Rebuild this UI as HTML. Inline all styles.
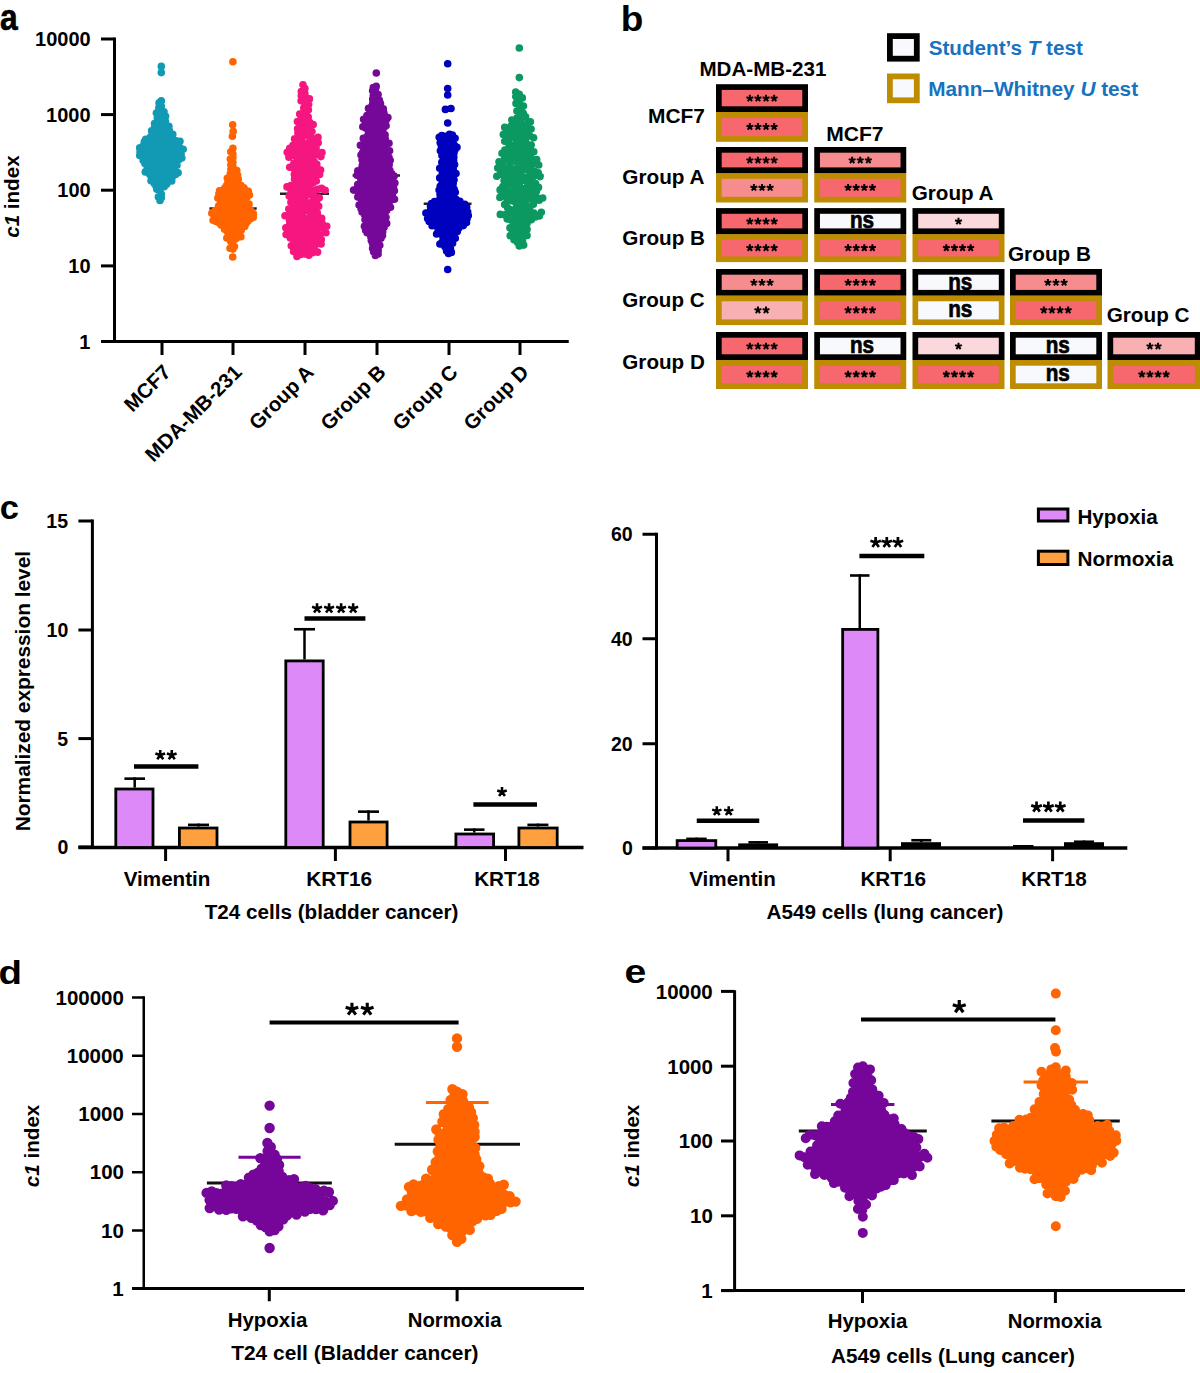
<!DOCTYPE html>
<html><head><meta charset="utf-8"><style>
html,body{margin:0;padding:0;background:#fff;width:1200px;height:1373px;overflow:hidden}
svg{display:block}
</style></head><body>
<svg width="1200" height="1373" viewBox="0 0 1200 1373">
<rect width="1200" height="1373" fill="#fff"/>
<line x1="114.50" y1="37.50" x2="114.50" y2="341.50" stroke="#000" stroke-width="3" stroke-linecap="butt"/>
<line x1="101.00" y1="39.00" x2="114.50" y2="39.00" stroke="#000" stroke-width="3" stroke-linecap="butt"/>
<line x1="101.00" y1="114.60" x2="114.50" y2="114.60" stroke="#000" stroke-width="3" stroke-linecap="butt"/>
<line x1="101.00" y1="190.20" x2="114.50" y2="190.20" stroke="#000" stroke-width="3" stroke-linecap="butt"/>
<line x1="101.00" y1="265.90" x2="114.50" y2="265.90" stroke="#000" stroke-width="3" stroke-linecap="butt"/>
<line x1="101.00" y1="341.50" x2="114.50" y2="341.50" stroke="#000" stroke-width="3" stroke-linecap="butt"/>
<line x1="101.00" y1="341.50" x2="568.75" y2="341.50" stroke="#000" stroke-width="3" stroke-linecap="butt"/>
<line x1="162.00" y1="341.50" x2="162.00" y2="355.00" stroke="#000" stroke-width="3" stroke-linecap="butt"/>
<line x1="233.00" y1="341.50" x2="233.00" y2="355.00" stroke="#000" stroke-width="3" stroke-linecap="butt"/>
<line x1="305.00" y1="341.50" x2="305.00" y2="355.00" stroke="#000" stroke-width="3" stroke-linecap="butt"/>
<line x1="377.00" y1="341.50" x2="377.00" y2="355.00" stroke="#000" stroke-width="3" stroke-linecap="butt"/>
<line x1="449.00" y1="341.50" x2="449.00" y2="355.00" stroke="#000" stroke-width="3" stroke-linecap="butt"/>
<line x1="520.00" y1="341.50" x2="520.00" y2="355.00" stroke="#000" stroke-width="3" stroke-linecap="butt"/>
<line x1="209.40" y1="208.40" x2="256.70" y2="208.40" stroke="#222" stroke-width="2.5" stroke-linecap="butt"/>
<line x1="280.00" y1="193.80" x2="329.00" y2="193.80" stroke="#222" stroke-width="2.5" stroke-linecap="butt"/>
<line x1="352.60" y1="175.40" x2="400.00" y2="175.40" stroke="#222" stroke-width="2.5" stroke-linecap="butt"/>
<line x1="423.70" y1="203.80" x2="471.50" y2="203.80" stroke="#222" stroke-width="2.5" stroke-linecap="butt"/>
<line x1="495.60" y1="175.40" x2="543.50" y2="175.40" stroke="#222" stroke-width="2.5" stroke-linecap="butt"/>
<path d="M157.5,147.2a3.8,3.8 0 1,0 7.6,0a3.8,3.8 0 1,0 -7.6,0M157.5,163.8a3.8,3.8 0 1,0 7.6,0a3.8,3.8 0 1,0 -7.6,0M157.5,168.9a3.8,3.8 0 1,0 7.6,0a3.8,3.8 0 1,0 -7.6,0M157.5,143.9a3.8,3.8 0 1,0 7.6,0a3.8,3.8 0 1,0 -7.6,0M157.5,177.2a3.8,3.8 0 1,0 7.6,0a3.8,3.8 0 1,0 -7.6,0M157.5,187.5a3.8,3.8 0 1,0 7.6,0a3.8,3.8 0 1,0 -7.6,0M157.5,157.5a3.8,3.8 0 1,0 7.6,0a3.8,3.8 0 1,0 -7.6,0M156.6,141.0a3.8,3.8 0 1,0 7.6,0a3.8,3.8 0 1,0 -7.6,0M157.5,119.9a3.8,3.8 0 1,0 7.6,0a3.8,3.8 0 1,0 -7.6,0M157.5,183.0a3.8,3.8 0 1,0 7.6,0a3.8,3.8 0 1,0 -7.6,0M157.5,129.3a3.8,3.8 0 1,0 7.6,0a3.8,3.8 0 1,0 -7.6,0M157.5,135.9a3.8,3.8 0 1,0 7.6,0a3.8,3.8 0 1,0 -7.6,0M154.6,120.8a3.8,3.8 0 1,0 7.6,0a3.8,3.8 0 1,0 -7.6,0M156.1,160.1a3.8,3.8 0 1,0 7.6,0a3.8,3.8 0 1,0 -7.6,0M154.6,176.1a3.8,3.8 0 1,0 7.6,0a3.8,3.8 0 1,0 -7.6,0M155.9,149.8a3.8,3.8 0 1,0 7.6,0a3.8,3.8 0 1,0 -7.6,0M159.5,149.5a3.8,3.8 0 1,0 7.6,0a3.8,3.8 0 1,0 -7.6,0M160.4,176.3a3.8,3.8 0 1,0 7.6,0a3.8,3.8 0 1,0 -7.6,0M154.6,128.2a3.8,3.8 0 1,0 7.6,0a3.8,3.8 0 1,0 -7.6,0M157.5,153.7a3.8,3.8 0 1,0 7.6,0a3.8,3.8 0 1,0 -7.6,0M154.8,156.0a3.8,3.8 0 1,0 7.6,0a3.8,3.8 0 1,0 -7.6,0M152.5,178.3a3.8,3.8 0 1,0 7.6,0a3.8,3.8 0 1,0 -7.6,0M157.5,172.5a3.8,3.8 0 1,0 7.6,0a3.8,3.8 0 1,0 -7.6,0M160.5,154.4a3.8,3.8 0 1,0 7.6,0a3.8,3.8 0 1,0 -7.6,0M152.9,150.4a3.8,3.8 0 1,0 7.6,0a3.8,3.8 0 1,0 -7.6,0M155.5,166.7a3.8,3.8 0 1,0 7.6,0a3.8,3.8 0 1,0 -7.6,0M154.6,144.8a3.8,3.8 0 1,0 7.6,0a3.8,3.8 0 1,0 -7.6,0M152.6,154.0a3.8,3.8 0 1,0 7.6,0a3.8,3.8 0 1,0 -7.6,0M157.5,116.6a3.8,3.8 0 1,0 7.6,0a3.8,3.8 0 1,0 -7.6,0M160.5,144.1a3.8,3.8 0 1,0 7.6,0a3.8,3.8 0 1,0 -7.6,0M159.0,160.8a3.8,3.8 0 1,0 7.6,0a3.8,3.8 0 1,0 -7.6,0M162.2,152.0a3.8,3.8 0 1,0 7.6,0a3.8,3.8 0 1,0 -7.6,0M157.5,110.3a3.8,3.8 0 1,0 7.6,0a3.8,3.8 0 1,0 -7.6,0M154.6,170.0a3.8,3.8 0 1,0 7.6,0a3.8,3.8 0 1,0 -7.6,0M162.3,148.5a3.8,3.8 0 1,0 7.6,0a3.8,3.8 0 1,0 -7.6,0M151.7,145.7a3.8,3.8 0 1,0 7.6,0a3.8,3.8 0 1,0 -7.6,0M149.9,151.0a3.8,3.8 0 1,0 7.6,0a3.8,3.8 0 1,0 -7.6,0M165.3,151.7a3.8,3.8 0 1,0 7.6,0a3.8,3.8 0 1,0 -7.6,0M160.5,129.9a3.8,3.8 0 1,0 7.6,0a3.8,3.8 0 1,0 -7.6,0M153.3,161.4a3.8,3.8 0 1,0 7.6,0a3.8,3.8 0 1,0 -7.6,0M163.5,154.8a3.8,3.8 0 1,0 7.6,0a3.8,3.8 0 1,0 -7.6,0M159.9,167.1a3.8,3.8 0 1,0 7.6,0a3.8,3.8 0 1,0 -7.6,0M147.4,152.6a3.8,3.8 0 1,0 7.6,0a3.8,3.8 0 1,0 -7.6,0M157.5,194.0a3.8,3.8 0 1,0 7.6,0a3.8,3.8 0 1,0 -7.6,0M161.9,161.7a3.8,3.8 0 1,0 7.6,0a3.8,3.8 0 1,0 -7.6,0M151.8,164.0a3.8,3.8 0 1,0 7.6,0a3.8,3.8 0 1,0 -7.6,0M165.2,147.6a3.8,3.8 0 1,0 7.6,0a3.8,3.8 0 1,0 -7.6,0M163.5,143.6a3.8,3.8 0 1,0 7.6,0a3.8,3.8 0 1,0 -7.6,0M159.5,140.0a3.8,3.8 0 1,0 7.6,0a3.8,3.8 0 1,0 -7.6,0M154.9,137.5a3.8,3.8 0 1,0 7.6,0a3.8,3.8 0 1,0 -7.6,0M163.4,175.6a3.8,3.8 0 1,0 7.6,0a3.8,3.8 0 1,0 -7.6,0M153.0,142.2a3.8,3.8 0 1,0 7.6,0a3.8,3.8 0 1,0 -7.6,0M155.2,114.6a3.8,3.8 0 1,0 7.6,0a3.8,3.8 0 1,0 -7.6,0M160.4,118.9a3.8,3.8 0 1,0 7.6,0a3.8,3.8 0 1,0 -7.6,0M151.2,156.7a3.8,3.8 0 1,0 7.6,0a3.8,3.8 0 1,0 -7.6,0M160.5,158.2a3.8,3.8 0 1,0 7.6,0a3.8,3.8 0 1,0 -7.6,0M161.9,169.4a3.8,3.8 0 1,0 7.6,0a3.8,3.8 0 1,0 -7.6,0M148.8,145.0a3.8,3.8 0 1,0 7.6,0a3.8,3.8 0 1,0 -7.6,0M158.8,122.6a3.8,3.8 0 1,0 7.6,0a3.8,3.8 0 1,0 -7.6,0M156.2,124.2a3.8,3.8 0 1,0 7.6,0a3.8,3.8 0 1,0 -7.6,0M166.0,156.5a3.8,3.8 0 1,0 7.6,0a3.8,3.8 0 1,0 -7.6,0M164.9,162.3a3.8,3.8 0 1,0 7.6,0a3.8,3.8 0 1,0 -7.6,0M151.6,169.6a3.8,3.8 0 1,0 7.6,0a3.8,3.8 0 1,0 -7.6,0M163.5,158.4a3.8,3.8 0 1,0 7.6,0a3.8,3.8 0 1,0 -7.6,0M164.0,171.5a3.8,3.8 0 1,0 7.6,0a3.8,3.8 0 1,0 -7.6,0M153.5,118.0a3.8,3.8 0 1,0 7.6,0a3.8,3.8 0 1,0 -7.6,0M163.2,128.6a3.8,3.8 0 1,0 7.6,0a3.8,3.8 0 1,0 -7.6,0M151.8,175.2a3.8,3.8 0 1,0 7.6,0a3.8,3.8 0 1,0 -7.6,0M150.2,161.2a3.8,3.8 0 1,0 7.6,0a3.8,3.8 0 1,0 -7.6,0M167.9,153.2a3.8,3.8 0 1,0 7.6,0a3.8,3.8 0 1,0 -7.6,0M155.1,184.9a3.8,3.8 0 1,0 7.6,0a3.8,3.8 0 1,0 -7.6,0M144.8,154.1a3.8,3.8 0 1,0 7.6,0a3.8,3.8 0 1,0 -7.6,0M147.6,149.0a3.8,3.8 0 1,0 7.6,0a3.8,3.8 0 1,0 -7.6,0M167.8,146.0a3.8,3.8 0 1,0 7.6,0a3.8,3.8 0 1,0 -7.6,0M156.2,132.0a3.8,3.8 0 1,0 7.6,0a3.8,3.8 0 1,0 -7.6,0M169.6,150.7a3.8,3.8 0 1,0 7.6,0a3.8,3.8 0 1,0 -7.6,0M159.2,132.7a3.8,3.8 0 1,0 7.6,0a3.8,3.8 0 1,0 -7.6,0M159.4,126.9a3.8,3.8 0 1,0 7.6,0a3.8,3.8 0 1,0 -7.6,0M157.5,100.9a3.8,3.8 0 1,0 7.6,0a3.8,3.8 0 1,0 -7.6,0M146.2,143.3a3.8,3.8 0 1,0 7.6,0a3.8,3.8 0 1,0 -7.6,0M160.4,182.3a3.8,3.8 0 1,0 7.6,0a3.8,3.8 0 1,0 -7.6,0M166.5,143.0a3.8,3.8 0 1,0 7.6,0a3.8,3.8 0 1,0 -7.6,0M148.2,157.3a3.8,3.8 0 1,0 7.6,0a3.8,3.8 0 1,0 -7.6,0M147.3,162.1a3.8,3.8 0 1,0 7.6,0a3.8,3.8 0 1,0 -7.6,0M144.8,150.0a3.8,3.8 0 1,0 7.6,0a3.8,3.8 0 1,0 -7.6,0M171.6,153.0a3.8,3.8 0 1,0 7.6,0a3.8,3.8 0 1,0 -7.6,0M149.0,173.8a3.8,3.8 0 1,0 7.6,0a3.8,3.8 0 1,0 -7.6,0M164.7,168.2a3.8,3.8 0 1,0 7.6,0a3.8,3.8 0 1,0 -7.6,0M167.0,171.0a3.8,3.8 0 1,0 7.6,0a3.8,3.8 0 1,0 -7.6,0M162.5,178.5a3.8,3.8 0 1,0 7.6,0a3.8,3.8 0 1,0 -7.6,0M155.9,190.1a3.8,3.8 0 1,0 7.6,0a3.8,3.8 0 1,0 -7.6,0M149.2,167.7a3.8,3.8 0 1,0 7.6,0a3.8,3.8 0 1,0 -7.6,0M162.8,184.2a3.8,3.8 0 1,0 7.6,0a3.8,3.8 0 1,0 -7.6,0M141.8,155.0a3.8,3.8 0 1,0 7.6,0a3.8,3.8 0 1,0 -7.6,0M160.5,173.2a3.8,3.8 0 1,0 7.6,0a3.8,3.8 0 1,0 -7.6,0M148.3,170.9a3.8,3.8 0 1,0 7.6,0a3.8,3.8 0 1,0 -7.6,0M153.3,133.1a3.8,3.8 0 1,0 7.6,0a3.8,3.8 0 1,0 -7.6,0M167.2,164.3a3.8,3.8 0 1,0 7.6,0a3.8,3.8 0 1,0 -7.6,0M145.6,146.8a3.8,3.8 0 1,0 7.6,0a3.8,3.8 0 1,0 -7.6,0M161.9,164.8a3.8,3.8 0 1,0 7.6,0a3.8,3.8 0 1,0 -7.6,0M168.9,173.4a3.8,3.8 0 1,0 7.6,0a3.8,3.8 0 1,0 -7.6,0M161.9,138.1a3.8,3.8 0 1,0 7.6,0a3.8,3.8 0 1,0 -7.6,0M157.5,197.8a3.8,3.8 0 1,0 7.6,0a3.8,3.8 0 1,0 -7.6,0M169.5,142.6a3.8,3.8 0 1,0 7.6,0a3.8,3.8 0 1,0 -7.6,0M152.9,125.7a3.8,3.8 0 1,0 7.6,0a3.8,3.8 0 1,0 -7.6,0M154.6,196.9a3.8,3.8 0 1,0 7.6,0a3.8,3.8 0 1,0 -7.6,0M173.5,155.3a3.8,3.8 0 1,0 7.6,0a3.8,3.8 0 1,0 -7.6,0M167.8,168.0a3.8,3.8 0 1,0 7.6,0a3.8,3.8 0 1,0 -7.6,0M167.6,159.0a3.8,3.8 0 1,0 7.6,0a3.8,3.8 0 1,0 -7.6,0M165.1,126.2a3.8,3.8 0 1,0 7.6,0a3.8,3.8 0 1,0 -7.6,0M146.2,174.8a3.8,3.8 0 1,0 7.6,0a3.8,3.8 0 1,0 -7.6,0M161.5,124.7a3.8,3.8 0 1,0 7.6,0a3.8,3.8 0 1,0 -7.6,0M155.3,102.9a3.8,3.8 0 1,0 7.6,0a3.8,3.8 0 1,0 -7.6,0M152.0,136.5a3.8,3.8 0 1,0 7.6,0a3.8,3.8 0 1,0 -7.6,0M169.9,157.0a3.8,3.8 0 1,0 7.6,0a3.8,3.8 0 1,0 -7.6,0M174.5,152.4a3.8,3.8 0 1,0 7.6,0a3.8,3.8 0 1,0 -7.6,0M171.8,174.4a3.8,3.8 0 1,0 7.6,0a3.8,3.8 0 1,0 -7.6,0M145.4,159.7a3.8,3.8 0 1,0 7.6,0a3.8,3.8 0 1,0 -7.6,0M143.4,144.4a3.8,3.8 0 1,0 7.6,0a3.8,3.8 0 1,0 -7.6,0M144.6,172.2a3.8,3.8 0 1,0 7.6,0a3.8,3.8 0 1,0 -7.6,0M160.2,111.7a3.8,3.8 0 1,0 7.6,0a3.8,3.8 0 1,0 -7.6,0M155.9,179.8a3.8,3.8 0 1,0 7.6,0a3.8,3.8 0 1,0 -7.6,0M172.3,158.9a3.8,3.8 0 1,0 7.6,0a3.8,3.8 0 1,0 -7.6,0M147.0,165.6a3.8,3.8 0 1,0 7.6,0a3.8,3.8 0 1,0 -7.6,0M150.0,141.7a3.8,3.8 0 1,0 7.6,0a3.8,3.8 0 1,0 -7.6,0M163.4,135.5a3.8,3.8 0 1,0 7.6,0a3.8,3.8 0 1,0 -7.6,0M149.3,177.0a3.8,3.8 0 1,0 7.6,0a3.8,3.8 0 1,0 -7.6,0M161.8,116.2a3.8,3.8 0 1,0 7.6,0a3.8,3.8 0 1,0 -7.6,0M144.4,140.8a3.8,3.8 0 1,0 7.6,0a3.8,3.8 0 1,0 -7.6,0M164.4,139.7a3.8,3.8 0 1,0 7.6,0a3.8,3.8 0 1,0 -7.6,0M150.6,127.7a3.8,3.8 0 1,0 7.6,0a3.8,3.8 0 1,0 -7.6,0M165.5,179.2a3.8,3.8 0 1,0 7.6,0a3.8,3.8 0 1,0 -7.6,0M160.4,186.7a3.8,3.8 0 1,0 7.6,0a3.8,3.8 0 1,0 -7.6,0M142.4,159.9a3.8,3.8 0 1,0 7.6,0a3.8,3.8 0 1,0 -7.6,0M170.8,145.3a3.8,3.8 0 1,0 7.6,0a3.8,3.8 0 1,0 -7.6,0M169.8,162.6a3.8,3.8 0 1,0 7.6,0a3.8,3.8 0 1,0 -7.6,0M152.2,185.9a3.8,3.8 0 1,0 7.6,0a3.8,3.8 0 1,0 -7.6,0M171.7,140.5a3.8,3.8 0 1,0 7.6,0a3.8,3.8 0 1,0 -7.6,0M170.3,166.3a3.8,3.8 0 1,0 7.6,0a3.8,3.8 0 1,0 -7.6,0M150.2,180.3a3.8,3.8 0 1,0 7.6,0a3.8,3.8 0 1,0 -7.6,0M165.6,130.5a3.8,3.8 0 1,0 7.6,0a3.8,3.8 0 1,0 -7.6,0M168.2,177.7a3.8,3.8 0 1,0 7.6,0a3.8,3.8 0 1,0 -7.6,0M175.3,159.4a3.8,3.8 0 1,0 7.6,0a3.8,3.8 0 1,0 -7.6,0M150.8,131.5a3.8,3.8 0 1,0 7.6,0a3.8,3.8 0 1,0 -7.6,0M149.0,138.8a3.8,3.8 0 1,0 7.6,0a3.8,3.8 0 1,0 -7.6,0M153.4,181.5a3.8,3.8 0 1,0 7.6,0a3.8,3.8 0 1,0 -7.6,0M147.2,180.7a3.8,3.8 0 1,0 7.6,0a3.8,3.8 0 1,0 -7.6,0M149.6,134.7a3.8,3.8 0 1,0 7.6,0a3.8,3.8 0 1,0 -7.6,0M166.0,133.8a3.8,3.8 0 1,0 7.6,0a3.8,3.8 0 1,0 -7.6,0M167.2,138.3a3.8,3.8 0 1,0 7.6,0a3.8,3.8 0 1,0 -7.6,0M144.5,163.1a3.8,3.8 0 1,0 7.6,0a3.8,3.8 0 1,0 -7.6,0M142.1,151.4a3.8,3.8 0 1,0 7.6,0a3.8,3.8 0 1,0 -7.6,0M173.6,142.8a3.8,3.8 0 1,0 7.6,0a3.8,3.8 0 1,0 -7.6,0M146.0,168.5a3.8,3.8 0 1,0 7.6,0a3.8,3.8 0 1,0 -7.6,0M150.7,123.6a3.8,3.8 0 1,0 7.6,0a3.8,3.8 0 1,0 -7.6,0M146.4,137.2a3.8,3.8 0 1,0 7.6,0a3.8,3.8 0 1,0 -7.6,0M141.6,146.9a3.8,3.8 0 1,0 7.6,0a3.8,3.8 0 1,0 -7.6,0M138.9,155.7a3.8,3.8 0 1,0 7.6,0a3.8,3.8 0 1,0 -7.6,0M170.0,170.3a3.8,3.8 0 1,0 7.6,0a3.8,3.8 0 1,0 -7.6,0M156.2,200.5a3.8,3.8 0 1,0 7.6,0a3.8,3.8 0 1,0 -7.6,0M141.9,139.2a3.8,3.8 0 1,0 7.6,0a3.8,3.8 0 1,0 -7.6,0M147.8,130.9a3.8,3.8 0 1,0 7.6,0a3.8,3.8 0 1,0 -7.6,0M174.8,145.6a3.8,3.8 0 1,0 7.6,0a3.8,3.8 0 1,0 -7.6,0M171.8,148.7a3.8,3.8 0 1,0 7.6,0a3.8,3.8 0 1,0 -7.6,0M177.3,153.5a3.8,3.8 0 1,0 7.6,0a3.8,3.8 0 1,0 -7.6,0M138.6,146.5a3.8,3.8 0 1,0 7.6,0a3.8,3.8 0 1,0 -7.6,0M143.1,165.8a3.8,3.8 0 1,0 7.6,0a3.8,3.8 0 1,0 -7.6,0M176.6,148.1a3.8,3.8 0 1,0 7.6,0a3.8,3.8 0 1,0 -7.6,0M140.5,141.9a3.8,3.8 0 1,0 7.6,0a3.8,3.8 0 1,0 -7.6,0M153.0,189.2a3.8,3.8 0 1,0 7.6,0a3.8,3.8 0 1,0 -7.6,0M139.0,151.0a3.8,3.8 0 1,0 7.6,0a3.8,3.8 0 1,0 -7.6,0M161.7,121.6a3.8,3.8 0 1,0 7.6,0a3.8,3.8 0 1,0 -7.6,0M157.5,106.2a3.8,3.8 0 1,0 7.6,0a3.8,3.8 0 1,0 -7.6,0M135.9,155.6a3.8,3.8 0 1,0 7.6,0a3.8,3.8 0 1,0 -7.6,0M178.0,157.9a3.8,3.8 0 1,0 7.6,0a3.8,3.8 0 1,0 -7.6,0M167.9,181.0a3.8,3.8 0 1,0 7.6,0a3.8,3.8 0 1,0 -7.6,0M152.6,113.1a3.8,3.8 0 1,0 7.6,0a3.8,3.8 0 1,0 -7.6,0M176.2,141.2a3.8,3.8 0 1,0 7.6,0a3.8,3.8 0 1,0 -7.6,0M139.4,160.6a3.8,3.8 0 1,0 7.6,0a3.8,3.8 0 1,0 -7.6,0M155.0,107.9a3.8,3.8 0 1,0 7.6,0a3.8,3.8 0 1,0 -7.6,0M150.5,183.4a3.8,3.8 0 1,0 7.6,0a3.8,3.8 0 1,0 -7.6,0M135.9,147.9a3.8,3.8 0 1,0 7.6,0a3.8,3.8 0 1,0 -7.6,0M141.5,171.9a3.8,3.8 0 1,0 7.6,0a3.8,3.8 0 1,0 -7.6,0M179.4,149.3a3.8,3.8 0 1,0 7.6,0a3.8,3.8 0 1,0 -7.6,0M169.0,134.3a3.8,3.8 0 1,0 7.6,0a3.8,3.8 0 1,0 -7.6,0M173.2,165.3a3.8,3.8 0 1,0 7.6,0a3.8,3.8 0 1,0 -7.6,0M141.1,163.5a3.8,3.8 0 1,0 7.6,0a3.8,3.8 0 1,0 -7.6,0M174.3,172.7a3.8,3.8 0 1,0 7.6,0a3.8,3.8 0 1,0 -7.6,0M136.2,152.1a3.8,3.8 0 1,0 7.6,0a3.8,3.8 0 1,0 -7.6,0M157.5,66.4a3.8,3.8 0 1,0 7.6,0a3.8,3.8 0 1,0 -7.6,0M157.5,72.6a3.8,3.8 0 1,0 7.6,0a3.8,3.8 0 1,0 -7.6,0" fill="#1299b4"/>
<path d="M229.1,217.6a3.8,3.8 0 1,0 7.6,0a3.8,3.8 0 1,0 -7.6,0M229.1,211.0a3.8,3.8 0 1,0 7.6,0a3.8,3.8 0 1,0 -7.6,0M229.1,181.3a3.8,3.8 0 1,0 7.6,0a3.8,3.8 0 1,0 -7.6,0M226.2,211.9a3.8,3.8 0 1,0 7.6,0a3.8,3.8 0 1,0 -7.6,0M229.1,205.3a3.8,3.8 0 1,0 7.6,0a3.8,3.8 0 1,0 -7.6,0M229.1,187.1a3.8,3.8 0 1,0 7.6,0a3.8,3.8 0 1,0 -7.6,0M226.1,205.7a3.8,3.8 0 1,0 7.6,0a3.8,3.8 0 1,0 -7.6,0M229.1,196.4a3.8,3.8 0 1,0 7.6,0a3.8,3.8 0 1,0 -7.6,0M226.7,189.0a3.8,3.8 0 1,0 7.6,0a3.8,3.8 0 1,0 -7.6,0M227.2,215.2a3.8,3.8 0 1,0 7.6,0a3.8,3.8 0 1,0 -7.6,0M227.2,220.0a3.8,3.8 0 1,0 7.6,0a3.8,3.8 0 1,0 -7.6,0M229.1,232.9a3.8,3.8 0 1,0 7.6,0a3.8,3.8 0 1,0 -7.6,0M229.1,228.5a3.8,3.8 0 1,0 7.6,0a3.8,3.8 0 1,0 -7.6,0M226.8,194.5a3.8,3.8 0 1,0 7.6,0a3.8,3.8 0 1,0 -7.6,0M229.1,223.3a3.8,3.8 0 1,0 7.6,0a3.8,3.8 0 1,0 -7.6,0M231.8,216.2a3.8,3.8 0 1,0 7.6,0a3.8,3.8 0 1,0 -7.6,0M224.2,214.6a3.8,3.8 0 1,0 7.6,0a3.8,3.8 0 1,0 -7.6,0M231.8,221.9a3.8,3.8 0 1,0 7.6,0a3.8,3.8 0 1,0 -7.6,0M231.7,194.9a3.8,3.8 0 1,0 7.6,0a3.8,3.8 0 1,0 -7.6,0M229.1,191.9a3.8,3.8 0 1,0 7.6,0a3.8,3.8 0 1,0 -7.6,0M231.5,212.8a3.8,3.8 0 1,0 7.6,0a3.8,3.8 0 1,0 -7.6,0M234.8,216.0a3.8,3.8 0 1,0 7.6,0a3.8,3.8 0 1,0 -7.6,0M224.5,218.6a3.8,3.8 0 1,0 7.6,0a3.8,3.8 0 1,0 -7.6,0M232.1,186.6a3.8,3.8 0 1,0 7.6,0a3.8,3.8 0 1,0 -7.6,0M229.1,199.5a3.8,3.8 0 1,0 7.6,0a3.8,3.8 0 1,0 -7.6,0M226.2,232.0a3.8,3.8 0 1,0 7.6,0a3.8,3.8 0 1,0 -7.6,0M232.1,229.0a3.8,3.8 0 1,0 7.6,0a3.8,3.8 0 1,0 -7.6,0M229.1,171.5a3.8,3.8 0 1,0 7.6,0a3.8,3.8 0 1,0 -7.6,0M234.0,192.9a3.8,3.8 0 1,0 7.6,0a3.8,3.8 0 1,0 -7.6,0M225.6,186.2a3.8,3.8 0 1,0 7.6,0a3.8,3.8 0 1,0 -7.6,0M225.4,222.4a3.8,3.8 0 1,0 7.6,0a3.8,3.8 0 1,0 -7.6,0M233.5,219.4a3.8,3.8 0 1,0 7.6,0a3.8,3.8 0 1,0 -7.6,0M234.5,212.4a3.8,3.8 0 1,0 7.6,0a3.8,3.8 0 1,0 -7.6,0M226.3,197.5a3.8,3.8 0 1,0 7.6,0a3.8,3.8 0 1,0 -7.6,0M222.2,220.6a3.8,3.8 0 1,0 7.6,0a3.8,3.8 0 1,0 -7.6,0M234.5,196.0a3.8,3.8 0 1,0 7.6,0a3.8,3.8 0 1,0 -7.6,0M234.7,188.1a3.8,3.8 0 1,0 7.6,0a3.8,3.8 0 1,0 -7.6,0M233.5,224.4a3.8,3.8 0 1,0 7.6,0a3.8,3.8 0 1,0 -7.6,0M232.1,204.7a3.8,3.8 0 1,0 7.6,0a3.8,3.8 0 1,0 -7.6,0M226.3,227.2a3.8,3.8 0 1,0 7.6,0a3.8,3.8 0 1,0 -7.6,0M221.4,213.4a3.8,3.8 0 1,0 7.6,0a3.8,3.8 0 1,0 -7.6,0M224.7,192.2a3.8,3.8 0 1,0 7.6,0a3.8,3.8 0 1,0 -7.6,0M236.9,218.2a3.8,3.8 0 1,0 7.6,0a3.8,3.8 0 1,0 -7.6,0M222.5,185.9a3.8,3.8 0 1,0 7.6,0a3.8,3.8 0 1,0 -7.6,0M230.8,225.8a3.8,3.8 0 1,0 7.6,0a3.8,3.8 0 1,0 -7.6,0M221.7,191.6a3.8,3.8 0 1,0 7.6,0a3.8,3.8 0 1,0 -7.6,0M231.5,209.1a3.8,3.8 0 1,0 7.6,0a3.8,3.8 0 1,0 -7.6,0M229.1,157.5a3.8,3.8 0 1,0 7.6,0a3.8,3.8 0 1,0 -7.6,0M237.1,193.2a3.8,3.8 0 1,0 7.6,0a3.8,3.8 0 1,0 -7.6,0M234.1,207.0a3.8,3.8 0 1,0 7.6,0a3.8,3.8 0 1,0 -7.6,0M227.7,202.2a3.8,3.8 0 1,0 7.6,0a3.8,3.8 0 1,0 -7.6,0M231.2,189.7a3.8,3.8 0 1,0 7.6,0a3.8,3.8 0 1,0 -7.6,0M229.1,166.9a3.8,3.8 0 1,0 7.6,0a3.8,3.8 0 1,0 -7.6,0M227.1,169.2a3.8,3.8 0 1,0 7.6,0a3.8,3.8 0 1,0 -7.6,0M232.1,199.1a3.8,3.8 0 1,0 7.6,0a3.8,3.8 0 1,0 -7.6,0M223.2,206.8a3.8,3.8 0 1,0 7.6,0a3.8,3.8 0 1,0 -7.6,0M223.6,198.9a3.8,3.8 0 1,0 7.6,0a3.8,3.8 0 1,0 -7.6,0M222.8,224.1a3.8,3.8 0 1,0 7.6,0a3.8,3.8 0 1,0 -7.6,0M230.8,183.8a3.8,3.8 0 1,0 7.6,0a3.8,3.8 0 1,0 -7.6,0M229.1,175.0a3.8,3.8 0 1,0 7.6,0a3.8,3.8 0 1,0 -7.6,0M223.9,195.5a3.8,3.8 0 1,0 7.6,0a3.8,3.8 0 1,0 -7.6,0M226.3,180.0a3.8,3.8 0 1,0 7.6,0a3.8,3.8 0 1,0 -7.6,0M220.2,194.2a3.8,3.8 0 1,0 7.6,0a3.8,3.8 0 1,0 -7.6,0M237.1,207.5a3.8,3.8 0 1,0 7.6,0a3.8,3.8 0 1,0 -7.6,0M237.4,196.9a3.8,3.8 0 1,0 7.6,0a3.8,3.8 0 1,0 -7.6,0M221.7,217.4a3.8,3.8 0 1,0 7.6,0a3.8,3.8 0 1,0 -7.6,0M237.5,211.5a3.8,3.8 0 1,0 7.6,0a3.8,3.8 0 1,0 -7.6,0M238.4,215.6a3.8,3.8 0 1,0 7.6,0a3.8,3.8 0 1,0 -7.6,0M229.1,239.4a3.8,3.8 0 1,0 7.6,0a3.8,3.8 0 1,0 -7.6,0M220.6,198.6a3.8,3.8 0 1,0 7.6,0a3.8,3.8 0 1,0 -7.6,0M235.4,226.7a3.8,3.8 0 1,0 7.6,0a3.8,3.8 0 1,0 -7.6,0M229.1,154.0a3.8,3.8 0 1,0 7.6,0a3.8,3.8 0 1,0 -7.6,0M240.4,197.6a3.8,3.8 0 1,0 7.6,0a3.8,3.8 0 1,0 -7.6,0M226.5,173.5a3.8,3.8 0 1,0 7.6,0a3.8,3.8 0 1,0 -7.6,0M231.6,173.3a3.8,3.8 0 1,0 7.6,0a3.8,3.8 0 1,0 -7.6,0M227.0,164.7a3.8,3.8 0 1,0 7.6,0a3.8,3.8 0 1,0 -7.6,0M219.1,215.4a3.8,3.8 0 1,0 7.6,0a3.8,3.8 0 1,0 -7.6,0M241.2,217.0a3.8,3.8 0 1,0 7.6,0a3.8,3.8 0 1,0 -7.6,0M220.5,208.0a3.8,3.8 0 1,0 7.6,0a3.8,3.8 0 1,0 -7.6,0M234.6,230.8a3.8,3.8 0 1,0 7.6,0a3.8,3.8 0 1,0 -7.6,0M234.1,184.4a3.8,3.8 0 1,0 7.6,0a3.8,3.8 0 1,0 -7.6,0M218.8,212.0a3.8,3.8 0 1,0 7.6,0a3.8,3.8 0 1,0 -7.6,0M233.4,201.8a3.8,3.8 0 1,0 7.6,0a3.8,3.8 0 1,0 -7.6,0M217.5,195.7a3.8,3.8 0 1,0 7.6,0a3.8,3.8 0 1,0 -7.6,0M216.3,216.7a3.8,3.8 0 1,0 7.6,0a3.8,3.8 0 1,0 -7.6,0M222.1,201.6a3.8,3.8 0 1,0 7.6,0a3.8,3.8 0 1,0 -7.6,0M231.8,234.3a3.8,3.8 0 1,0 7.6,0a3.8,3.8 0 1,0 -7.6,0M240.1,193.5a3.8,3.8 0 1,0 7.6,0a3.8,3.8 0 1,0 -7.6,0M242.6,214.3a3.8,3.8 0 1,0 7.6,0a3.8,3.8 0 1,0 -7.6,0M227.0,151.8a3.8,3.8 0 1,0 7.6,0a3.8,3.8 0 1,0 -7.6,0M220.8,204.9a3.8,3.8 0 1,0 7.6,0a3.8,3.8 0 1,0 -7.6,0M219.2,219.8a3.8,3.8 0 1,0 7.6,0a3.8,3.8 0 1,0 -7.6,0M236.3,202.9a3.8,3.8 0 1,0 7.6,0a3.8,3.8 0 1,0 -7.6,0M240.1,208.2a3.8,3.8 0 1,0 7.6,0a3.8,3.8 0 1,0 -7.6,0M244.8,216.4a3.8,3.8 0 1,0 7.6,0a3.8,3.8 0 1,0 -7.6,0M226.5,159.1a3.8,3.8 0 1,0 7.6,0a3.8,3.8 0 1,0 -7.6,0M215.1,193.8a3.8,3.8 0 1,0 7.6,0a3.8,3.8 0 1,0 -7.6,0M226.9,237.3a3.8,3.8 0 1,0 7.6,0a3.8,3.8 0 1,0 -7.6,0M214.4,219.0a3.8,3.8 0 1,0 7.6,0a3.8,3.8 0 1,0 -7.6,0M213.9,215.0a3.8,3.8 0 1,0 7.6,0a3.8,3.8 0 1,0 -7.6,0M237.5,189.3a3.8,3.8 0 1,0 7.6,0a3.8,3.8 0 1,0 -7.6,0M217.8,206.4a3.8,3.8 0 1,0 7.6,0a3.8,3.8 0 1,0 -7.6,0M234.1,236.3a3.8,3.8 0 1,0 7.6,0a3.8,3.8 0 1,0 -7.6,0M230.8,177.5a3.8,3.8 0 1,0 7.6,0a3.8,3.8 0 1,0 -7.6,0M239.2,203.6a3.8,3.8 0 1,0 7.6,0a3.8,3.8 0 1,0 -7.6,0M227.0,183.5a3.8,3.8 0 1,0 7.6,0a3.8,3.8 0 1,0 -7.6,0M246.6,213.9a3.8,3.8 0 1,0 7.6,0a3.8,3.8 0 1,0 -7.6,0M223.3,231.2a3.8,3.8 0 1,0 7.6,0a3.8,3.8 0 1,0 -7.6,0M224.5,235.4a3.8,3.8 0 1,0 7.6,0a3.8,3.8 0 1,0 -7.6,0M236.2,222.8a3.8,3.8 0 1,0 7.6,0a3.8,3.8 0 1,0 -7.6,0M220.7,188.3a3.8,3.8 0 1,0 7.6,0a3.8,3.8 0 1,0 -7.6,0M229.1,249.1a3.8,3.8 0 1,0 7.6,0a3.8,3.8 0 1,0 -7.6,0M220.2,225.6a3.8,3.8 0 1,0 7.6,0a3.8,3.8 0 1,0 -7.6,0M226.8,241.3a3.8,3.8 0 1,0 7.6,0a3.8,3.8 0 1,0 -7.6,0M238.1,225.3a3.8,3.8 0 1,0 7.6,0a3.8,3.8 0 1,0 -7.6,0M218.8,190.9a3.8,3.8 0 1,0 7.6,0a3.8,3.8 0 1,0 -7.6,0M229.1,148.2a3.8,3.8 0 1,0 7.6,0a3.8,3.8 0 1,0 -7.6,0M226.2,248.2a3.8,3.8 0 1,0 7.6,0a3.8,3.8 0 1,0 -7.6,0M216.9,209.6a3.8,3.8 0 1,0 7.6,0a3.8,3.8 0 1,0 -7.6,0M240.1,187.7a3.8,3.8 0 1,0 7.6,0a3.8,3.8 0 1,0 -7.6,0M217.2,224.9a3.8,3.8 0 1,0 7.6,0a3.8,3.8 0 1,0 -7.6,0M232.1,180.9a3.8,3.8 0 1,0 7.6,0a3.8,3.8 0 1,0 -7.6,0M243.0,207.4a3.8,3.8 0 1,0 7.6,0a3.8,3.8 0 1,0 -7.6,0M238.2,200.6a3.8,3.8 0 1,0 7.6,0a3.8,3.8 0 1,0 -7.6,0M238.6,221.0a3.8,3.8 0 1,0 7.6,0a3.8,3.8 0 1,0 -7.6,0M240.9,226.4a3.8,3.8 0 1,0 7.6,0a3.8,3.8 0 1,0 -7.6,0M219.0,201.3a3.8,3.8 0 1,0 7.6,0a3.8,3.8 0 1,0 -7.6,0M223.0,238.0a3.8,3.8 0 1,0 7.6,0a3.8,3.8 0 1,0 -7.6,0M242.2,223.6a3.8,3.8 0 1,0 7.6,0a3.8,3.8 0 1,0 -7.6,0M211.0,214.1a3.8,3.8 0 1,0 7.6,0a3.8,3.8 0 1,0 -7.6,0M214.8,206.1a3.8,3.8 0 1,0 7.6,0a3.8,3.8 0 1,0 -7.6,0M226.0,176.5a3.8,3.8 0 1,0 7.6,0a3.8,3.8 0 1,0 -7.6,0M223.3,227.8a3.8,3.8 0 1,0 7.6,0a3.8,3.8 0 1,0 -7.6,0M230.7,246.5a3.8,3.8 0 1,0 7.6,0a3.8,3.8 0 1,0 -7.6,0M246.8,218.7a3.8,3.8 0 1,0 7.6,0a3.8,3.8 0 1,0 -7.6,0M236.0,233.5a3.8,3.8 0 1,0 7.6,0a3.8,3.8 0 1,0 -7.6,0M242.2,204.3a3.8,3.8 0 1,0 7.6,0a3.8,3.8 0 1,0 -7.6,0M243.4,197.0a3.8,3.8 0 1,0 7.6,0a3.8,3.8 0 1,0 -7.6,0M232.1,238.8a3.8,3.8 0 1,0 7.6,0a3.8,3.8 0 1,0 -7.6,0M233.0,170.6a3.8,3.8 0 1,0 7.6,0a3.8,3.8 0 1,0 -7.6,0M233.8,175.4a3.8,3.8 0 1,0 7.6,0a3.8,3.8 0 1,0 -7.6,0M241.7,190.3a3.8,3.8 0 1,0 7.6,0a3.8,3.8 0 1,0 -7.6,0M227.1,208.7a3.8,3.8 0 1,0 7.6,0a3.8,3.8 0 1,0 -7.6,0M237.1,236.7a3.8,3.8 0 1,0 7.6,0a3.8,3.8 0 1,0 -7.6,0M234.5,179.1a3.8,3.8 0 1,0 7.6,0a3.8,3.8 0 1,0 -7.6,0M249.6,213.7a3.8,3.8 0 1,0 7.6,0a3.8,3.8 0 1,0 -7.6,0M215.1,222.7a3.8,3.8 0 1,0 7.6,0a3.8,3.8 0 1,0 -7.6,0M244.0,221.2a3.8,3.8 0 1,0 7.6,0a3.8,3.8 0 1,0 -7.6,0M223.5,178.2a3.8,3.8 0 1,0 7.6,0a3.8,3.8 0 1,0 -7.6,0M213.9,209.0a3.8,3.8 0 1,0 7.6,0a3.8,3.8 0 1,0 -7.6,0M223.7,210.1a3.8,3.8 0 1,0 7.6,0a3.8,3.8 0 1,0 -7.6,0M212.3,221.5a3.8,3.8 0 1,0 7.6,0a3.8,3.8 0 1,0 -7.6,0M208.0,213.2a3.8,3.8 0 1,0 7.6,0a3.8,3.8 0 1,0 -7.6,0M240.5,211.3a3.8,3.8 0 1,0 7.6,0a3.8,3.8 0 1,0 -7.6,0M216.2,200.1a3.8,3.8 0 1,0 7.6,0a3.8,3.8 0 1,0 -7.6,0M243.7,210.4a3.8,3.8 0 1,0 7.6,0a3.8,3.8 0 1,0 -7.6,0M229.1,162.3a3.8,3.8 0 1,0 7.6,0a3.8,3.8 0 1,0 -7.6,0M245.2,204.0a3.8,3.8 0 1,0 7.6,0a3.8,3.8 0 1,0 -7.6,0M211.5,218.1a3.8,3.8 0 1,0 7.6,0a3.8,3.8 0 1,0 -7.6,0M245.6,195.0a3.8,3.8 0 1,0 7.6,0a3.8,3.8 0 1,0 -7.6,0M215.7,190.7a3.8,3.8 0 1,0 7.6,0a3.8,3.8 0 1,0 -7.6,0M237.5,230.1a3.8,3.8 0 1,0 7.6,0a3.8,3.8 0 1,0 -7.6,0M237.1,185.2a3.8,3.8 0 1,0 7.6,0a3.8,3.8 0 1,0 -7.6,0M244.6,191.4a3.8,3.8 0 1,0 7.6,0a3.8,3.8 0 1,0 -7.6,0M220.7,229.3a3.8,3.8 0 1,0 7.6,0a3.8,3.8 0 1,0 -7.6,0M246.7,209.7a3.8,3.8 0 1,0 7.6,0a3.8,3.8 0 1,0 -7.6,0M214.0,198.0a3.8,3.8 0 1,0 7.6,0a3.8,3.8 0 1,0 -7.6,0M216.6,203.1a3.8,3.8 0 1,0 7.6,0a3.8,3.8 0 1,0 -7.6,0M249.4,217.2a3.8,3.8 0 1,0 7.6,0a3.8,3.8 0 1,0 -7.6,0M242.0,200.2a3.8,3.8 0 1,0 7.6,0a3.8,3.8 0 1,0 -7.6,0M211.3,210.6a3.8,3.8 0 1,0 7.6,0a3.8,3.8 0 1,0 -7.6,0M224.1,182.1a3.8,3.8 0 1,0 7.6,0a3.8,3.8 0 1,0 -7.6,0M209.3,220.2a3.8,3.8 0 1,0 7.6,0a3.8,3.8 0 1,0 -7.6,0M215.8,212.6a3.8,3.8 0 1,0 7.6,0a3.8,3.8 0 1,0 -7.6,0M229.1,243.9a3.8,3.8 0 1,0 7.6,0a3.8,3.8 0 1,0 -7.6,0M229.1,61.7a3.8,3.8 0 1,0 7.6,0a3.8,3.8 0 1,0 -7.6,0M228.9,124.8a3.8,3.8 0 1,0 7.6,0a3.8,3.8 0 1,0 -7.6,0M229.4,131.4a3.8,3.8 0 1,0 7.6,0a3.8,3.8 0 1,0 -7.6,0M228.6,136.3a3.8,3.8 0 1,0 7.6,0a3.8,3.8 0 1,0 -7.6,0M228.9,257.0a3.8,3.8 0 1,0 7.6,0a3.8,3.8 0 1,0 -7.6,0" fill="#ff6400"/>
<path d="M301.1,143.7a3.8,3.8 0 1,0 7.6,0a3.8,3.8 0 1,0 -7.6,0M301.1,198.8a3.8,3.8 0 1,0 7.6,0a3.8,3.8 0 1,0 -7.6,0M301.1,231.2a3.8,3.8 0 1,0 7.6,0a3.8,3.8 0 1,0 -7.6,0M301.1,112.0a3.8,3.8 0 1,0 7.6,0a3.8,3.8 0 1,0 -7.6,0M301.1,135.6a3.8,3.8 0 1,0 7.6,0a3.8,3.8 0 1,0 -7.6,0M301.1,210.4a3.8,3.8 0 1,0 7.6,0a3.8,3.8 0 1,0 -7.6,0M301.1,183.9a3.8,3.8 0 1,0 7.6,0a3.8,3.8 0 1,0 -7.6,0M301.1,173.0a3.8,3.8 0 1,0 7.6,0a3.8,3.8 0 1,0 -7.6,0M301.1,222.6a3.8,3.8 0 1,0 7.6,0a3.8,3.8 0 1,0 -7.6,0M301.1,162.9a3.8,3.8 0 1,0 7.6,0a3.8,3.8 0 1,0 -7.6,0M297.0,211.4a3.8,3.8 0 1,0 7.6,0a3.8,3.8 0 1,0 -7.6,0M297.0,221.6a3.8,3.8 0 1,0 7.6,0a3.8,3.8 0 1,0 -7.6,0M301.1,240.3a3.8,3.8 0 1,0 7.6,0a3.8,3.8 0 1,0 -7.6,0M301.1,93.6a3.8,3.8 0 1,0 7.6,0a3.8,3.8 0 1,0 -7.6,0M301.1,88.5a3.8,3.8 0 1,0 7.6,0a3.8,3.8 0 1,0 -7.6,0M301.1,128.5a3.8,3.8 0 1,0 7.6,0a3.8,3.8 0 1,0 -7.6,0M297.9,160.2a3.8,3.8 0 1,0 7.6,0a3.8,3.8 0 1,0 -7.6,0M304.7,208.3a3.8,3.8 0 1,0 7.6,0a3.8,3.8 0 1,0 -7.6,0M302.5,218.7a3.8,3.8 0 1,0 7.6,0a3.8,3.8 0 1,0 -7.6,0M297.0,172.5a3.8,3.8 0 1,0 7.6,0a3.8,3.8 0 1,0 -7.6,0M297.9,141.1a3.8,3.8 0 1,0 7.6,0a3.8,3.8 0 1,0 -7.6,0M297.0,241.1a3.8,3.8 0 1,0 7.6,0a3.8,3.8 0 1,0 -7.6,0M305.1,241.4a3.8,3.8 0 1,0 7.6,0a3.8,3.8 0 1,0 -7.6,0M299.6,169.1a3.8,3.8 0 1,0 7.6,0a3.8,3.8 0 1,0 -7.6,0M298.9,216.6a3.8,3.8 0 1,0 7.6,0a3.8,3.8 0 1,0 -7.6,0M305.2,172.3a3.8,3.8 0 1,0 7.6,0a3.8,3.8 0 1,0 -7.6,0M304.9,224.4a3.8,3.8 0 1,0 7.6,0a3.8,3.8 0 1,0 -7.6,0M306.0,212.3a3.8,3.8 0 1,0 7.6,0a3.8,3.8 0 1,0 -7.6,0M297.2,145.2a3.8,3.8 0 1,0 7.6,0a3.8,3.8 0 1,0 -7.6,0M293.5,213.6a3.8,3.8 0 1,0 7.6,0a3.8,3.8 0 1,0 -7.6,0M299.7,115.9a3.8,3.8 0 1,0 7.6,0a3.8,3.8 0 1,0 -7.6,0M297.2,200.4a3.8,3.8 0 1,0 7.6,0a3.8,3.8 0 1,0 -7.6,0M297.5,130.7a3.8,3.8 0 1,0 7.6,0a3.8,3.8 0 1,0 -7.6,0M298.2,125.5a3.8,3.8 0 1,0 7.6,0a3.8,3.8 0 1,0 -7.6,0M300.0,107.9a3.8,3.8 0 1,0 7.6,0a3.8,3.8 0 1,0 -7.6,0M302.9,159.1a3.8,3.8 0 1,0 7.6,0a3.8,3.8 0 1,0 -7.6,0M299.4,187.7a3.8,3.8 0 1,0 7.6,0a3.8,3.8 0 1,0 -7.6,0M301.1,149.5a3.8,3.8 0 1,0 7.6,0a3.8,3.8 0 1,0 -7.6,0M301.3,119.7a3.8,3.8 0 1,0 7.6,0a3.8,3.8 0 1,0 -7.6,0M301.1,203.0a3.8,3.8 0 1,0 7.6,0a3.8,3.8 0 1,0 -7.6,0M296.9,184.2a3.8,3.8 0 1,0 7.6,0a3.8,3.8 0 1,0 -7.6,0M301.1,154.9a3.8,3.8 0 1,0 7.6,0a3.8,3.8 0 1,0 -7.6,0M297.9,233.9a3.8,3.8 0 1,0 7.6,0a3.8,3.8 0 1,0 -7.6,0M305.1,185.0a3.8,3.8 0 1,0 7.6,0a3.8,3.8 0 1,0 -7.6,0M301.5,235.8a3.8,3.8 0 1,0 7.6,0a3.8,3.8 0 1,0 -7.6,0M293.3,223.5a3.8,3.8 0 1,0 7.6,0a3.8,3.8 0 1,0 -7.6,0M299.9,179.9a3.8,3.8 0 1,0 7.6,0a3.8,3.8 0 1,0 -7.6,0M308.9,215.3a3.8,3.8 0 1,0 7.6,0a3.8,3.8 0 1,0 -7.6,0M297.5,95.8a3.8,3.8 0 1,0 7.6,0a3.8,3.8 0 1,0 -7.6,0M305.5,237.2a3.8,3.8 0 1,0 7.6,0a3.8,3.8 0 1,0 -7.6,0M297.2,153.3a3.8,3.8 0 1,0 7.6,0a3.8,3.8 0 1,0 -7.6,0M301.1,247.3a3.8,3.8 0 1,0 7.6,0a3.8,3.8 0 1,0 -7.6,0M304.2,165.7a3.8,3.8 0 1,0 7.6,0a3.8,3.8 0 1,0 -7.6,0M296.9,247.6a3.8,3.8 0 1,0 7.6,0a3.8,3.8 0 1,0 -7.6,0M309.3,242.0a3.8,3.8 0 1,0 7.6,0a3.8,3.8 0 1,0 -7.6,0M296.4,166.4a3.8,3.8 0 1,0 7.6,0a3.8,3.8 0 1,0 -7.6,0M293.4,239.1a3.8,3.8 0 1,0 7.6,0a3.8,3.8 0 1,0 -7.6,0M298.7,207.0a3.8,3.8 0 1,0 7.6,0a3.8,3.8 0 1,0 -7.6,0M306.6,219.5a3.8,3.8 0 1,0 7.6,0a3.8,3.8 0 1,0 -7.6,0M307.0,158.6a3.8,3.8 0 1,0 7.6,0a3.8,3.8 0 1,0 -7.6,0M305.1,134.5a3.8,3.8 0 1,0 7.6,0a3.8,3.8 0 1,0 -7.6,0M294.7,157.5a3.8,3.8 0 1,0 7.6,0a3.8,3.8 0 1,0 -7.6,0M301.1,253.9a3.8,3.8 0 1,0 7.6,0a3.8,3.8 0 1,0 -7.6,0M289.3,214.0a3.8,3.8 0 1,0 7.6,0a3.8,3.8 0 1,0 -7.6,0M297.0,254.5a3.8,3.8 0 1,0 7.6,0a3.8,3.8 0 1,0 -7.6,0M309.6,155.2a3.8,3.8 0 1,0 7.6,0a3.8,3.8 0 1,0 -7.6,0M293.8,244.9a3.8,3.8 0 1,0 7.6,0a3.8,3.8 0 1,0 -7.6,0M305.0,255.3a3.8,3.8 0 1,0 7.6,0a3.8,3.8 0 1,0 -7.6,0M290.3,242.6a3.8,3.8 0 1,0 7.6,0a3.8,3.8 0 1,0 -7.6,0M310.7,219.8a3.8,3.8 0 1,0 7.6,0a3.8,3.8 0 1,0 -7.6,0M304.9,151.3a3.8,3.8 0 1,0 7.6,0a3.8,3.8 0 1,0 -7.6,0M294.1,133.1a3.8,3.8 0 1,0 7.6,0a3.8,3.8 0 1,0 -7.6,0M305.2,203.6a3.8,3.8 0 1,0 7.6,0a3.8,3.8 0 1,0 -7.6,0M294.5,150.1a3.8,3.8 0 1,0 7.6,0a3.8,3.8 0 1,0 -7.6,0M308.9,183.1a3.8,3.8 0 1,0 7.6,0a3.8,3.8 0 1,0 -7.6,0M309.9,210.7a3.8,3.8 0 1,0 7.6,0a3.8,3.8 0 1,0 -7.6,0M304.9,249.0a3.8,3.8 0 1,0 7.6,0a3.8,3.8 0 1,0 -7.6,0M293.1,171.0a3.8,3.8 0 1,0 7.6,0a3.8,3.8 0 1,0 -7.6,0M304.7,126.3a3.8,3.8 0 1,0 7.6,0a3.8,3.8 0 1,0 -7.6,0M303.1,177.1a3.8,3.8 0 1,0 7.6,0a3.8,3.8 0 1,0 -7.6,0M304.4,117.0a3.8,3.8 0 1,0 7.6,0a3.8,3.8 0 1,0 -7.6,0M289.9,221.1a3.8,3.8 0 1,0 7.6,0a3.8,3.8 0 1,0 -7.6,0M290.9,155.8a3.8,3.8 0 1,0 7.6,0a3.8,3.8 0 1,0 -7.6,0M309.3,171.3a3.8,3.8 0 1,0 7.6,0a3.8,3.8 0 1,0 -7.6,0M309.0,225.4a3.8,3.8 0 1,0 7.6,0a3.8,3.8 0 1,0 -7.6,0M301.1,191.7a3.8,3.8 0 1,0 7.6,0a3.8,3.8 0 1,0 -7.6,0M294.9,205.3a3.8,3.8 0 1,0 7.6,0a3.8,3.8 0 1,0 -7.6,0M308.8,201.4a3.8,3.8 0 1,0 7.6,0a3.8,3.8 0 1,0 -7.6,0M309.7,236.7a3.8,3.8 0 1,0 7.6,0a3.8,3.8 0 1,0 -7.6,0M313.1,243.7a3.8,3.8 0 1,0 7.6,0a3.8,3.8 0 1,0 -7.6,0M313.6,154.2a3.8,3.8 0 1,0 7.6,0a3.8,3.8 0 1,0 -7.6,0M296.2,178.0a3.8,3.8 0 1,0 7.6,0a3.8,3.8 0 1,0 -7.6,0M290.3,236.2a3.8,3.8 0 1,0 7.6,0a3.8,3.8 0 1,0 -7.6,0M305.5,180.5a3.8,3.8 0 1,0 7.6,0a3.8,3.8 0 1,0 -7.6,0M297.5,91.5a3.8,3.8 0 1,0 7.6,0a3.8,3.8 0 1,0 -7.6,0M307.7,175.7a3.8,3.8 0 1,0 7.6,0a3.8,3.8 0 1,0 -7.6,0M293.9,161.6a3.8,3.8 0 1,0 7.6,0a3.8,3.8 0 1,0 -7.6,0M299.2,84.7a3.8,3.8 0 1,0 7.6,0a3.8,3.8 0 1,0 -7.6,0M308.4,149.1a3.8,3.8 0 1,0 7.6,0a3.8,3.8 0 1,0 -7.6,0M293.4,209.3a3.8,3.8 0 1,0 7.6,0a3.8,3.8 0 1,0 -7.6,0M297.7,228.8a3.8,3.8 0 1,0 7.6,0a3.8,3.8 0 1,0 -7.6,0M293.7,233.4a3.8,3.8 0 1,0 7.6,0a3.8,3.8 0 1,0 -7.6,0M290.9,203.9a3.8,3.8 0 1,0 7.6,0a3.8,3.8 0 1,0 -7.6,0M294.8,217.7a3.8,3.8 0 1,0 7.6,0a3.8,3.8 0 1,0 -7.6,0M301.1,102.5a3.8,3.8 0 1,0 7.6,0a3.8,3.8 0 1,0 -7.6,0M295.9,114.1a3.8,3.8 0 1,0 7.6,0a3.8,3.8 0 1,0 -7.6,0M298.6,195.4a3.8,3.8 0 1,0 7.6,0a3.8,3.8 0 1,0 -7.6,0M313.4,238.5a3.8,3.8 0 1,0 7.6,0a3.8,3.8 0 1,0 -7.6,0M305.1,142.4a3.8,3.8 0 1,0 7.6,0a3.8,3.8 0 1,0 -7.6,0M301.6,227.1a3.8,3.8 0 1,0 7.6,0a3.8,3.8 0 1,0 -7.6,0M308.2,164.8a3.8,3.8 0 1,0 7.6,0a3.8,3.8 0 1,0 -7.6,0M305.2,191.0a3.8,3.8 0 1,0 7.6,0a3.8,3.8 0 1,0 -7.6,0M304.4,146.9a3.8,3.8 0 1,0 7.6,0a3.8,3.8 0 1,0 -7.6,0M308.2,131.6a3.8,3.8 0 1,0 7.6,0a3.8,3.8 0 1,0 -7.6,0M295.4,192.8a3.8,3.8 0 1,0 7.6,0a3.8,3.8 0 1,0 -7.6,0M304.6,109.7a3.8,3.8 0 1,0 7.6,0a3.8,3.8 0 1,0 -7.6,0M287.5,245.7a3.8,3.8 0 1,0 7.6,0a3.8,3.8 0 1,0 -7.6,0M307.8,194.3a3.8,3.8 0 1,0 7.6,0a3.8,3.8 0 1,0 -7.6,0M312.7,169.0a3.8,3.8 0 1,0 7.6,0a3.8,3.8 0 1,0 -7.6,0M291.3,193.5a3.8,3.8 0 1,0 7.6,0a3.8,3.8 0 1,0 -7.6,0M310.9,204.9a3.8,3.8 0 1,0 7.6,0a3.8,3.8 0 1,0 -7.6,0M305.2,230.5a3.8,3.8 0 1,0 7.6,0a3.8,3.8 0 1,0 -7.6,0M290.0,168.2a3.8,3.8 0 1,0 7.6,0a3.8,3.8 0 1,0 -7.6,0M309.2,231.7a3.8,3.8 0 1,0 7.6,0a3.8,3.8 0 1,0 -7.6,0M309.7,190.6a3.8,3.8 0 1,0 7.6,0a3.8,3.8 0 1,0 -7.6,0M297.0,119.1a3.8,3.8 0 1,0 7.6,0a3.8,3.8 0 1,0 -7.6,0M294.8,188.7a3.8,3.8 0 1,0 7.6,0a3.8,3.8 0 1,0 -7.6,0M301.6,97.7a3.8,3.8 0 1,0 7.6,0a3.8,3.8 0 1,0 -7.6,0M293.6,228.2a3.8,3.8 0 1,0 7.6,0a3.8,3.8 0 1,0 -7.6,0M287.3,153.7a3.8,3.8 0 1,0 7.6,0a3.8,3.8 0 1,0 -7.6,0M288.9,207.5a3.8,3.8 0 1,0 7.6,0a3.8,3.8 0 1,0 -7.6,0M315.9,235.1a3.8,3.8 0 1,0 7.6,0a3.8,3.8 0 1,0 -7.6,0M286.5,237.9a3.8,3.8 0 1,0 7.6,0a3.8,3.8 0 1,0 -7.6,0M293.8,250.4a3.8,3.8 0 1,0 7.6,0a3.8,3.8 0 1,0 -7.6,0M314.0,217.1a3.8,3.8 0 1,0 7.6,0a3.8,3.8 0 1,0 -7.6,0M305.8,122.3a3.8,3.8 0 1,0 7.6,0a3.8,3.8 0 1,0 -7.6,0M307.9,246.1a3.8,3.8 0 1,0 7.6,0a3.8,3.8 0 1,0 -7.6,0M285.9,167.2a3.8,3.8 0 1,0 7.6,0a3.8,3.8 0 1,0 -7.6,0M293.6,121.5a3.8,3.8 0 1,0 7.6,0a3.8,3.8 0 1,0 -7.6,0M314.2,222.1a3.8,3.8 0 1,0 7.6,0a3.8,3.8 0 1,0 -7.6,0M285.7,220.6a3.8,3.8 0 1,0 7.6,0a3.8,3.8 0 1,0 -7.6,0M317.9,218.4a3.8,3.8 0 1,0 7.6,0a3.8,3.8 0 1,0 -7.6,0M317.1,156.6a3.8,3.8 0 1,0 7.6,0a3.8,3.8 0 1,0 -7.6,0M293.8,141.9a3.8,3.8 0 1,0 7.6,0a3.8,3.8 0 1,0 -7.6,0M307.6,137.9a3.8,3.8 0 1,0 7.6,0a3.8,3.8 0 1,0 -7.6,0M291.2,186.5a3.8,3.8 0 1,0 7.6,0a3.8,3.8 0 1,0 -7.6,0M311.1,140.2a3.8,3.8 0 1,0 7.6,0a3.8,3.8 0 1,0 -7.6,0M290.1,163.3a3.8,3.8 0 1,0 7.6,0a3.8,3.8 0 1,0 -7.6,0M285.2,214.7a3.8,3.8 0 1,0 7.6,0a3.8,3.8 0 1,0 -7.6,0M289.8,225.8a3.8,3.8 0 1,0 7.6,0a3.8,3.8 0 1,0 -7.6,0M297.0,136.3a3.8,3.8 0 1,0 7.6,0a3.8,3.8 0 1,0 -7.6,0M313.7,189.2a3.8,3.8 0 1,0 7.6,0a3.8,3.8 0 1,0 -7.6,0M312.8,229.6a3.8,3.8 0 1,0 7.6,0a3.8,3.8 0 1,0 -7.6,0M288.5,232.5a3.8,3.8 0 1,0 7.6,0a3.8,3.8 0 1,0 -7.6,0M308.4,252.7a3.8,3.8 0 1,0 7.6,0a3.8,3.8 0 1,0 -7.6,0M316.3,227.3a3.8,3.8 0 1,0 7.6,0a3.8,3.8 0 1,0 -7.6,0M297.3,100.7a3.8,3.8 0 1,0 7.6,0a3.8,3.8 0 1,0 -7.6,0M318.2,152.6a3.8,3.8 0 1,0 7.6,0a3.8,3.8 0 1,0 -7.6,0M284.6,230.9a3.8,3.8 0 1,0 7.6,0a3.8,3.8 0 1,0 -7.6,0M313.5,212.9a3.8,3.8 0 1,0 7.6,0a3.8,3.8 0 1,0 -7.6,0M320.0,229.2a3.8,3.8 0 1,0 7.6,0a3.8,3.8 0 1,0 -7.6,0M287.1,185.5a3.8,3.8 0 1,0 7.6,0a3.8,3.8 0 1,0 -7.6,0M310.7,249.3a3.8,3.8 0 1,0 7.6,0a3.8,3.8 0 1,0 -7.6,0M318.4,223.6a3.8,3.8 0 1,0 7.6,0a3.8,3.8 0 1,0 -7.6,0M285.7,225.0a3.8,3.8 0 1,0 7.6,0a3.8,3.8 0 1,0 -7.6,0M293.1,146.2a3.8,3.8 0 1,0 7.6,0a3.8,3.8 0 1,0 -7.6,0M305.6,98.9a3.8,3.8 0 1,0 7.6,0a3.8,3.8 0 1,0 -7.6,0M281.2,215.8a3.8,3.8 0 1,0 7.6,0a3.8,3.8 0 1,0 -7.6,0M290.5,174.3a3.8,3.8 0 1,0 7.6,0a3.8,3.8 0 1,0 -7.6,0M314.9,206.3a3.8,3.8 0 1,0 7.6,0a3.8,3.8 0 1,0 -7.6,0M287.2,192.4a3.8,3.8 0 1,0 7.6,0a3.8,3.8 0 1,0 -7.6,0M289.8,251.4a3.8,3.8 0 1,0 7.6,0a3.8,3.8 0 1,0 -7.6,0M316.8,170.0a3.8,3.8 0 1,0 7.6,0a3.8,3.8 0 1,0 -7.6,0M293.1,199.6a3.8,3.8 0 1,0 7.6,0a3.8,3.8 0 1,0 -7.6,0M303.6,195.1a3.8,3.8 0 1,0 7.6,0a3.8,3.8 0 1,0 -7.6,0M312.3,147.4a3.8,3.8 0 1,0 7.6,0a3.8,3.8 0 1,0 -7.6,0M283.4,152.2a3.8,3.8 0 1,0 7.6,0a3.8,3.8 0 1,0 -7.6,0M317.7,188.2a3.8,3.8 0 1,0 7.6,0a3.8,3.8 0 1,0 -7.6,0M282.3,234.5a3.8,3.8 0 1,0 7.6,0a3.8,3.8 0 1,0 -7.6,0M287.1,202.2a3.8,3.8 0 1,0 7.6,0a3.8,3.8 0 1,0 -7.6,0M290.8,138.9a3.8,3.8 0 1,0 7.6,0a3.8,3.8 0 1,0 -7.6,0M311.8,175.8a3.8,3.8 0 1,0 7.6,0a3.8,3.8 0 1,0 -7.6,0M285.0,209.0a3.8,3.8 0 1,0 7.6,0a3.8,3.8 0 1,0 -7.6,0M308.8,144.4a3.8,3.8 0 1,0 7.6,0a3.8,3.8 0 1,0 -7.6,0M293.3,182.2a3.8,3.8 0 1,0 7.6,0a3.8,3.8 0 1,0 -7.6,0M304.8,104.4a3.8,3.8 0 1,0 7.6,0a3.8,3.8 0 1,0 -7.6,0M285.1,157.3a3.8,3.8 0 1,0 7.6,0a3.8,3.8 0 1,0 -7.6,0M312.9,201.0a3.8,3.8 0 1,0 7.6,0a3.8,3.8 0 1,0 -7.6,0M310.3,161.2a3.8,3.8 0 1,0 7.6,0a3.8,3.8 0 1,0 -7.6,0M289.2,198.1a3.8,3.8 0 1,0 7.6,0a3.8,3.8 0 1,0 -7.6,0M317.5,239.6a3.8,3.8 0 1,0 7.6,0a3.8,3.8 0 1,0 -7.6,0M313.0,164.4a3.8,3.8 0 1,0 7.6,0a3.8,3.8 0 1,0 -7.6,0M289.0,145.5a3.8,3.8 0 1,0 7.6,0a3.8,3.8 0 1,0 -7.6,0M290.7,178.9a3.8,3.8 0 1,0 7.6,0a3.8,3.8 0 1,0 -7.6,0M315.5,197.7a3.8,3.8 0 1,0 7.6,0a3.8,3.8 0 1,0 -7.6,0M283.2,186.9a3.8,3.8 0 1,0 7.6,0a3.8,3.8 0 1,0 -7.6,0M282.0,227.7a3.8,3.8 0 1,0 7.6,0a3.8,3.8 0 1,0 -7.6,0M311.1,196.8a3.8,3.8 0 1,0 7.6,0a3.8,3.8 0 1,0 -7.6,0M323.0,226.3a3.8,3.8 0 1,0 7.6,0a3.8,3.8 0 1,0 -7.6,0M322.1,232.8a3.8,3.8 0 1,0 7.6,0a3.8,3.8 0 1,0 -7.6,0M312.5,181.0a3.8,3.8 0 1,0 7.6,0a3.8,3.8 0 1,0 -7.6,0M314.2,137.4a3.8,3.8 0 1,0 7.6,0a3.8,3.8 0 1,0 -7.6,0M293.2,256.4a3.8,3.8 0 1,0 7.6,0a3.8,3.8 0 1,0 -7.6,0M290.4,150.7a3.8,3.8 0 1,0 7.6,0a3.8,3.8 0 1,0 -7.6,0M321.4,190.2a3.8,3.8 0 1,0 7.6,0a3.8,3.8 0 1,0 -7.6,0M317.3,244.0a3.8,3.8 0 1,0 7.6,0a3.8,3.8 0 1,0 -7.6,0M314.4,142.7a3.8,3.8 0 1,0 7.6,0a3.8,3.8 0 1,0 -7.6,0M315.8,174.5a3.8,3.8 0 1,0 7.6,0a3.8,3.8 0 1,0 -7.6,0M313.8,252.1a3.8,3.8 0 1,0 7.6,0a3.8,3.8 0 1,0 -7.6,0M285.4,196.1a3.8,3.8 0 1,0 7.6,0a3.8,3.8 0 1,0 -7.6,0M293.8,128.8a3.8,3.8 0 1,0 7.6,0a3.8,3.8 0 1,0 -7.6,0M309.4,124.5a3.8,3.8 0 1,0 7.6,0a3.8,3.8 0 1,0 -7.6,0M285.9,148.3a3.8,3.8 0 1,0 7.6,0a3.8,3.8 0 1,0 -7.6,0" fill="#f5167f"/>
<path d="M371.6,203.1a3.8,3.8 0 1,0 7.6,0a3.8,3.8 0 1,0 -7.6,0M371.6,181.4a3.8,3.8 0 1,0 7.6,0a3.8,3.8 0 1,0 -7.6,0M371.6,158.5a3.8,3.8 0 1,0 7.6,0a3.8,3.8 0 1,0 -7.6,0M371.6,195.7a3.8,3.8 0 1,0 7.6,0a3.8,3.8 0 1,0 -7.6,0M371.6,163.9a3.8,3.8 0 1,0 7.6,0a3.8,3.8 0 1,0 -7.6,0M371.6,152.2a3.8,3.8 0 1,0 7.6,0a3.8,3.8 0 1,0 -7.6,0M371.6,172.8a3.8,3.8 0 1,0 7.6,0a3.8,3.8 0 1,0 -7.6,0M371.6,130.8a3.8,3.8 0 1,0 7.6,0a3.8,3.8 0 1,0 -7.6,0M371.6,222.2a3.8,3.8 0 1,0 7.6,0a3.8,3.8 0 1,0 -7.6,0M368.9,201.6a3.8,3.8 0 1,0 7.6,0a3.8,3.8 0 1,0 -7.6,0M371.6,188.3a3.8,3.8 0 1,0 7.6,0a3.8,3.8 0 1,0 -7.6,0M371.6,218.3a3.8,3.8 0 1,0 7.6,0a3.8,3.8 0 1,0 -7.6,0M368.9,194.3a3.8,3.8 0 1,0 7.6,0a3.8,3.8 0 1,0 -7.6,0M369.0,129.2a3.8,3.8 0 1,0 7.6,0a3.8,3.8 0 1,0 -7.6,0M371.1,178.4a3.8,3.8 0 1,0 7.6,0a3.8,3.8 0 1,0 -7.6,0M369.3,132.7a3.8,3.8 0 1,0 7.6,0a3.8,3.8 0 1,0 -7.6,0M369.1,165.6a3.8,3.8 0 1,0 7.6,0a3.8,3.8 0 1,0 -7.6,0M368.6,158.8a3.8,3.8 0 1,0 7.6,0a3.8,3.8 0 1,0 -7.6,0M374.6,130.4a3.8,3.8 0 1,0 7.6,0a3.8,3.8 0 1,0 -7.6,0M373.1,161.2a3.8,3.8 0 1,0 7.6,0a3.8,3.8 0 1,0 -7.6,0M368.6,187.6a3.8,3.8 0 1,0 7.6,0a3.8,3.8 0 1,0 -7.6,0M371.6,135.7a3.8,3.8 0 1,0 7.6,0a3.8,3.8 0 1,0 -7.6,0M373.8,177.0a3.8,3.8 0 1,0 7.6,0a3.8,3.8 0 1,0 -7.6,0M371.6,140.0a3.8,3.8 0 1,0 7.6,0a3.8,3.8 0 1,0 -7.6,0M375.5,159.3a3.8,3.8 0 1,0 7.6,0a3.8,3.8 0 1,0 -7.6,0M369.6,150.0a3.8,3.8 0 1,0 7.6,0a3.8,3.8 0 1,0 -7.6,0M371.6,126.4a3.8,3.8 0 1,0 7.6,0a3.8,3.8 0 1,0 -7.6,0M371.6,213.9a3.8,3.8 0 1,0 7.6,0a3.8,3.8 0 1,0 -7.6,0M368.6,213.7a3.8,3.8 0 1,0 7.6,0a3.8,3.8 0 1,0 -7.6,0M373.5,193.3a3.8,3.8 0 1,0 7.6,0a3.8,3.8 0 1,0 -7.6,0M371.8,167.1a3.8,3.8 0 1,0 7.6,0a3.8,3.8 0 1,0 -7.6,0M371.1,191.4a3.8,3.8 0 1,0 7.6,0a3.8,3.8 0 1,0 -7.6,0M376.5,193.7a3.8,3.8 0 1,0 7.6,0a3.8,3.8 0 1,0 -7.6,0M368.2,179.3a3.8,3.8 0 1,0 7.6,0a3.8,3.8 0 1,0 -7.6,0M376.8,177.1a3.8,3.8 0 1,0 7.6,0a3.8,3.8 0 1,0 -7.6,0M371.6,198.9a3.8,3.8 0 1,0 7.6,0a3.8,3.8 0 1,0 -7.6,0M366.3,131.9a3.8,3.8 0 1,0 7.6,0a3.8,3.8 0 1,0 -7.6,0M374.6,151.7a3.8,3.8 0 1,0 7.6,0a3.8,3.8 0 1,0 -7.6,0M371.6,93.1a3.8,3.8 0 1,0 7.6,0a3.8,3.8 0 1,0 -7.6,0M369.0,162.3a3.8,3.8 0 1,0 7.6,0a3.8,3.8 0 1,0 -7.6,0M374.4,201.9a3.8,3.8 0 1,0 7.6,0a3.8,3.8 0 1,0 -7.6,0M371.6,110.0a3.8,3.8 0 1,0 7.6,0a3.8,3.8 0 1,0 -7.6,0M371.6,89.7a3.8,3.8 0 1,0 7.6,0a3.8,3.8 0 1,0 -7.6,0M366.1,202.7a3.8,3.8 0 1,0 7.6,0a3.8,3.8 0 1,0 -7.6,0M374.4,189.5a3.8,3.8 0 1,0 7.6,0a3.8,3.8 0 1,0 -7.6,0M375.8,204.6a3.8,3.8 0 1,0 7.6,0a3.8,3.8 0 1,0 -7.6,0M368.8,174.0a3.8,3.8 0 1,0 7.6,0a3.8,3.8 0 1,0 -7.6,0M371.6,117.2a3.8,3.8 0 1,0 7.6,0a3.8,3.8 0 1,0 -7.6,0M371.6,249.3a3.8,3.8 0 1,0 7.6,0a3.8,3.8 0 1,0 -7.6,0M370.1,205.7a3.8,3.8 0 1,0 7.6,0a3.8,3.8 0 1,0 -7.6,0M372.5,149.2a3.8,3.8 0 1,0 7.6,0a3.8,3.8 0 1,0 -7.6,0M370.7,211.0a3.8,3.8 0 1,0 7.6,0a3.8,3.8 0 1,0 -7.6,0M370.5,147.0a3.8,3.8 0 1,0 7.6,0a3.8,3.8 0 1,0 -7.6,0M370.1,184.0a3.8,3.8 0 1,0 7.6,0a3.8,3.8 0 1,0 -7.6,0M371.6,229.5a3.8,3.8 0 1,0 7.6,0a3.8,3.8 0 1,0 -7.6,0M368.6,230.1a3.8,3.8 0 1,0 7.6,0a3.8,3.8 0 1,0 -7.6,0M377.4,201.3a3.8,3.8 0 1,0 7.6,0a3.8,3.8 0 1,0 -7.6,0M371.6,121.7a3.8,3.8 0 1,0 7.6,0a3.8,3.8 0 1,0 -7.6,0M374.4,180.3a3.8,3.8 0 1,0 7.6,0a3.8,3.8 0 1,0 -7.6,0M366.1,161.5a3.8,3.8 0 1,0 7.6,0a3.8,3.8 0 1,0 -7.6,0M374.5,171.8a3.8,3.8 0 1,0 7.6,0a3.8,3.8 0 1,0 -7.6,0M371.6,104.3a3.8,3.8 0 1,0 7.6,0a3.8,3.8 0 1,0 -7.6,0M372.1,208.3a3.8,3.8 0 1,0 7.6,0a3.8,3.8 0 1,0 -7.6,0M375.8,162.7a3.8,3.8 0 1,0 7.6,0a3.8,3.8 0 1,0 -7.6,0M368.6,121.2a3.8,3.8 0 1,0 7.6,0a3.8,3.8 0 1,0 -7.6,0M366.1,157.1a3.8,3.8 0 1,0 7.6,0a3.8,3.8 0 1,0 -7.6,0M374.5,122.4a3.8,3.8 0 1,0 7.6,0a3.8,3.8 0 1,0 -7.6,0M371.6,114.0a3.8,3.8 0 1,0 7.6,0a3.8,3.8 0 1,0 -7.6,0M368.9,197.4a3.8,3.8 0 1,0 7.6,0a3.8,3.8 0 1,0 -7.6,0M377.1,120.8a3.8,3.8 0 1,0 7.6,0a3.8,3.8 0 1,0 -7.6,0M370.6,225.1a3.8,3.8 0 1,0 7.6,0a3.8,3.8 0 1,0 -7.6,0M369.0,102.7a3.8,3.8 0 1,0 7.6,0a3.8,3.8 0 1,0 -7.6,0M369.3,142.0a3.8,3.8 0 1,0 7.6,0a3.8,3.8 0 1,0 -7.6,0M368.6,218.7a3.8,3.8 0 1,0 7.6,0a3.8,3.8 0 1,0 -7.6,0M377.1,128.7a3.8,3.8 0 1,0 7.6,0a3.8,3.8 0 1,0 -7.6,0M365.7,120.4a3.8,3.8 0 1,0 7.6,0a3.8,3.8 0 1,0 -7.6,0M374.8,167.8a3.8,3.8 0 1,0 7.6,0a3.8,3.8 0 1,0 -7.6,0M371.6,236.3a3.8,3.8 0 1,0 7.6,0a3.8,3.8 0 1,0 -7.6,0M374.5,118.2a3.8,3.8 0 1,0 7.6,0a3.8,3.8 0 1,0 -7.6,0M374.3,220.7a3.8,3.8 0 1,0 7.6,0a3.8,3.8 0 1,0 -7.6,0M371.3,239.4a3.8,3.8 0 1,0 7.6,0a3.8,3.8 0 1,0 -7.6,0M368.7,109.2a3.8,3.8 0 1,0 7.6,0a3.8,3.8 0 1,0 -7.6,0M369.4,137.9a3.8,3.8 0 1,0 7.6,0a3.8,3.8 0 1,0 -7.6,0M377.3,188.7a3.8,3.8 0 1,0 7.6,0a3.8,3.8 0 1,0 -7.6,0M374.1,215.5a3.8,3.8 0 1,0 7.6,0a3.8,3.8 0 1,0 -7.6,0M374.4,228.2a3.8,3.8 0 1,0 7.6,0a3.8,3.8 0 1,0 -7.6,0M367.7,225.7a3.8,3.8 0 1,0 7.6,0a3.8,3.8 0 1,0 -7.6,0M376.1,230.7a3.8,3.8 0 1,0 7.6,0a3.8,3.8 0 1,0 -7.6,0M373.8,186.1a3.8,3.8 0 1,0 7.6,0a3.8,3.8 0 1,0 -7.6,0M373.4,133.2a3.8,3.8 0 1,0 7.6,0a3.8,3.8 0 1,0 -7.6,0M376.5,217.5a3.8,3.8 0 1,0 7.6,0a3.8,3.8 0 1,0 -7.6,0M366.2,192.8a3.8,3.8 0 1,0 7.6,0a3.8,3.8 0 1,0 -7.6,0M379.1,191.1a3.8,3.8 0 1,0 7.6,0a3.8,3.8 0 1,0 -7.6,0M363.1,202.2a3.8,3.8 0 1,0 7.6,0a3.8,3.8 0 1,0 -7.6,0M378.7,131.3a3.8,3.8 0 1,0 7.6,0a3.8,3.8 0 1,0 -7.6,0M369.5,169.1a3.8,3.8 0 1,0 7.6,0a3.8,3.8 0 1,0 -7.6,0M369.7,154.6a3.8,3.8 0 1,0 7.6,0a3.8,3.8 0 1,0 -7.6,0M371.6,97.7a3.8,3.8 0 1,0 7.6,0a3.8,3.8 0 1,0 -7.6,0M366.3,166.6a3.8,3.8 0 1,0 7.6,0a3.8,3.8 0 1,0 -7.6,0M373.8,156.4a3.8,3.8 0 1,0 7.6,0a3.8,3.8 0 1,0 -7.6,0M377.2,173.2a3.8,3.8 0 1,0 7.6,0a3.8,3.8 0 1,0 -7.6,0M368.1,208.0a3.8,3.8 0 1,0 7.6,0a3.8,3.8 0 1,0 -7.6,0M373.7,211.4a3.8,3.8 0 1,0 7.6,0a3.8,3.8 0 1,0 -7.6,0M371.6,233.1a3.8,3.8 0 1,0 7.6,0a3.8,3.8 0 1,0 -7.6,0M365.5,177.8a3.8,3.8 0 1,0 7.6,0a3.8,3.8 0 1,0 -7.6,0M364.4,129.6a3.8,3.8 0 1,0 7.6,0a3.8,3.8 0 1,0 -7.6,0M363.2,193.2a3.8,3.8 0 1,0 7.6,0a3.8,3.8 0 1,0 -7.6,0M365.9,215.3a3.8,3.8 0 1,0 7.6,0a3.8,3.8 0 1,0 -7.6,0M378.9,203.9a3.8,3.8 0 1,0 7.6,0a3.8,3.8 0 1,0 -7.6,0M376.5,210.3a3.8,3.8 0 1,0 7.6,0a3.8,3.8 0 1,0 -7.6,0M368.8,248.2a3.8,3.8 0 1,0 7.6,0a3.8,3.8 0 1,0 -7.6,0M379.3,194.8a3.8,3.8 0 1,0 7.6,0a3.8,3.8 0 1,0 -7.6,0M366.7,199.6a3.8,3.8 0 1,0 7.6,0a3.8,3.8 0 1,0 -7.6,0M366.7,221.2a3.8,3.8 0 1,0 7.6,0a3.8,3.8 0 1,0 -7.6,0M371.6,244.1a3.8,3.8 0 1,0 7.6,0a3.8,3.8 0 1,0 -7.6,0M374.6,196.2a3.8,3.8 0 1,0 7.6,0a3.8,3.8 0 1,0 -7.6,0M374.3,146.8a3.8,3.8 0 1,0 7.6,0a3.8,3.8 0 1,0 -7.6,0M366.6,172.0a3.8,3.8 0 1,0 7.6,0a3.8,3.8 0 1,0 -7.6,0M377.4,166.2a3.8,3.8 0 1,0 7.6,0a3.8,3.8 0 1,0 -7.6,0M365.6,188.1a3.8,3.8 0 1,0 7.6,0a3.8,3.8 0 1,0 -7.6,0M374.4,105.5a3.8,3.8 0 1,0 7.6,0a3.8,3.8 0 1,0 -7.6,0M368.9,99.1a3.8,3.8 0 1,0 7.6,0a3.8,3.8 0 1,0 -7.6,0M366.2,232.0a3.8,3.8 0 1,0 7.6,0a3.8,3.8 0 1,0 -7.6,0M368.7,113.2a3.8,3.8 0 1,0 7.6,0a3.8,3.8 0 1,0 -7.6,0M377.3,169.4a3.8,3.8 0 1,0 7.6,0a3.8,3.8 0 1,0 -7.6,0M376.8,156.0a3.8,3.8 0 1,0 7.6,0a3.8,3.8 0 1,0 -7.6,0M368.7,243.2a3.8,3.8 0 1,0 7.6,0a3.8,3.8 0 1,0 -7.6,0M363.6,172.5a3.8,3.8 0 1,0 7.6,0a3.8,3.8 0 1,0 -7.6,0M364.5,219.1a3.8,3.8 0 1,0 7.6,0a3.8,3.8 0 1,0 -7.6,0M379.3,216.3a3.8,3.8 0 1,0 7.6,0a3.8,3.8 0 1,0 -7.6,0M362.7,188.9a3.8,3.8 0 1,0 7.6,0a3.8,3.8 0 1,0 -7.6,0M374.1,238.0a3.8,3.8 0 1,0 7.6,0a3.8,3.8 0 1,0 -7.6,0M374.5,136.5a3.8,3.8 0 1,0 7.6,0a3.8,3.8 0 1,0 -7.6,0M366.8,148.7a3.8,3.8 0 1,0 7.6,0a3.8,3.8 0 1,0 -7.6,0M377.5,180.5a3.8,3.8 0 1,0 7.6,0a3.8,3.8 0 1,0 -7.6,0M368.2,145.0a3.8,3.8 0 1,0 7.6,0a3.8,3.8 0 1,0 -7.6,0M377.8,206.9a3.8,3.8 0 1,0 7.6,0a3.8,3.8 0 1,0 -7.6,0M382.0,190.4a3.8,3.8 0 1,0 7.6,0a3.8,3.8 0 1,0 -7.6,0M374.6,114.7a3.8,3.8 0 1,0 7.6,0a3.8,3.8 0 1,0 -7.6,0M376.4,133.7a3.8,3.8 0 1,0 7.6,0a3.8,3.8 0 1,0 -7.6,0M364.4,164.0a3.8,3.8 0 1,0 7.6,0a3.8,3.8 0 1,0 -7.6,0M378.8,163.2a3.8,3.8 0 1,0 7.6,0a3.8,3.8 0 1,0 -7.6,0M377.6,151.3a3.8,3.8 0 1,0 7.6,0a3.8,3.8 0 1,0 -7.6,0M377.3,227.6a3.8,3.8 0 1,0 7.6,0a3.8,3.8 0 1,0 -7.6,0M379.9,171.0a3.8,3.8 0 1,0 7.6,0a3.8,3.8 0 1,0 -7.6,0M373.9,224.1a3.8,3.8 0 1,0 7.6,0a3.8,3.8 0 1,0 -7.6,0M379.8,176.6a3.8,3.8 0 1,0 7.6,0a3.8,3.8 0 1,0 -7.6,0M361.6,174.7a3.8,3.8 0 1,0 7.6,0a3.8,3.8 0 1,0 -7.6,0M363.2,179.7a3.8,3.8 0 1,0 7.6,0a3.8,3.8 0 1,0 -7.6,0M369.4,124.2a3.8,3.8 0 1,0 7.6,0a3.8,3.8 0 1,0 -7.6,0M382.3,174.8a3.8,3.8 0 1,0 7.6,0a3.8,3.8 0 1,0 -7.6,0M365.2,209.0a3.8,3.8 0 1,0 7.6,0a3.8,3.8 0 1,0 -7.6,0M364.6,205.3a3.8,3.8 0 1,0 7.6,0a3.8,3.8 0 1,0 -7.6,0M374.6,233.8a3.8,3.8 0 1,0 7.6,0a3.8,3.8 0 1,0 -7.6,0M362.6,216.7a3.8,3.8 0 1,0 7.6,0a3.8,3.8 0 1,0 -7.6,0M376.7,185.4a3.8,3.8 0 1,0 7.6,0a3.8,3.8 0 1,0 -7.6,0M380.4,179.8a3.8,3.8 0 1,0 7.6,0a3.8,3.8 0 1,0 -7.6,0M380.3,200.3a3.8,3.8 0 1,0 7.6,0a3.8,3.8 0 1,0 -7.6,0M382.0,203.6a3.8,3.8 0 1,0 7.6,0a3.8,3.8 0 1,0 -7.6,0M363.1,160.7a3.8,3.8 0 1,0 7.6,0a3.8,3.8 0 1,0 -7.6,0M381.8,162.9a3.8,3.8 0 1,0 7.6,0a3.8,3.8 0 1,0 -7.6,0M367.3,182.9a3.8,3.8 0 1,0 7.6,0a3.8,3.8 0 1,0 -7.6,0M371.8,143.8a3.8,3.8 0 1,0 7.6,0a3.8,3.8 0 1,0 -7.6,0M373.4,246.8a3.8,3.8 0 1,0 7.6,0a3.8,3.8 0 1,0 -7.6,0M380.0,127.8a3.8,3.8 0 1,0 7.6,0a3.8,3.8 0 1,0 -7.6,0M382.2,217.2a3.8,3.8 0 1,0 7.6,0a3.8,3.8 0 1,0 -7.6,0M365.9,228.8a3.8,3.8 0 1,0 7.6,0a3.8,3.8 0 1,0 -7.6,0M367.6,135.5a3.8,3.8 0 1,0 7.6,0a3.8,3.8 0 1,0 -7.6,0M360.8,204.2a3.8,3.8 0 1,0 7.6,0a3.8,3.8 0 1,0 -7.6,0M368.8,90.8a3.8,3.8 0 1,0 7.6,0a3.8,3.8 0 1,0 -7.6,0M374.5,140.9a3.8,3.8 0 1,0 7.6,0a3.8,3.8 0 1,0 -7.6,0M369.5,87.5a3.8,3.8 0 1,0 7.6,0a3.8,3.8 0 1,0 -7.6,0M360.3,161.8a3.8,3.8 0 1,0 7.6,0a3.8,3.8 0 1,0 -7.6,0M378.9,183.3a3.8,3.8 0 1,0 7.6,0a3.8,3.8 0 1,0 -7.6,0M360.3,192.5a3.8,3.8 0 1,0 7.6,0a3.8,3.8 0 1,0 -7.6,0M366.5,123.5a3.8,3.8 0 1,0 7.6,0a3.8,3.8 0 1,0 -7.6,0M367.9,106.3a3.8,3.8 0 1,0 7.6,0a3.8,3.8 0 1,0 -7.6,0M378.5,148.4a3.8,3.8 0 1,0 7.6,0a3.8,3.8 0 1,0 -7.6,0M366.9,153.5a3.8,3.8 0 1,0 7.6,0a3.8,3.8 0 1,0 -7.6,0M366.3,142.3a3.8,3.8 0 1,0 7.6,0a3.8,3.8 0 1,0 -7.6,0M382.2,194.0a3.8,3.8 0 1,0 7.6,0a3.8,3.8 0 1,0 -7.6,0M358.7,175.7a3.8,3.8 0 1,0 7.6,0a3.8,3.8 0 1,0 -7.6,0M369.8,251.8a3.8,3.8 0 1,0 7.6,0a3.8,3.8 0 1,0 -7.6,0M361.5,165.0a3.8,3.8 0 1,0 7.6,0a3.8,3.8 0 1,0 -7.6,0M363.8,198.7a3.8,3.8 0 1,0 7.6,0a3.8,3.8 0 1,0 -7.6,0M374.2,111.6a3.8,3.8 0 1,0 7.6,0a3.8,3.8 0 1,0 -7.6,0M378.9,231.8a3.8,3.8 0 1,0 7.6,0a3.8,3.8 0 1,0 -7.6,0M361.0,199.9a3.8,3.8 0 1,0 7.6,0a3.8,3.8 0 1,0 -7.6,0M384.7,192.2a3.8,3.8 0 1,0 7.6,0a3.8,3.8 0 1,0 -7.6,0M376.6,138.7a3.8,3.8 0 1,0 7.6,0a3.8,3.8 0 1,0 -7.6,0M376.7,103.6a3.8,3.8 0 1,0 7.6,0a3.8,3.8 0 1,0 -7.6,0M364.4,150.4a3.8,3.8 0 1,0 7.6,0a3.8,3.8 0 1,0 -7.6,0M368.9,234.5a3.8,3.8 0 1,0 7.6,0a3.8,3.8 0 1,0 -7.6,0M357.9,194.5a3.8,3.8 0 1,0 7.6,0a3.8,3.8 0 1,0 -7.6,0M377.2,112.1a3.8,3.8 0 1,0 7.6,0a3.8,3.8 0 1,0 -7.6,0M360.7,214.4a3.8,3.8 0 1,0 7.6,0a3.8,3.8 0 1,0 -7.6,0M365.8,114.4a3.8,3.8 0 1,0 7.6,0a3.8,3.8 0 1,0 -7.6,0M365.3,145.7a3.8,3.8 0 1,0 7.6,0a3.8,3.8 0 1,0 -7.6,0M380.6,146.3a3.8,3.8 0 1,0 7.6,0a3.8,3.8 0 1,0 -7.6,0M357.6,191.0a3.8,3.8 0 1,0 7.6,0a3.8,3.8 0 1,0 -7.6,0M363.9,155.0a3.8,3.8 0 1,0 7.6,0a3.8,3.8 0 1,0 -7.6,0M379.7,156.8a3.8,3.8 0 1,0 7.6,0a3.8,3.8 0 1,0 -7.6,0M366.2,111.0a3.8,3.8 0 1,0 7.6,0a3.8,3.8 0 1,0 -7.6,0M366.6,127.3a3.8,3.8 0 1,0 7.6,0a3.8,3.8 0 1,0 -7.6,0M363.6,226.7a3.8,3.8 0 1,0 7.6,0a3.8,3.8 0 1,0 -7.6,0M366.0,196.6a3.8,3.8 0 1,0 7.6,0a3.8,3.8 0 1,0 -7.6,0M385.0,195.2a3.8,3.8 0 1,0 7.6,0a3.8,3.8 0 1,0 -7.6,0M385.0,176.2a3.8,3.8 0 1,0 7.6,0a3.8,3.8 0 1,0 -7.6,0M366.0,212.2a3.8,3.8 0 1,0 7.6,0a3.8,3.8 0 1,0 -7.6,0M379.7,160.3a3.8,3.8 0 1,0 7.6,0a3.8,3.8 0 1,0 -7.6,0M363.5,185.9a3.8,3.8 0 1,0 7.6,0a3.8,3.8 0 1,0 -7.6,0M387.7,191.8a3.8,3.8 0 1,0 7.6,0a3.8,3.8 0 1,0 -7.6,0M362.0,182.6a3.8,3.8 0 1,0 7.6,0a3.8,3.8 0 1,0 -7.6,0M361.7,195.8a3.8,3.8 0 1,0 7.6,0a3.8,3.8 0 1,0 -7.6,0M382.5,182.1a3.8,3.8 0 1,0 7.6,0a3.8,3.8 0 1,0 -7.6,0M380.3,227.2a3.8,3.8 0 1,0 7.6,0a3.8,3.8 0 1,0 -7.6,0M377.0,224.3a3.8,3.8 0 1,0 7.6,0a3.8,3.8 0 1,0 -7.6,0M360.6,226.2a3.8,3.8 0 1,0 7.6,0a3.8,3.8 0 1,0 -7.6,0M380.8,206.6a3.8,3.8 0 1,0 7.6,0a3.8,3.8 0 1,0 -7.6,0M376.7,143.0a3.8,3.8 0 1,0 7.6,0a3.8,3.8 0 1,0 -7.6,0M372.8,101.5a3.8,3.8 0 1,0 7.6,0a3.8,3.8 0 1,0 -7.6,0M360.7,171.5a3.8,3.8 0 1,0 7.6,0a3.8,3.8 0 1,0 -7.6,0M385.0,203.4a3.8,3.8 0 1,0 7.6,0a3.8,3.8 0 1,0 -7.6,0M379.4,141.6a3.8,3.8 0 1,0 7.6,0a3.8,3.8 0 1,0 -7.6,0M361.9,158.0a3.8,3.8 0 1,0 7.6,0a3.8,3.8 0 1,0 -7.6,0M377.7,220.3a3.8,3.8 0 1,0 7.6,0a3.8,3.8 0 1,0 -7.6,0M362.6,144.3a3.8,3.8 0 1,0 7.6,0a3.8,3.8 0 1,0 -7.6,0M358.1,201.0a3.8,3.8 0 1,0 7.6,0a3.8,3.8 0 1,0 -7.6,0M381.3,149.6a3.8,3.8 0 1,0 7.6,0a3.8,3.8 0 1,0 -7.6,0M364.4,134.2a3.8,3.8 0 1,0 7.6,0a3.8,3.8 0 1,0 -7.6,0M378.2,123.6a3.8,3.8 0 1,0 7.6,0a3.8,3.8 0 1,0 -7.6,0M363.7,124.8a3.8,3.8 0 1,0 7.6,0a3.8,3.8 0 1,0 -7.6,0M362.6,207.6a3.8,3.8 0 1,0 7.6,0a3.8,3.8 0 1,0 -7.6,0M354.8,192.1a3.8,3.8 0 1,0 7.6,0a3.8,3.8 0 1,0 -7.6,0M382.8,170.1a3.8,3.8 0 1,0 7.6,0a3.8,3.8 0 1,0 -7.6,0M380.4,221.6a3.8,3.8 0 1,0 7.6,0a3.8,3.8 0 1,0 -7.6,0M376.8,107.4a3.8,3.8 0 1,0 7.6,0a3.8,3.8 0 1,0 -7.6,0M383.3,200.0a3.8,3.8 0 1,0 7.6,0a3.8,3.8 0 1,0 -7.6,0M377.2,116.1a3.8,3.8 0 1,0 7.6,0a3.8,3.8 0 1,0 -7.6,0M363.6,168.2a3.8,3.8 0 1,0 7.6,0a3.8,3.8 0 1,0 -7.6,0M363.0,147.7a3.8,3.8 0 1,0 7.6,0a3.8,3.8 0 1,0 -7.6,0M377.6,213.1a3.8,3.8 0 1,0 7.6,0a3.8,3.8 0 1,0 -7.6,0M381.1,154.1a3.8,3.8 0 1,0 7.6,0a3.8,3.8 0 1,0 -7.6,0M382.2,142.8a3.8,3.8 0 1,0 7.6,0a3.8,3.8 0 1,0 -7.6,0M363.1,115.6a3.8,3.8 0 1,0 7.6,0a3.8,3.8 0 1,0 -7.6,0M390.6,190.7a3.8,3.8 0 1,0 7.6,0a3.8,3.8 0 1,0 -7.6,0M379.1,136.9a3.8,3.8 0 1,0 7.6,0a3.8,3.8 0 1,0 -7.6,0M369.5,95.5a3.8,3.8 0 1,0 7.6,0a3.8,3.8 0 1,0 -7.6,0M380.4,165.8a3.8,3.8 0 1,0 7.6,0a3.8,3.8 0 1,0 -7.6,0M359.5,144.6a3.8,3.8 0 1,0 7.6,0a3.8,3.8 0 1,0 -7.6,0M385.2,143.3a3.8,3.8 0 1,0 7.6,0a3.8,3.8 0 1,0 -7.6,0M386.4,200.7a3.8,3.8 0 1,0 7.6,0a3.8,3.8 0 1,0 -7.6,0M375.6,100.4a3.8,3.8 0 1,0 7.6,0a3.8,3.8 0 1,0 -7.6,0M377.2,197.7a3.8,3.8 0 1,0 7.6,0a3.8,3.8 0 1,0 -7.6,0M379.6,186.4a3.8,3.8 0 1,0 7.6,0a3.8,3.8 0 1,0 -7.6,0M359.3,183.9a3.8,3.8 0 1,0 7.6,0a3.8,3.8 0 1,0 -7.6,0M367.5,240.4a3.8,3.8 0 1,0 7.6,0a3.8,3.8 0 1,0 -7.6,0M379.2,118.6a3.8,3.8 0 1,0 7.6,0a3.8,3.8 0 1,0 -7.6,0M385.3,189.2a3.8,3.8 0 1,0 7.6,0a3.8,3.8 0 1,0 -7.6,0M382.3,158.4a3.8,3.8 0 1,0 7.6,0a3.8,3.8 0 1,0 -7.6,0M356.7,198.3a3.8,3.8 0 1,0 7.6,0a3.8,3.8 0 1,0 -7.6,0M360.2,155.4a3.8,3.8 0 1,0 7.6,0a3.8,3.8 0 1,0 -7.6,0M367.1,236.9a3.8,3.8 0 1,0 7.6,0a3.8,3.8 0 1,0 -7.6,0M384.5,184.4a3.8,3.8 0 1,0 7.6,0a3.8,3.8 0 1,0 -7.6,0M372.4,86.4a3.8,3.8 0 1,0 7.6,0a3.8,3.8 0 1,0 -7.6,0M384.0,153.2a3.8,3.8 0 1,0 7.6,0a3.8,3.8 0 1,0 -7.6,0M385.9,181.7a3.8,3.8 0 1,0 7.6,0a3.8,3.8 0 1,0 -7.6,0M385.2,157.4a3.8,3.8 0 1,0 7.6,0a3.8,3.8 0 1,0 -7.6,0M356.8,185.6a3.8,3.8 0 1,0 7.6,0a3.8,3.8 0 1,0 -7.6,0M362.8,119.3a3.8,3.8 0 1,0 7.6,0a3.8,3.8 0 1,0 -7.6,0M371.6,255.4a3.8,3.8 0 1,0 7.6,0a3.8,3.8 0 1,0 -7.6,0M381.1,122.8a3.8,3.8 0 1,0 7.6,0a3.8,3.8 0 1,0 -7.6,0M360.2,179.2a3.8,3.8 0 1,0 7.6,0a3.8,3.8 0 1,0 -7.6,0M374.3,94.5a3.8,3.8 0 1,0 7.6,0a3.8,3.8 0 1,0 -7.6,0M375.6,125.3a3.8,3.8 0 1,0 7.6,0a3.8,3.8 0 1,0 -7.6,0M364.7,108.4a3.8,3.8 0 1,0 7.6,0a3.8,3.8 0 1,0 -7.6,0M381.3,197.1a3.8,3.8 0 1,0 7.6,0a3.8,3.8 0 1,0 -7.6,0M382.3,125.8a3.8,3.8 0 1,0 7.6,0a3.8,3.8 0 1,0 -7.6,0M377.2,238.3a3.8,3.8 0 1,0 7.6,0a3.8,3.8 0 1,0 -7.6,0M368.6,116.6a3.8,3.8 0 1,0 7.6,0a3.8,3.8 0 1,0 -7.6,0M379.5,108.7a3.8,3.8 0 1,0 7.6,0a3.8,3.8 0 1,0 -7.6,0M356.9,181.9a3.8,3.8 0 1,0 7.6,0a3.8,3.8 0 1,0 -7.6,0M387.5,185.0a3.8,3.8 0 1,0 7.6,0a3.8,3.8 0 1,0 -7.6,0M352.8,189.7a3.8,3.8 0 1,0 7.6,0a3.8,3.8 0 1,0 -7.6,0M356.6,145.3a3.8,3.8 0 1,0 7.6,0a3.8,3.8 0 1,0 -7.6,0M363.3,232.8a3.8,3.8 0 1,0 7.6,0a3.8,3.8 0 1,0 -7.6,0M387.9,198.1a3.8,3.8 0 1,0 7.6,0a3.8,3.8 0 1,0 -7.6,0M356.0,174.3a3.8,3.8 0 1,0 7.6,0a3.8,3.8 0 1,0 -7.6,0M383.9,206.3a3.8,3.8 0 1,0 7.6,0a3.8,3.8 0 1,0 -7.6,0M359.8,168.6a3.8,3.8 0 1,0 7.6,0a3.8,3.8 0 1,0 -7.6,0M356.9,178.2a3.8,3.8 0 1,0 7.6,0a3.8,3.8 0 1,0 -7.6,0M378.7,235.6a3.8,3.8 0 1,0 7.6,0a3.8,3.8 0 1,0 -7.6,0M349.8,190.1a3.8,3.8 0 1,0 7.6,0a3.8,3.8 0 1,0 -7.6,0M364.7,139.7a3.8,3.8 0 1,0 7.6,0a3.8,3.8 0 1,0 -7.6,0M353.9,184.6a3.8,3.8 0 1,0 7.6,0a3.8,3.8 0 1,0 -7.6,0M379.5,209.6a3.8,3.8 0 1,0 7.6,0a3.8,3.8 0 1,0 -7.6,0M380.6,212.6a3.8,3.8 0 1,0 7.6,0a3.8,3.8 0 1,0 -7.6,0M382.5,187.3a3.8,3.8 0 1,0 7.6,0a3.8,3.8 0 1,0 -7.6,0M361.8,140.4a3.8,3.8 0 1,0 7.6,0a3.8,3.8 0 1,0 -7.6,0M360.7,210.0a3.8,3.8 0 1,0 7.6,0a3.8,3.8 0 1,0 -7.6,0M360.6,186.7a3.8,3.8 0 1,0 7.6,0a3.8,3.8 0 1,0 -7.6,0M364.1,222.7a3.8,3.8 0 1,0 7.6,0a3.8,3.8 0 1,0 -7.6,0M374.4,250.4a3.8,3.8 0 1,0 7.6,0a3.8,3.8 0 1,0 -7.6,0M359.9,147.6a3.8,3.8 0 1,0 7.6,0a3.8,3.8 0 1,0 -7.6,0M383.3,178.8a3.8,3.8 0 1,0 7.6,0a3.8,3.8 0 1,0 -7.6,0M384.3,167.4a3.8,3.8 0 1,0 7.6,0a3.8,3.8 0 1,0 -7.6,0M361.9,152.7a3.8,3.8 0 1,0 7.6,0a3.8,3.8 0 1,0 -7.6,0M358.2,205.8a3.8,3.8 0 1,0 7.6,0a3.8,3.8 0 1,0 -7.6,0M354.0,196.9a3.8,3.8 0 1,0 7.6,0a3.8,3.8 0 1,0 -7.6,0M388.9,180.9a3.8,3.8 0 1,0 7.6,0a3.8,3.8 0 1,0 -7.6,0M361.2,219.5a3.8,3.8 0 1,0 7.6,0a3.8,3.8 0 1,0 -7.6,0M382.9,210.6a3.8,3.8 0 1,0 7.6,0a3.8,3.8 0 1,0 -7.6,0M358.3,211.9a3.8,3.8 0 1,0 7.6,0a3.8,3.8 0 1,0 -7.6,0M382.4,120.0a3.8,3.8 0 1,0 7.6,0a3.8,3.8 0 1,0 -7.6,0M388.6,195.1a3.8,3.8 0 1,0 7.6,0a3.8,3.8 0 1,0 -7.6,0M359.8,119.2a3.8,3.8 0 1,0 7.6,0a3.8,3.8 0 1,0 -7.6,0M361.5,122.1a3.8,3.8 0 1,0 7.6,0a3.8,3.8 0 1,0 -7.6,0M390.7,199.3a3.8,3.8 0 1,0 7.6,0a3.8,3.8 0 1,0 -7.6,0M381.6,139.4a3.8,3.8 0 1,0 7.6,0a3.8,3.8 0 1,0 -7.6,0M386.7,207.3a3.8,3.8 0 1,0 7.6,0a3.8,3.8 0 1,0 -7.6,0M361.8,230.2a3.8,3.8 0 1,0 7.6,0a3.8,3.8 0 1,0 -7.6,0M384.8,173.1a3.8,3.8 0 1,0 7.6,0a3.8,3.8 0 1,0 -7.6,0M358.8,152.5a3.8,3.8 0 1,0 7.6,0a3.8,3.8 0 1,0 -7.6,0M380.1,112.9a3.8,3.8 0 1,0 7.6,0a3.8,3.8 0 1,0 -7.6,0M358.5,165.3a3.8,3.8 0 1,0 7.6,0a3.8,3.8 0 1,0 -7.6,0M374.3,254.0a3.8,3.8 0 1,0 7.6,0a3.8,3.8 0 1,0 -7.6,0M358.2,159.7a3.8,3.8 0 1,0 7.6,0a3.8,3.8 0 1,0 -7.6,0M359.5,138.4a3.8,3.8 0 1,0 7.6,0a3.8,3.8 0 1,0 -7.6,0M389.7,187.1a3.8,3.8 0 1,0 7.6,0a3.8,3.8 0 1,0 -7.6,0M384.1,117.5a3.8,3.8 0 1,0 7.6,0a3.8,3.8 0 1,0 -7.6,0M381.3,134.9a3.8,3.8 0 1,0 7.6,0a3.8,3.8 0 1,0 -7.6,0M373.8,241.1a3.8,3.8 0 1,0 7.6,0a3.8,3.8 0 1,0 -7.6,0M391.1,183.0a3.8,3.8 0 1,0 7.6,0a3.8,3.8 0 1,0 -7.6,0M355.3,205.0a3.8,3.8 0 1,0 7.6,0a3.8,3.8 0 1,0 -7.6,0M387.8,173.6a3.8,3.8 0 1,0 7.6,0a3.8,3.8 0 1,0 -7.6,0M357.3,208.7a3.8,3.8 0 1,0 7.6,0a3.8,3.8 0 1,0 -7.6,0M356.9,169.6a3.8,3.8 0 1,0 7.6,0a3.8,3.8 0 1,0 -7.6,0M357.2,155.1a3.8,3.8 0 1,0 7.6,0a3.8,3.8 0 1,0 -7.6,0M386.4,160.2a3.8,3.8 0 1,0 7.6,0a3.8,3.8 0 1,0 -7.6,0M362.9,137.2a3.8,3.8 0 1,0 7.6,0a3.8,3.8 0 1,0 -7.6,0M385.4,164.6a3.8,3.8 0 1,0 7.6,0a3.8,3.8 0 1,0 -7.6,0M385.8,150.7a3.8,3.8 0 1,0 7.6,0a3.8,3.8 0 1,0 -7.6,0M376.0,245.3a3.8,3.8 0 1,0 7.6,0a3.8,3.8 0 1,0 -7.6,0M361.7,128.1a3.8,3.8 0 1,0 7.6,0a3.8,3.8 0 1,0 -7.6,0M387.7,177.5a3.8,3.8 0 1,0 7.6,0a3.8,3.8 0 1,0 -7.6,0M386.1,170.4a3.8,3.8 0 1,0 7.6,0a3.8,3.8 0 1,0 -7.6,0M354.0,170.7a3.8,3.8 0 1,0 7.6,0a3.8,3.8 0 1,0 -7.6,0M382.9,223.4a3.8,3.8 0 1,0 7.6,0a3.8,3.8 0 1,0 -7.6,0M353.2,175.3a3.8,3.8 0 1,0 7.6,0a3.8,3.8 0 1,0 -7.6,0M390.4,176.1a3.8,3.8 0 1,0 7.6,0a3.8,3.8 0 1,0 -7.6,0M359.0,126.8a3.8,3.8 0 1,0 7.6,0a3.8,3.8 0 1,0 -7.6,0M372.5,73.0a3.8,3.8 0 1,0 7.6,0a3.8,3.8 0 1,0 -7.6,0" fill="#760899"/>
<path d="M443.9,206.2a3.8,3.8 0 1,0 7.6,0a3.8,3.8 0 1,0 -7.6,0M443.9,155.3a3.8,3.8 0 1,0 7.6,0a3.8,3.8 0 1,0 -7.6,0M443.9,187.3a3.8,3.8 0 1,0 7.6,0a3.8,3.8 0 1,0 -7.6,0M443.9,183.7a3.8,3.8 0 1,0 7.6,0a3.8,3.8 0 1,0 -7.6,0M443.9,165.7a3.8,3.8 0 1,0 7.6,0a3.8,3.8 0 1,0 -7.6,0M443.9,152.0a3.8,3.8 0 1,0 7.6,0a3.8,3.8 0 1,0 -7.6,0M443.9,214.5a3.8,3.8 0 1,0 7.6,0a3.8,3.8 0 1,0 -7.6,0M441.2,185.1a3.8,3.8 0 1,0 7.6,0a3.8,3.8 0 1,0 -7.6,0M443.1,149.1a3.8,3.8 0 1,0 7.6,0a3.8,3.8 0 1,0 -7.6,0M443.9,235.4a3.8,3.8 0 1,0 7.6,0a3.8,3.8 0 1,0 -7.6,0M440.9,214.8a3.8,3.8 0 1,0 7.6,0a3.8,3.8 0 1,0 -7.6,0M443.9,219.3a3.8,3.8 0 1,0 7.6,0a3.8,3.8 0 1,0 -7.6,0M441.0,218.3a3.8,3.8 0 1,0 7.6,0a3.8,3.8 0 1,0 -7.6,0M446.9,219.1a3.8,3.8 0 1,0 7.6,0a3.8,3.8 0 1,0 -7.6,0M440.9,234.9a3.8,3.8 0 1,0 7.6,0a3.8,3.8 0 1,0 -7.6,0M441.0,154.5a3.8,3.8 0 1,0 7.6,0a3.8,3.8 0 1,0 -7.6,0M443.9,225.0a3.8,3.8 0 1,0 7.6,0a3.8,3.8 0 1,0 -7.6,0M446.4,237.1a3.8,3.8 0 1,0 7.6,0a3.8,3.8 0 1,0 -7.6,0M443.9,231.0a3.8,3.8 0 1,0 7.6,0a3.8,3.8 0 1,0 -7.6,0M443.9,209.7a3.8,3.8 0 1,0 7.6,0a3.8,3.8 0 1,0 -7.6,0M443.9,200.2a3.8,3.8 0 1,0 7.6,0a3.8,3.8 0 1,0 -7.6,0M443.9,175.8a3.8,3.8 0 1,0 7.6,0a3.8,3.8 0 1,0 -7.6,0M446.8,184.7a3.8,3.8 0 1,0 7.6,0a3.8,3.8 0 1,0 -7.6,0M443.9,144.5a3.8,3.8 0 1,0 7.6,0a3.8,3.8 0 1,0 -7.6,0M441.3,207.8a3.8,3.8 0 1,0 7.6,0a3.8,3.8 0 1,0 -7.6,0M441.2,177.1a3.8,3.8 0 1,0 7.6,0a3.8,3.8 0 1,0 -7.6,0M443.9,141.3a3.8,3.8 0 1,0 7.6,0a3.8,3.8 0 1,0 -7.6,0M441.4,139.5a3.8,3.8 0 1,0 7.6,0a3.8,3.8 0 1,0 -7.6,0M446.2,212.5a3.8,3.8 0 1,0 7.6,0a3.8,3.8 0 1,0 -7.6,0M446.6,215.8a3.8,3.8 0 1,0 7.6,0a3.8,3.8 0 1,0 -7.6,0M443.9,196.0a3.8,3.8 0 1,0 7.6,0a3.8,3.8 0 1,0 -7.6,0M443.9,158.8a3.8,3.8 0 1,0 7.6,0a3.8,3.8 0 1,0 -7.6,0M446.1,148.6a3.8,3.8 0 1,0 7.6,0a3.8,3.8 0 1,0 -7.6,0M441.1,210.9a3.8,3.8 0 1,0 7.6,0a3.8,3.8 0 1,0 -7.6,0M440.3,147.9a3.8,3.8 0 1,0 7.6,0a3.8,3.8 0 1,0 -7.6,0M443.9,248.1a3.8,3.8 0 1,0 7.6,0a3.8,3.8 0 1,0 -7.6,0M446.5,153.7a3.8,3.8 0 1,0 7.6,0a3.8,3.8 0 1,0 -7.6,0M439.1,220.6a3.8,3.8 0 1,0 7.6,0a3.8,3.8 0 1,0 -7.6,0M445.5,178.3a3.8,3.8 0 1,0 7.6,0a3.8,3.8 0 1,0 -7.6,0M448.4,150.5a3.8,3.8 0 1,0 7.6,0a3.8,3.8 0 1,0 -7.6,0M441.2,246.8a3.8,3.8 0 1,0 7.6,0a3.8,3.8 0 1,0 -7.6,0M446.8,208.8a3.8,3.8 0 1,0 7.6,0a3.8,3.8 0 1,0 -7.6,0M441.1,226.2a3.8,3.8 0 1,0 7.6,0a3.8,3.8 0 1,0 -7.6,0M442.8,251.0a3.8,3.8 0 1,0 7.6,0a3.8,3.8 0 1,0 -7.6,0M443.9,191.3a3.8,3.8 0 1,0 7.6,0a3.8,3.8 0 1,0 -7.6,0M449.2,186.5a3.8,3.8 0 1,0 7.6,0a3.8,3.8 0 1,0 -7.6,0M441.1,198.9a3.8,3.8 0 1,0 7.6,0a3.8,3.8 0 1,0 -7.6,0M441.2,167.1a3.8,3.8 0 1,0 7.6,0a3.8,3.8 0 1,0 -7.6,0M438.3,216.4a3.8,3.8 0 1,0 7.6,0a3.8,3.8 0 1,0 -7.6,0M449.7,220.5a3.8,3.8 0 1,0 7.6,0a3.8,3.8 0 1,0 -7.6,0M448.9,206.7a3.8,3.8 0 1,0 7.6,0a3.8,3.8 0 1,0 -7.6,0M446.9,199.8a3.8,3.8 0 1,0 7.6,0a3.8,3.8 0 1,0 -7.6,0M441.6,223.1a3.8,3.8 0 1,0 7.6,0a3.8,3.8 0 1,0 -7.6,0M445.3,222.3a3.8,3.8 0 1,0 7.6,0a3.8,3.8 0 1,0 -7.6,0M443.9,239.6a3.8,3.8 0 1,0 7.6,0a3.8,3.8 0 1,0 -7.6,0M446.5,232.6a3.8,3.8 0 1,0 7.6,0a3.8,3.8 0 1,0 -7.6,0M447.6,145.9a3.8,3.8 0 1,0 7.6,0a3.8,3.8 0 1,0 -7.6,0M438.4,208.7a3.8,3.8 0 1,0 7.6,0a3.8,3.8 0 1,0 -7.6,0M446.9,166.3a3.8,3.8 0 1,0 7.6,0a3.8,3.8 0 1,0 -7.6,0M443.9,169.1a3.8,3.8 0 1,0 7.6,0a3.8,3.8 0 1,0 -7.6,0M450.5,209.3a3.8,3.8 0 1,0 7.6,0a3.8,3.8 0 1,0 -7.6,0M443.9,136.7a3.8,3.8 0 1,0 7.6,0a3.8,3.8 0 1,0 -7.6,0M441.0,188.3a3.8,3.8 0 1,0 7.6,0a3.8,3.8 0 1,0 -7.6,0M442.0,203.8a3.8,3.8 0 1,0 7.6,0a3.8,3.8 0 1,0 -7.6,0M437.6,146.6a3.8,3.8 0 1,0 7.6,0a3.8,3.8 0 1,0 -7.6,0M443.9,172.3a3.8,3.8 0 1,0 7.6,0a3.8,3.8 0 1,0 -7.6,0M440.9,240.3a3.8,3.8 0 1,0 7.6,0a3.8,3.8 0 1,0 -7.6,0M446.9,191.1a3.8,3.8 0 1,0 7.6,0a3.8,3.8 0 1,0 -7.6,0M449.6,216.1a3.8,3.8 0 1,0 7.6,0a3.8,3.8 0 1,0 -7.6,0M439.1,204.8a3.8,3.8 0 1,0 7.6,0a3.8,3.8 0 1,0 -7.6,0M440.9,136.2a3.8,3.8 0 1,0 7.6,0a3.8,3.8 0 1,0 -7.6,0M435.3,217.2a3.8,3.8 0 1,0 7.6,0a3.8,3.8 0 1,0 -7.6,0M452.6,216.9a3.8,3.8 0 1,0 7.6,0a3.8,3.8 0 1,0 -7.6,0M441.4,182.0a3.8,3.8 0 1,0 7.6,0a3.8,3.8 0 1,0 -7.6,0M449.3,212.3a3.8,3.8 0 1,0 7.6,0a3.8,3.8 0 1,0 -7.6,0M439.5,151.8a3.8,3.8 0 1,0 7.6,0a3.8,3.8 0 1,0 -7.6,0M448.6,239.2a3.8,3.8 0 1,0 7.6,0a3.8,3.8 0 1,0 -7.6,0M435.6,207.5a3.8,3.8 0 1,0 7.6,0a3.8,3.8 0 1,0 -7.6,0M436.7,213.8a3.8,3.8 0 1,0 7.6,0a3.8,3.8 0 1,0 -7.6,0M445.0,203.1a3.8,3.8 0 1,0 7.6,0a3.8,3.8 0 1,0 -7.6,0M446.9,169.7a3.8,3.8 0 1,0 7.6,0a3.8,3.8 0 1,0 -7.6,0M438.3,233.3a3.8,3.8 0 1,0 7.6,0a3.8,3.8 0 1,0 -7.6,0M445.7,134.2a3.8,3.8 0 1,0 7.6,0a3.8,3.8 0 1,0 -7.6,0M453.3,219.9a3.8,3.8 0 1,0 7.6,0a3.8,3.8 0 1,0 -7.6,0M445.4,227.6a3.8,3.8 0 1,0 7.6,0a3.8,3.8 0 1,0 -7.6,0M447.3,180.8a3.8,3.8 0 1,0 7.6,0a3.8,3.8 0 1,0 -7.6,0M441.4,163.9a3.8,3.8 0 1,0 7.6,0a3.8,3.8 0 1,0 -7.6,0M432.4,218.0a3.8,3.8 0 1,0 7.6,0a3.8,3.8 0 1,0 -7.6,0M452.1,213.3a3.8,3.8 0 1,0 7.6,0a3.8,3.8 0 1,0 -7.6,0M446.3,241.4a3.8,3.8 0 1,0 7.6,0a3.8,3.8 0 1,0 -7.6,0M436.4,221.9a3.8,3.8 0 1,0 7.6,0a3.8,3.8 0 1,0 -7.6,0M441.0,194.9a3.8,3.8 0 1,0 7.6,0a3.8,3.8 0 1,0 -7.6,0M451.1,204.5a3.8,3.8 0 1,0 7.6,0a3.8,3.8 0 1,0 -7.6,0M449.2,235.8a3.8,3.8 0 1,0 7.6,0a3.8,3.8 0 1,0 -7.6,0M448.2,223.3a3.8,3.8 0 1,0 7.6,0a3.8,3.8 0 1,0 -7.6,0M448.8,202.2a3.8,3.8 0 1,0 7.6,0a3.8,3.8 0 1,0 -7.6,0M445.9,139.0a3.8,3.8 0 1,0 7.6,0a3.8,3.8 0 1,0 -7.6,0M452.8,207.3a3.8,3.8 0 1,0 7.6,0a3.8,3.8 0 1,0 -7.6,0M455.5,217.7a3.8,3.8 0 1,0 7.6,0a3.8,3.8 0 1,0 -7.6,0M430.9,215.4a3.8,3.8 0 1,0 7.6,0a3.8,3.8 0 1,0 -7.6,0M448.3,228.8a3.8,3.8 0 1,0 7.6,0a3.8,3.8 0 1,0 -7.6,0M448.6,135.0a3.8,3.8 0 1,0 7.6,0a3.8,3.8 0 1,0 -7.6,0M441.1,229.9a3.8,3.8 0 1,0 7.6,0a3.8,3.8 0 1,0 -7.6,0M434.6,210.3a3.8,3.8 0 1,0 7.6,0a3.8,3.8 0 1,0 -7.6,0M445.7,161.2a3.8,3.8 0 1,0 7.6,0a3.8,3.8 0 1,0 -7.6,0M438.0,188.8a3.8,3.8 0 1,0 7.6,0a3.8,3.8 0 1,0 -7.6,0M438.9,192.8a3.8,3.8 0 1,0 7.6,0a3.8,3.8 0 1,0 -7.6,0M448.8,140.0a3.8,3.8 0 1,0 7.6,0a3.8,3.8 0 1,0 -7.6,0M433.0,206.0a3.8,3.8 0 1,0 7.6,0a3.8,3.8 0 1,0 -7.6,0M438.6,200.7a3.8,3.8 0 1,0 7.6,0a3.8,3.8 0 1,0 -7.6,0M436.4,186.2a3.8,3.8 0 1,0 7.6,0a3.8,3.8 0 1,0 -7.6,0M438.3,227.2a3.8,3.8 0 1,0 7.6,0a3.8,3.8 0 1,0 -7.6,0M450.5,230.8a3.8,3.8 0 1,0 7.6,0a3.8,3.8 0 1,0 -7.6,0M450.2,152.9a3.8,3.8 0 1,0 7.6,0a3.8,3.8 0 1,0 -7.6,0M451.2,223.9a3.8,3.8 0 1,0 7.6,0a3.8,3.8 0 1,0 -7.6,0M454.4,209.9a3.8,3.8 0 1,0 7.6,0a3.8,3.8 0 1,0 -7.6,0M431.8,209.1a3.8,3.8 0 1,0 7.6,0a3.8,3.8 0 1,0 -7.6,0M435.3,226.6a3.8,3.8 0 1,0 7.6,0a3.8,3.8 0 1,0 -7.6,0M455.1,205.3a3.8,3.8 0 1,0 7.6,0a3.8,3.8 0 1,0 -7.6,0M447.0,156.7a3.8,3.8 0 1,0 7.6,0a3.8,3.8 0 1,0 -7.6,0M453.8,225.3a3.8,3.8 0 1,0 7.6,0a3.8,3.8 0 1,0 -7.6,0M430.0,205.6a3.8,3.8 0 1,0 7.6,0a3.8,3.8 0 1,0 -7.6,0M433.7,213.6a3.8,3.8 0 1,0 7.6,0a3.8,3.8 0 1,0 -7.6,0M446.9,196.3a3.8,3.8 0 1,0 7.6,0a3.8,3.8 0 1,0 -7.6,0M455.2,212.8a3.8,3.8 0 1,0 7.6,0a3.8,3.8 0 1,0 -7.6,0M449.5,167.9a3.8,3.8 0 1,0 7.6,0a3.8,3.8 0 1,0 -7.6,0M449.6,197.8a3.8,3.8 0 1,0 7.6,0a3.8,3.8 0 1,0 -7.6,0M444.7,253.4a3.8,3.8 0 1,0 7.6,0a3.8,3.8 0 1,0 -7.6,0M443.9,244.6a3.8,3.8 0 1,0 7.6,0a3.8,3.8 0 1,0 -7.6,0M458.1,205.1a3.8,3.8 0 1,0 7.6,0a3.8,3.8 0 1,0 -7.6,0M450.5,145.0a3.8,3.8 0 1,0 7.6,0a3.8,3.8 0 1,0 -7.6,0M451.9,228.1a3.8,3.8 0 1,0 7.6,0a3.8,3.8 0 1,0 -7.6,0M438.7,140.9a3.8,3.8 0 1,0 7.6,0a3.8,3.8 0 1,0 -7.6,0M433.1,224.5a3.8,3.8 0 1,0 7.6,0a3.8,3.8 0 1,0 -7.6,0M438.7,178.9a3.8,3.8 0 1,0 7.6,0a3.8,3.8 0 1,0 -7.6,0M436.2,204.1a3.8,3.8 0 1,0 7.6,0a3.8,3.8 0 1,0 -7.6,0M457.0,208.3a3.8,3.8 0 1,0 7.6,0a3.8,3.8 0 1,0 -7.6,0M448.1,163.1a3.8,3.8 0 1,0 7.6,0a3.8,3.8 0 1,0 -7.6,0M457.9,219.6a3.8,3.8 0 1,0 7.6,0a3.8,3.8 0 1,0 -7.6,0M441.0,171.5a3.8,3.8 0 1,0 7.6,0a3.8,3.8 0 1,0 -7.6,0M457.9,211.3a3.8,3.8 0 1,0 7.6,0a3.8,3.8 0 1,0 -7.6,0M433.4,221.2a3.8,3.8 0 1,0 7.6,0a3.8,3.8 0 1,0 -7.6,0M446.7,245.8a3.8,3.8 0 1,0 7.6,0a3.8,3.8 0 1,0 -7.6,0M437.9,135.6a3.8,3.8 0 1,0 7.6,0a3.8,3.8 0 1,0 -7.6,0M456.7,224.3a3.8,3.8 0 1,0 7.6,0a3.8,3.8 0 1,0 -7.6,0M450.4,189.3a3.8,3.8 0 1,0 7.6,0a3.8,3.8 0 1,0 -7.6,0M429.6,211.1a3.8,3.8 0 1,0 7.6,0a3.8,3.8 0 1,0 -7.6,0M460.9,211.6a3.8,3.8 0 1,0 7.6,0a3.8,3.8 0 1,0 -7.6,0M446.6,174.3a3.8,3.8 0 1,0 7.6,0a3.8,3.8 0 1,0 -7.6,0M438.6,165.2a3.8,3.8 0 1,0 7.6,0a3.8,3.8 0 1,0 -7.6,0M435.3,190.1a3.8,3.8 0 1,0 7.6,0a3.8,3.8 0 1,0 -7.6,0M426.6,210.6a3.8,3.8 0 1,0 7.6,0a3.8,3.8 0 1,0 -7.6,0M430.2,223.5a3.8,3.8 0 1,0 7.6,0a3.8,3.8 0 1,0 -7.6,0M433.4,202.9a3.8,3.8 0 1,0 7.6,0a3.8,3.8 0 1,0 -7.6,0M427.7,203.5a3.8,3.8 0 1,0 7.6,0a3.8,3.8 0 1,0 -7.6,0M459.0,216.7a3.8,3.8 0 1,0 7.6,0a3.8,3.8 0 1,0 -7.6,0M438.5,242.1a3.8,3.8 0 1,0 7.6,0a3.8,3.8 0 1,0 -7.6,0M438.0,230.3a3.8,3.8 0 1,0 7.6,0a3.8,3.8 0 1,0 -7.6,0M428.0,214.7a3.8,3.8 0 1,0 7.6,0a3.8,3.8 0 1,0 -7.6,0M438.1,155.5a3.8,3.8 0 1,0 7.6,0a3.8,3.8 0 1,0 -7.6,0M461.0,204.2a3.8,3.8 0 1,0 7.6,0a3.8,3.8 0 1,0 -7.6,0M428.4,221.1a3.8,3.8 0 1,0 7.6,0a3.8,3.8 0 1,0 -7.6,0M435.4,232.4a3.8,3.8 0 1,0 7.6,0a3.8,3.8 0 1,0 -7.6,0M441.0,143.6a3.8,3.8 0 1,0 7.6,0a3.8,3.8 0 1,0 -7.6,0M459.5,225.6a3.8,3.8 0 1,0 7.6,0a3.8,3.8 0 1,0 -7.6,0M453.4,202.5a3.8,3.8 0 1,0 7.6,0a3.8,3.8 0 1,0 -7.6,0M461.5,215.1a3.8,3.8 0 1,0 7.6,0a3.8,3.8 0 1,0 -7.6,0M438.8,196.9a3.8,3.8 0 1,0 7.6,0a3.8,3.8 0 1,0 -7.6,0M447.6,252.4a3.8,3.8 0 1,0 7.6,0a3.8,3.8 0 1,0 -7.6,0M428.3,225.8a3.8,3.8 0 1,0 7.6,0a3.8,3.8 0 1,0 -7.6,0M439.2,237.5a3.8,3.8 0 1,0 7.6,0a3.8,3.8 0 1,0 -7.6,0M453.5,231.6a3.8,3.8 0 1,0 7.6,0a3.8,3.8 0 1,0 -7.6,0M438.0,162.2a3.8,3.8 0 1,0 7.6,0a3.8,3.8 0 1,0 -7.6,0M425.0,214.1a3.8,3.8 0 1,0 7.6,0a3.8,3.8 0 1,0 -7.6,0M451.3,138.2a3.8,3.8 0 1,0 7.6,0a3.8,3.8 0 1,0 -7.6,0M435.4,137.3a3.8,3.8 0 1,0 7.6,0a3.8,3.8 0 1,0 -7.6,0M448.8,243.2a3.8,3.8 0 1,0 7.6,0a3.8,3.8 0 1,0 -7.6,0M456.1,201.2a3.8,3.8 0 1,0 7.6,0a3.8,3.8 0 1,0 -7.6,0M450.0,157.3a3.8,3.8 0 1,0 7.6,0a3.8,3.8 0 1,0 -7.6,0M438.5,173.3a3.8,3.8 0 1,0 7.6,0a3.8,3.8 0 1,0 -7.6,0M426.6,217.3a3.8,3.8 0 1,0 7.6,0a3.8,3.8 0 1,0 -7.6,0M426.7,206.4a3.8,3.8 0 1,0 7.6,0a3.8,3.8 0 1,0 -7.6,0M436.1,244.0a3.8,3.8 0 1,0 7.6,0a3.8,3.8 0 1,0 -7.6,0M460.9,220.2a3.8,3.8 0 1,0 7.6,0a3.8,3.8 0 1,0 -7.6,0M425.4,221.5a3.8,3.8 0 1,0 7.6,0a3.8,3.8 0 1,0 -7.6,0M436.2,198.5a3.8,3.8 0 1,0 7.6,0a3.8,3.8 0 1,0 -7.6,0M440.9,159.0a3.8,3.8 0 1,0 7.6,0a3.8,3.8 0 1,0 -7.6,0M460.0,208.1a3.8,3.8 0 1,0 7.6,0a3.8,3.8 0 1,0 -7.6,0M449.8,160.6a3.8,3.8 0 1,0 7.6,0a3.8,3.8 0 1,0 -7.6,0M449.5,175.0a3.8,3.8 0 1,0 7.6,0a3.8,3.8 0 1,0 -7.6,0M448.8,193.5a3.8,3.8 0 1,0 7.6,0a3.8,3.8 0 1,0 -7.6,0M434.3,229.5a3.8,3.8 0 1,0 7.6,0a3.8,3.8 0 1,0 -7.6,0M464.5,215.5a3.8,3.8 0 1,0 7.6,0a3.8,3.8 0 1,0 -7.6,0M446.7,142.4a3.8,3.8 0 1,0 7.6,0a3.8,3.8 0 1,0 -7.6,0M451.5,238.2a3.8,3.8 0 1,0 7.6,0a3.8,3.8 0 1,0 -7.6,0M436.6,150.8a3.8,3.8 0 1,0 7.6,0a3.8,3.8 0 1,0 -7.6,0M438.3,170.0a3.8,3.8 0 1,0 7.6,0a3.8,3.8 0 1,0 -7.6,0M452.2,173.6a3.8,3.8 0 1,0 7.6,0a3.8,3.8 0 1,0 -7.6,0M450.8,164.5a3.8,3.8 0 1,0 7.6,0a3.8,3.8 0 1,0 -7.6,0M450.2,179.8a3.8,3.8 0 1,0 7.6,0a3.8,3.8 0 1,0 -7.6,0M451.3,149.6a3.8,3.8 0 1,0 7.6,0a3.8,3.8 0 1,0 -7.6,0M451.5,192.3a3.8,3.8 0 1,0 7.6,0a3.8,3.8 0 1,0 -7.6,0M435.9,168.2a3.8,3.8 0 1,0 7.6,0a3.8,3.8 0 1,0 -7.6,0M452.2,199.3a3.8,3.8 0 1,0 7.6,0a3.8,3.8 0 1,0 -7.6,0M436.2,194.2a3.8,3.8 0 1,0 7.6,0a3.8,3.8 0 1,0 -7.6,0M430.7,201.5a3.8,3.8 0 1,0 7.6,0a3.8,3.8 0 1,0 -7.6,0M432.8,234.0a3.8,3.8 0 1,0 7.6,0a3.8,3.8 0 1,0 -7.6,0M454.9,228.2a3.8,3.8 0 1,0 7.6,0a3.8,3.8 0 1,0 -7.6,0M436.4,142.8a3.8,3.8 0 1,0 7.6,0a3.8,3.8 0 1,0 -7.6,0M463.3,218.4a3.8,3.8 0 1,0 7.6,0a3.8,3.8 0 1,0 -7.6,0M423.8,218.6a3.8,3.8 0 1,0 7.6,0a3.8,3.8 0 1,0 -7.6,0M462.9,207.1a3.8,3.8 0 1,0 7.6,0a3.8,3.8 0 1,0 -7.6,0M422.1,213.1a3.8,3.8 0 1,0 7.6,0a3.8,3.8 0 1,0 -7.6,0M453.2,147.2a3.8,3.8 0 1,0 7.6,0a3.8,3.8 0 1,0 -7.6,0M446.7,249.4a3.8,3.8 0 1,0 7.6,0a3.8,3.8 0 1,0 -7.6,0M438.4,182.3a3.8,3.8 0 1,0 7.6,0a3.8,3.8 0 1,0 -7.6,0M463.9,212.0a3.8,3.8 0 1,0 7.6,0a3.8,3.8 0 1,0 -7.6,0M449.4,183.2a3.8,3.8 0 1,0 7.6,0a3.8,3.8 0 1,0 -7.6,0M435.9,177.9a3.8,3.8 0 1,0 7.6,0a3.8,3.8 0 1,0 -7.6,0M462.7,222.6a3.8,3.8 0 1,0 7.6,0a3.8,3.8 0 1,0 -7.6,0M449.6,171.0a3.8,3.8 0 1,0 7.6,0a3.8,3.8 0 1,0 -7.6,0M443.9,63.8a3.8,3.8 0 1,0 7.6,0a3.8,3.8 0 1,0 -7.6,0M443.9,88.6a3.8,3.8 0 1,0 7.6,0a3.8,3.8 0 1,0 -7.6,0M443.9,95.0a3.8,3.8 0 1,0 7.6,0a3.8,3.8 0 1,0 -7.6,0M441.6,109.4a3.8,3.8 0 1,0 7.6,0a3.8,3.8 0 1,0 -7.6,0M447.2,108.5a3.8,3.8 0 1,0 7.6,0a3.8,3.8 0 1,0 -7.6,0M443.9,123.0a3.8,3.8 0 1,0 7.6,0a3.8,3.8 0 1,0 -7.6,0M443.9,269.5a3.8,3.8 0 1,0 7.6,0a3.8,3.8 0 1,0 -7.6,0" fill="#0000bf"/>
<path d="M515.5,114.5a3.8,3.8 0 1,0 7.6,0a3.8,3.8 0 1,0 -7.6,0M515.5,139.9a3.8,3.8 0 1,0 7.6,0a3.8,3.8 0 1,0 -7.6,0M515.5,147.0a3.8,3.8 0 1,0 7.6,0a3.8,3.8 0 1,0 -7.6,0M515.5,165.6a3.8,3.8 0 1,0 7.6,0a3.8,3.8 0 1,0 -7.6,0M515.5,202.6a3.8,3.8 0 1,0 7.6,0a3.8,3.8 0 1,0 -7.6,0M513.1,162.2a3.8,3.8 0 1,0 7.6,0a3.8,3.8 0 1,0 -7.6,0M515.5,238.4a3.8,3.8 0 1,0 7.6,0a3.8,3.8 0 1,0 -7.6,0M515.5,221.9a3.8,3.8 0 1,0 7.6,0a3.8,3.8 0 1,0 -7.6,0M515.5,193.3a3.8,3.8 0 1,0 7.6,0a3.8,3.8 0 1,0 -7.6,0M515.5,133.2a3.8,3.8 0 1,0 7.6,0a3.8,3.8 0 1,0 -7.6,0M515.5,211.2a3.8,3.8 0 1,0 7.6,0a3.8,3.8 0 1,0 -7.6,0M511.6,191.6a3.8,3.8 0 1,0 7.6,0a3.8,3.8 0 1,0 -7.6,0M511.4,210.3a3.8,3.8 0 1,0 7.6,0a3.8,3.8 0 1,0 -7.6,0M511.9,131.0a3.8,3.8 0 1,0 7.6,0a3.8,3.8 0 1,0 -7.6,0M511.3,202.1a3.8,3.8 0 1,0 7.6,0a3.8,3.8 0 1,0 -7.6,0M511.3,221.4a3.8,3.8 0 1,0 7.6,0a3.8,3.8 0 1,0 -7.6,0M515.5,230.4a3.8,3.8 0 1,0 7.6,0a3.8,3.8 0 1,0 -7.6,0M518.9,195.7a3.8,3.8 0 1,0 7.6,0a3.8,3.8 0 1,0 -7.6,0M515.5,173.7a3.8,3.8 0 1,0 7.6,0a3.8,3.8 0 1,0 -7.6,0M513.0,206.0a3.8,3.8 0 1,0 7.6,0a3.8,3.8 0 1,0 -7.6,0M515.5,158.6a3.8,3.8 0 1,0 7.6,0a3.8,3.8 0 1,0 -7.6,0M511.8,148.9a3.8,3.8 0 1,0 7.6,0a3.8,3.8 0 1,0 -7.6,0M515.5,123.6a3.8,3.8 0 1,0 7.6,0a3.8,3.8 0 1,0 -7.6,0M515.5,184.1a3.8,3.8 0 1,0 7.6,0a3.8,3.8 0 1,0 -7.6,0M512.2,142.5a3.8,3.8 0 1,0 7.6,0a3.8,3.8 0 1,0 -7.6,0M512.6,233.5a3.8,3.8 0 1,0 7.6,0a3.8,3.8 0 1,0 -7.6,0M515.5,94.3a3.8,3.8 0 1,0 7.6,0a3.8,3.8 0 1,0 -7.6,0M519.3,160.3a3.8,3.8 0 1,0 7.6,0a3.8,3.8 0 1,0 -7.6,0M520.2,199.7a3.8,3.8 0 1,0 7.6,0a3.8,3.8 0 1,0 -7.6,0M519.4,131.7a3.8,3.8 0 1,0 7.6,0a3.8,3.8 0 1,0 -7.6,0M515.5,154.4a3.8,3.8 0 1,0 7.6,0a3.8,3.8 0 1,0 -7.6,0M521.6,192.5a3.8,3.8 0 1,0 7.6,0a3.8,3.8 0 1,0 -7.6,0M512.0,96.6a3.8,3.8 0 1,0 7.6,0a3.8,3.8 0 1,0 -7.6,0M514.0,218.0a3.8,3.8 0 1,0 7.6,0a3.8,3.8 0 1,0 -7.6,0M511.7,156.2a3.8,3.8 0 1,0 7.6,0a3.8,3.8 0 1,0 -7.6,0M511.5,122.2a3.8,3.8 0 1,0 7.6,0a3.8,3.8 0 1,0 -7.6,0M512.8,170.4a3.8,3.8 0 1,0 7.6,0a3.8,3.8 0 1,0 -7.6,0M512.1,181.6a3.8,3.8 0 1,0 7.6,0a3.8,3.8 0 1,0 -7.6,0M515.5,178.2a3.8,3.8 0 1,0 7.6,0a3.8,3.8 0 1,0 -7.6,0M519.5,166.6a3.8,3.8 0 1,0 7.6,0a3.8,3.8 0 1,0 -7.6,0M507.4,200.6a3.8,3.8 0 1,0 7.6,0a3.8,3.8 0 1,0 -7.6,0M519.3,236.9a3.8,3.8 0 1,0 7.6,0a3.8,3.8 0 1,0 -7.6,0M508.9,168.9a3.8,3.8 0 1,0 7.6,0a3.8,3.8 0 1,0 -7.6,0M519.5,138.8a3.8,3.8 0 1,0 7.6,0a3.8,3.8 0 1,0 -7.6,0M524.3,198.8a3.8,3.8 0 1,0 7.6,0a3.8,3.8 0 1,0 -7.6,0M517.6,189.7a3.8,3.8 0 1,0 7.6,0a3.8,3.8 0 1,0 -7.6,0M511.6,185.8a3.8,3.8 0 1,0 7.6,0a3.8,3.8 0 1,0 -7.6,0M519.2,125.5a3.8,3.8 0 1,0 7.6,0a3.8,3.8 0 1,0 -7.6,0M518.7,213.8a3.8,3.8 0 1,0 7.6,0a3.8,3.8 0 1,0 -7.6,0M522.0,142.1a3.8,3.8 0 1,0 7.6,0a3.8,3.8 0 1,0 -7.6,0M519.6,177.7a3.8,3.8 0 1,0 7.6,0a3.8,3.8 0 1,0 -7.6,0M508.5,179.4a3.8,3.8 0 1,0 7.6,0a3.8,3.8 0 1,0 -7.6,0M509.6,195.3a3.8,3.8 0 1,0 7.6,0a3.8,3.8 0 1,0 -7.6,0M519.6,155.2a3.8,3.8 0 1,0 7.6,0a3.8,3.8 0 1,0 -7.6,0M503.3,201.3a3.8,3.8 0 1,0 7.6,0a3.8,3.8 0 1,0 -7.6,0M513.1,111.0a3.8,3.8 0 1,0 7.6,0a3.8,3.8 0 1,0 -7.6,0M521.5,188.3a3.8,3.8 0 1,0 7.6,0a3.8,3.8 0 1,0 -7.6,0M509.0,161.0a3.8,3.8 0 1,0 7.6,0a3.8,3.8 0 1,0 -7.6,0M511.4,174.8a3.8,3.8 0 1,0 7.6,0a3.8,3.8 0 1,0 -7.6,0M512.0,137.5a3.8,3.8 0 1,0 7.6,0a3.8,3.8 0 1,0 -7.6,0M519.6,231.1a3.8,3.8 0 1,0 7.6,0a3.8,3.8 0 1,0 -7.6,0M520.6,217.5a3.8,3.8 0 1,0 7.6,0a3.8,3.8 0 1,0 -7.6,0M507.8,132.0a3.8,3.8 0 1,0 7.6,0a3.8,3.8 0 1,0 -7.6,0M519.5,113.4a3.8,3.8 0 1,0 7.6,0a3.8,3.8 0 1,0 -7.6,0M519.5,147.9a3.8,3.8 0 1,0 7.6,0a3.8,3.8 0 1,0 -7.6,0M509.0,145.8a3.8,3.8 0 1,0 7.6,0a3.8,3.8 0 1,0 -7.6,0M523.2,164.6a3.8,3.8 0 1,0 7.6,0a3.8,3.8 0 1,0 -7.6,0M518.3,170.6a3.8,3.8 0 1,0 7.6,0a3.8,3.8 0 1,0 -7.6,0M523.2,130.0a3.8,3.8 0 1,0 7.6,0a3.8,3.8 0 1,0 -7.6,0M523.8,177.2a3.8,3.8 0 1,0 7.6,0a3.8,3.8 0 1,0 -7.6,0M504.5,129.4a3.8,3.8 0 1,0 7.6,0a3.8,3.8 0 1,0 -7.6,0M513.6,242.2a3.8,3.8 0 1,0 7.6,0a3.8,3.8 0 1,0 -7.6,0M504.4,179.6a3.8,3.8 0 1,0 7.6,0a3.8,3.8 0 1,0 -7.6,0M505.6,196.3a3.8,3.8 0 1,0 7.6,0a3.8,3.8 0 1,0 -7.6,0M508.3,153.7a3.8,3.8 0 1,0 7.6,0a3.8,3.8 0 1,0 -7.6,0M515.5,100.8a3.8,3.8 0 1,0 7.6,0a3.8,3.8 0 1,0 -7.6,0M507.9,136.9a3.8,3.8 0 1,0 7.6,0a3.8,3.8 0 1,0 -7.6,0M513.1,118.0a3.8,3.8 0 1,0 7.6,0a3.8,3.8 0 1,0 -7.6,0M519.1,224.0a3.8,3.8 0 1,0 7.6,0a3.8,3.8 0 1,0 -7.6,0M525.7,194.9a3.8,3.8 0 1,0 7.6,0a3.8,3.8 0 1,0 -7.6,0M510.8,215.4a3.8,3.8 0 1,0 7.6,0a3.8,3.8 0 1,0 -7.6,0M523.2,223.4a3.8,3.8 0 1,0 7.6,0a3.8,3.8 0 1,0 -7.6,0M501.4,196.3a3.8,3.8 0 1,0 7.6,0a3.8,3.8 0 1,0 -7.6,0M515.5,128.1a3.8,3.8 0 1,0 7.6,0a3.8,3.8 0 1,0 -7.6,0M523.5,146.5a3.8,3.8 0 1,0 7.6,0a3.8,3.8 0 1,0 -7.6,0M522.0,181.1a3.8,3.8 0 1,0 7.6,0a3.8,3.8 0 1,0 -7.6,0M518.7,208.6a3.8,3.8 0 1,0 7.6,0a3.8,3.8 0 1,0 -7.6,0M526.1,182.1a3.8,3.8 0 1,0 7.6,0a3.8,3.8 0 1,0 -7.6,0M522.9,158.2a3.8,3.8 0 1,0 7.6,0a3.8,3.8 0 1,0 -7.6,0M522.8,209.1a3.8,3.8 0 1,0 7.6,0a3.8,3.8 0 1,0 -7.6,0M521.9,135.0a3.8,3.8 0 1,0 7.6,0a3.8,3.8 0 1,0 -7.6,0M528.5,199.1a3.8,3.8 0 1,0 7.6,0a3.8,3.8 0 1,0 -7.6,0M518.7,241.1a3.8,3.8 0 1,0 7.6,0a3.8,3.8 0 1,0 -7.6,0M522.4,169.8a3.8,3.8 0 1,0 7.6,0a3.8,3.8 0 1,0 -7.6,0M505.0,159.9a3.8,3.8 0 1,0 7.6,0a3.8,3.8 0 1,0 -7.6,0M529.7,194.0a3.8,3.8 0 1,0 7.6,0a3.8,3.8 0 1,0 -7.6,0M522.8,152.6a3.8,3.8 0 1,0 7.6,0a3.8,3.8 0 1,0 -7.6,0M498.1,193.7a3.8,3.8 0 1,0 7.6,0a3.8,3.8 0 1,0 -7.6,0M507.6,173.3a3.8,3.8 0 1,0 7.6,0a3.8,3.8 0 1,0 -7.6,0M515.5,198.4a3.8,3.8 0 1,0 7.6,0a3.8,3.8 0 1,0 -7.6,0M510.2,239.8a3.8,3.8 0 1,0 7.6,0a3.8,3.8 0 1,0 -7.6,0M505.1,151.0a3.8,3.8 0 1,0 7.6,0a3.8,3.8 0 1,0 -7.6,0M528.3,178.6a3.8,3.8 0 1,0 7.6,0a3.8,3.8 0 1,0 -7.6,0M515.5,246.0a3.8,3.8 0 1,0 7.6,0a3.8,3.8 0 1,0 -7.6,0M509.3,225.1a3.8,3.8 0 1,0 7.6,0a3.8,3.8 0 1,0 -7.6,0M526.8,156.8a3.8,3.8 0 1,0 7.6,0a3.8,3.8 0 1,0 -7.6,0M526.1,171.7a3.8,3.8 0 1,0 7.6,0a3.8,3.8 0 1,0 -7.6,0M506.7,183.2a3.8,3.8 0 1,0 7.6,0a3.8,3.8 0 1,0 -7.6,0M507.2,209.9a3.8,3.8 0 1,0 7.6,0a3.8,3.8 0 1,0 -7.6,0M526.0,136.0a3.8,3.8 0 1,0 7.6,0a3.8,3.8 0 1,0 -7.6,0M508.6,232.2a3.8,3.8 0 1,0 7.6,0a3.8,3.8 0 1,0 -7.6,0M504.6,155.7a3.8,3.8 0 1,0 7.6,0a3.8,3.8 0 1,0 -7.6,0M504.7,139.5a3.8,3.8 0 1,0 7.6,0a3.8,3.8 0 1,0 -7.6,0M521.8,116.9a3.8,3.8 0 1,0 7.6,0a3.8,3.8 0 1,0 -7.6,0M525.9,211.9a3.8,3.8 0 1,0 7.6,0a3.8,3.8 0 1,0 -7.6,0M503.6,172.0a3.8,3.8 0 1,0 7.6,0a3.8,3.8 0 1,0 -7.6,0M507.5,190.7a3.8,3.8 0 1,0 7.6,0a3.8,3.8 0 1,0 -7.6,0M507.4,220.0a3.8,3.8 0 1,0 7.6,0a3.8,3.8 0 1,0 -7.6,0M526.5,149.5a3.8,3.8 0 1,0 7.6,0a3.8,3.8 0 1,0 -7.6,0M517.1,119.3a3.8,3.8 0 1,0 7.6,0a3.8,3.8 0 1,0 -7.6,0M532.6,197.0a3.8,3.8 0 1,0 7.6,0a3.8,3.8 0 1,0 -7.6,0M524.7,216.6a3.8,3.8 0 1,0 7.6,0a3.8,3.8 0 1,0 -7.6,0M505.7,166.2a3.8,3.8 0 1,0 7.6,0a3.8,3.8 0 1,0 -7.6,0M496.1,197.4a3.8,3.8 0 1,0 7.6,0a3.8,3.8 0 1,0 -7.6,0M503.4,218.9a3.8,3.8 0 1,0 7.6,0a3.8,3.8 0 1,0 -7.6,0M527.3,129.1a3.8,3.8 0 1,0 7.6,0a3.8,3.8 0 1,0 -7.6,0M504.5,213.2a3.8,3.8 0 1,0 7.6,0a3.8,3.8 0 1,0 -7.6,0M535.4,200.2a3.8,3.8 0 1,0 7.6,0a3.8,3.8 0 1,0 -7.6,0M502.9,184.8a3.8,3.8 0 1,0 7.6,0a3.8,3.8 0 1,0 -7.6,0M526.2,206.7a3.8,3.8 0 1,0 7.6,0a3.8,3.8 0 1,0 -7.6,0M530.0,213.0a3.8,3.8 0 1,0 7.6,0a3.8,3.8 0 1,0 -7.6,0M516.2,108.3a3.8,3.8 0 1,0 7.6,0a3.8,3.8 0 1,0 -7.6,0M517.9,143.6a3.8,3.8 0 1,0 7.6,0a3.8,3.8 0 1,0 -7.6,0M503.5,133.5a3.8,3.8 0 1,0 7.6,0a3.8,3.8 0 1,0 -7.6,0M511.5,126.8a3.8,3.8 0 1,0 7.6,0a3.8,3.8 0 1,0 -7.6,0M500.8,175.1a3.8,3.8 0 1,0 7.6,0a3.8,3.8 0 1,0 -7.6,0M519.9,245.1a3.8,3.8 0 1,0 7.6,0a3.8,3.8 0 1,0 -7.6,0M538.9,198.0a3.8,3.8 0 1,0 7.6,0a3.8,3.8 0 1,0 -7.6,0M500.6,214.7a3.8,3.8 0 1,0 7.6,0a3.8,3.8 0 1,0 -7.6,0M508.0,120.0a3.8,3.8 0 1,0 7.6,0a3.8,3.8 0 1,0 -7.6,0M525.6,189.1a3.8,3.8 0 1,0 7.6,0a3.8,3.8 0 1,0 -7.6,0M526.9,162.7a3.8,3.8 0 1,0 7.6,0a3.8,3.8 0 1,0 -7.6,0M513.6,226.7a3.8,3.8 0 1,0 7.6,0a3.8,3.8 0 1,0 -7.6,0M530.2,171.0a3.8,3.8 0 1,0 7.6,0a3.8,3.8 0 1,0 -7.6,0M527.0,167.6a3.8,3.8 0 1,0 7.6,0a3.8,3.8 0 1,0 -7.6,0M507.4,125.9a3.8,3.8 0 1,0 7.6,0a3.8,3.8 0 1,0 -7.6,0M501.0,150.1a3.8,3.8 0 1,0 7.6,0a3.8,3.8 0 1,0 -7.6,0M505.1,144.2a3.8,3.8 0 1,0 7.6,0a3.8,3.8 0 1,0 -7.6,0M501.6,167.0a3.8,3.8 0 1,0 7.6,0a3.8,3.8 0 1,0 -7.6,0M530.0,151.7a3.8,3.8 0 1,0 7.6,0a3.8,3.8 0 1,0 -7.6,0M531.0,163.3a3.8,3.8 0 1,0 7.6,0a3.8,3.8 0 1,0 -7.6,0M529.1,186.9a3.8,3.8 0 1,0 7.6,0a3.8,3.8 0 1,0 -7.6,0M529.8,137.7a3.8,3.8 0 1,0 7.6,0a3.8,3.8 0 1,0 -7.6,0M498.8,163.9a3.8,3.8 0 1,0 7.6,0a3.8,3.8 0 1,0 -7.6,0M511.9,92.0a3.8,3.8 0 1,0 7.6,0a3.8,3.8 0 1,0 -7.6,0M512.2,103.4a3.8,3.8 0 1,0 7.6,0a3.8,3.8 0 1,0 -7.6,0M523.3,229.2a3.8,3.8 0 1,0 7.6,0a3.8,3.8 0 1,0 -7.6,0M531.3,175.6a3.8,3.8 0 1,0 7.6,0a3.8,3.8 0 1,0 -7.6,0M503.6,192.1a3.8,3.8 0 1,0 7.6,0a3.8,3.8 0 1,0 -7.6,0M534.9,165.0a3.8,3.8 0 1,0 7.6,0a3.8,3.8 0 1,0 -7.6,0M496.7,174.2a3.8,3.8 0 1,0 7.6,0a3.8,3.8 0 1,0 -7.6,0M523.2,124.3a3.8,3.8 0 1,0 7.6,0a3.8,3.8 0 1,0 -7.6,0M519.7,106.0a3.8,3.8 0 1,0 7.6,0a3.8,3.8 0 1,0 -7.6,0M532.7,191.1a3.8,3.8 0 1,0 7.6,0a3.8,3.8 0 1,0 -7.6,0M503.7,207.7a3.8,3.8 0 1,0 7.6,0a3.8,3.8 0 1,0 -7.6,0M498.0,169.1a3.8,3.8 0 1,0 7.6,0a3.8,3.8 0 1,0 -7.6,0M493.9,168.1a3.8,3.8 0 1,0 7.6,0a3.8,3.8 0 1,0 -7.6,0M526.6,121.8a3.8,3.8 0 1,0 7.6,0a3.8,3.8 0 1,0 -7.6,0M499.0,186.5a3.8,3.8 0 1,0 7.6,0a3.8,3.8 0 1,0 -7.6,0M534.4,172.9a3.8,3.8 0 1,0 7.6,0a3.8,3.8 0 1,0 -7.6,0M531.5,216.9a3.8,3.8 0 1,0 7.6,0a3.8,3.8 0 1,0 -7.6,0M534.7,187.4a3.8,3.8 0 1,0 7.6,0a3.8,3.8 0 1,0 -7.6,0M522.1,203.4a3.8,3.8 0 1,0 7.6,0a3.8,3.8 0 1,0 -7.6,0M536.2,176.6a3.8,3.8 0 1,0 7.6,0a3.8,3.8 0 1,0 -7.6,0M506.2,227.9a3.8,3.8 0 1,0 7.6,0a3.8,3.8 0 1,0 -7.6,0M500.8,157.4a3.8,3.8 0 1,0 7.6,0a3.8,3.8 0 1,0 -7.6,0M498.2,153.2a3.8,3.8 0 1,0 7.6,0a3.8,3.8 0 1,0 -7.6,0M500.3,180.5a3.8,3.8 0 1,0 7.6,0a3.8,3.8 0 1,0 -7.6,0M527.4,145.0a3.8,3.8 0 1,0 7.6,0a3.8,3.8 0 1,0 -7.6,0M496.5,214.4a3.8,3.8 0 1,0 7.6,0a3.8,3.8 0 1,0 -7.6,0M496.3,189.9a3.8,3.8 0 1,0 7.6,0a3.8,3.8 0 1,0 -7.6,0M500.9,141.3a3.8,3.8 0 1,0 7.6,0a3.8,3.8 0 1,0 -7.6,0M493.0,176.2a3.8,3.8 0 1,0 7.6,0a3.8,3.8 0 1,0 -7.6,0M527.5,219.7a3.8,3.8 0 1,0 7.6,0a3.8,3.8 0 1,0 -7.6,0M529.6,204.2a3.8,3.8 0 1,0 7.6,0a3.8,3.8 0 1,0 -7.6,0M499.5,134.6a3.8,3.8 0 1,0 7.6,0a3.8,3.8 0 1,0 -7.6,0M495.2,161.8a3.8,3.8 0 1,0 7.6,0a3.8,3.8 0 1,0 -7.6,0M523.2,235.4a3.8,3.8 0 1,0 7.6,0a3.8,3.8 0 1,0 -7.6,0M506.4,235.7a3.8,3.8 0 1,0 7.6,0a3.8,3.8 0 1,0 -7.6,0M532.9,159.5a3.8,3.8 0 1,0 7.6,0a3.8,3.8 0 1,0 -7.6,0M500.8,204.6a3.8,3.8 0 1,0 7.6,0a3.8,3.8 0 1,0 -7.6,0M500.9,127.4a3.8,3.8 0 1,0 7.6,0a3.8,3.8 0 1,0 -7.6,0M535.5,215.9a3.8,3.8 0 1,0 7.6,0a3.8,3.8 0 1,0 -7.6,0M518.5,97.9a3.8,3.8 0 1,0 7.6,0a3.8,3.8 0 1,0 -7.6,0M537.5,212.2a3.8,3.8 0 1,0 7.6,0a3.8,3.8 0 1,0 -7.6,0M531.8,183.6a3.8,3.8 0 1,0 7.6,0a3.8,3.8 0 1,0 -7.6,0M515.5,48.0a3.8,3.8 0 1,0 7.6,0a3.8,3.8 0 1,0 -7.6,0M515.5,77.6a3.8,3.8 0 1,0 7.6,0a3.8,3.8 0 1,0 -7.6,0" fill="#0c9961"/>
<rect x="889.90" y="36.10" width="26.90" height="22.60" fill="#f8f9fd" stroke="#000" stroke-width="5.8"/>
<rect x="889.90" y="76.40" width="26.90" height="23.90" fill="#f8f9fd" stroke="#be8c00" stroke-width="5.8"/>
<rect x="718.85" y="114.85" width="86.30" height="24.10" fill="#f7686e" stroke="#be8c00" stroke-width="5.7"/>
<rect x="718.85" y="87.05" width="86.30" height="22.10" fill="#f7686e" stroke="#000" stroke-width="5.7"/>
<path d="M749.85,98.33l0.00,-3.60M749.85,98.33l3.42,-1.11M749.85,98.33l2.12,2.91M749.85,98.33l-2.12,2.91M749.85,98.33l-3.42,-1.11M757.95,98.33l0.00,-3.60M757.95,98.33l3.42,-1.11M757.95,98.33l2.12,2.91M757.95,98.33l-2.12,2.91M757.95,98.33l-3.42,-1.11M766.05,98.33l0.00,-3.60M766.05,98.33l3.42,-1.11M766.05,98.33l2.12,2.91M766.05,98.33l-2.12,2.91M766.05,98.33l-3.42,-1.11M774.15,98.33l0.00,-3.60M774.15,98.33l3.42,-1.11M774.15,98.33l2.12,2.91M774.15,98.33l-2.12,2.91M774.15,98.33l-3.42,-1.11" stroke="#000" stroke-width="2.0" stroke-linecap="butt" fill="none"/>
<path d="M749.85,126.70l0.00,-3.60M749.85,126.70l3.42,-1.11M749.85,126.70l2.12,2.91M749.85,126.70l-2.12,2.91M749.85,126.70l-3.42,-1.11M757.95,126.70l0.00,-3.60M757.95,126.70l3.42,-1.11M757.95,126.70l2.12,2.91M757.95,126.70l-2.12,2.91M757.95,126.70l-3.42,-1.11M766.05,126.70l0.00,-3.60M766.05,126.70l3.42,-1.11M766.05,126.70l2.12,2.91M766.05,126.70l-2.12,2.91M766.05,126.70l-3.42,-1.11M774.15,126.70l0.00,-3.60M774.15,126.70l3.42,-1.11M774.15,126.70l2.12,2.91M774.15,126.70l-2.12,2.91M774.15,126.70l-3.42,-1.11" stroke="#000" stroke-width="2.0" stroke-linecap="butt" fill="none"/>
<rect x="718.85" y="175.95" width="86.30" height="23.70" fill="#f78c8f" stroke="#be8c00" stroke-width="5.7"/>
<rect x="718.85" y="149.85" width="86.30" height="20.40" fill="#f7686e" stroke="#000" stroke-width="5.7"/>
<path d="M749.85,160.28l0.00,-3.60M749.85,160.28l3.42,-1.11M749.85,160.28l2.12,2.91M749.85,160.28l-2.12,2.91M749.85,160.28l-3.42,-1.11M757.95,160.28l0.00,-3.60M757.95,160.28l3.42,-1.11M757.95,160.28l2.12,2.91M757.95,160.28l-2.12,2.91M757.95,160.28l-3.42,-1.11M766.05,160.28l0.00,-3.60M766.05,160.28l3.42,-1.11M766.05,160.28l2.12,2.91M766.05,160.28l-2.12,2.91M766.05,160.28l-3.42,-1.11M774.15,160.28l0.00,-3.60M774.15,160.28l3.42,-1.11M774.15,160.28l2.12,2.91M774.15,160.28l-2.12,2.91M774.15,160.28l-3.42,-1.11" stroke="#000" stroke-width="2.0" stroke-linecap="butt" fill="none"/>
<path d="M753.90,187.60l0.00,-3.60M753.90,187.60l3.42,-1.11M753.90,187.60l2.12,2.91M753.90,187.60l-2.12,2.91M753.90,187.60l-3.42,-1.11M762.00,187.60l0.00,-3.60M762.00,187.60l3.42,-1.11M762.00,187.60l2.12,2.91M762.00,187.60l-2.12,2.91M762.00,187.60l-3.42,-1.11M770.10,187.60l0.00,-3.60M770.10,187.60l3.42,-1.11M770.10,187.60l2.12,2.91M770.10,187.60l-2.12,2.91M770.10,187.60l-3.42,-1.11" stroke="#000" stroke-width="2.0" stroke-linecap="butt" fill="none"/>
<rect x="817.10" y="175.95" width="86.30" height="23.70" fill="#f7686e" stroke="#be8c00" stroke-width="5.7"/>
<rect x="817.10" y="149.85" width="86.30" height="20.40" fill="#f78c8f" stroke="#000" stroke-width="5.7"/>
<path d="M852.15,160.28l0.00,-3.60M852.15,160.28l3.42,-1.11M852.15,160.28l2.12,2.91M852.15,160.28l-2.12,2.91M852.15,160.28l-3.42,-1.11M860.25,160.28l0.00,-3.60M860.25,160.28l3.42,-1.11M860.25,160.28l2.12,2.91M860.25,160.28l-2.12,2.91M860.25,160.28l-3.42,-1.11M868.35,160.28l0.00,-3.60M868.35,160.28l3.42,-1.11M868.35,160.28l2.12,2.91M868.35,160.28l-2.12,2.91M868.35,160.28l-3.42,-1.11" stroke="#000" stroke-width="2.0" stroke-linecap="butt" fill="none"/>
<path d="M848.10,187.60l0.00,-3.60M848.10,187.60l3.42,-1.11M848.10,187.60l2.12,2.91M848.10,187.60l-2.12,2.91M848.10,187.60l-3.42,-1.11M856.20,187.60l0.00,-3.60M856.20,187.60l3.42,-1.11M856.20,187.60l2.12,2.91M856.20,187.60l-2.12,2.91M856.20,187.60l-3.42,-1.11M864.30,187.60l0.00,-3.60M864.30,187.60l3.42,-1.11M864.30,187.60l2.12,2.91M864.30,187.60l-2.12,2.91M864.30,187.60l-3.42,-1.11M872.40,187.60l0.00,-3.60M872.40,187.60l3.42,-1.11M872.40,187.60l2.12,2.91M872.40,187.60l-2.12,2.91M872.40,187.60l-3.42,-1.11" stroke="#000" stroke-width="2.0" stroke-linecap="butt" fill="none"/>
<rect x="718.85" y="236.95" width="86.30" height="22.30" fill="#f7686e" stroke="#be8c00" stroke-width="5.7"/>
<rect x="718.85" y="210.95" width="86.30" height="20.30" fill="#f7686e" stroke="#000" stroke-width="5.7"/>
<path d="M749.85,221.33l0.00,-3.60M749.85,221.33l3.42,-1.11M749.85,221.33l2.12,2.91M749.85,221.33l-2.12,2.91M749.85,221.33l-3.42,-1.11M757.95,221.33l0.00,-3.60M757.95,221.33l3.42,-1.11M757.95,221.33l2.12,2.91M757.95,221.33l-2.12,2.91M757.95,221.33l-3.42,-1.11M766.05,221.33l0.00,-3.60M766.05,221.33l3.42,-1.11M766.05,221.33l2.12,2.91M766.05,221.33l-2.12,2.91M766.05,221.33l-3.42,-1.11M774.15,221.33l0.00,-3.60M774.15,221.33l3.42,-1.11M774.15,221.33l2.12,2.91M774.15,221.33l-2.12,2.91M774.15,221.33l-3.42,-1.11" stroke="#000" stroke-width="2.0" stroke-linecap="butt" fill="none"/>
<path d="M749.85,247.90l0.00,-3.60M749.85,247.90l3.42,-1.11M749.85,247.90l2.12,2.91M749.85,247.90l-2.12,2.91M749.85,247.90l-3.42,-1.11M757.95,247.90l0.00,-3.60M757.95,247.90l3.42,-1.11M757.95,247.90l2.12,2.91M757.95,247.90l-2.12,2.91M757.95,247.90l-3.42,-1.11M766.05,247.90l0.00,-3.60M766.05,247.90l3.42,-1.11M766.05,247.90l2.12,2.91M766.05,247.90l-2.12,2.91M766.05,247.90l-3.42,-1.11M774.15,247.90l0.00,-3.60M774.15,247.90l3.42,-1.11M774.15,247.90l2.12,2.91M774.15,247.90l-2.12,2.91M774.15,247.90l-3.42,-1.11" stroke="#000" stroke-width="2.0" stroke-linecap="butt" fill="none"/>
<rect x="817.10" y="236.95" width="86.30" height="22.30" fill="#f7686e" stroke="#be8c00" stroke-width="5.7"/>
<rect x="817.10" y="210.95" width="86.30" height="20.30" fill="#f8f9fd" stroke="#000" stroke-width="5.7"/>
<path d="M848.10,247.90l0.00,-3.60M848.10,247.90l3.42,-1.11M848.10,247.90l2.12,2.91M848.10,247.90l-2.12,2.91M848.10,247.90l-3.42,-1.11M856.20,247.90l0.00,-3.60M856.20,247.90l3.42,-1.11M856.20,247.90l2.12,2.91M856.20,247.90l-2.12,2.91M856.20,247.90l-3.42,-1.11M864.30,247.90l0.00,-3.60M864.30,247.90l3.42,-1.11M864.30,247.90l2.12,2.91M864.30,247.90l-2.12,2.91M864.30,247.90l-3.42,-1.11M872.40,247.90l0.00,-3.60M872.40,247.90l3.42,-1.11M872.40,247.90l2.12,2.91M872.40,247.90l-2.12,2.91M872.40,247.90l-3.42,-1.11" stroke="#000" stroke-width="2.0" stroke-linecap="butt" fill="none"/>
<rect x="915.35" y="236.95" width="86.30" height="22.30" fill="#f7686e" stroke="#be8c00" stroke-width="5.7"/>
<rect x="915.35" y="210.95" width="86.30" height="20.30" fill="#fbd8dc" stroke="#000" stroke-width="5.7"/>
<path d="M958.50,221.33l0.00,-3.60M958.50,221.33l3.42,-1.11M958.50,221.33l2.12,2.91M958.50,221.33l-2.12,2.91M958.50,221.33l-3.42,-1.11" stroke="#000" stroke-width="2.0" stroke-linecap="butt" fill="none"/>
<path d="M946.35,247.90l0.00,-3.60M946.35,247.90l3.42,-1.11M946.35,247.90l2.12,2.91M946.35,247.90l-2.12,2.91M946.35,247.90l-3.42,-1.11M954.45,247.90l0.00,-3.60M954.45,247.90l3.42,-1.11M954.45,247.90l2.12,2.91M954.45,247.90l-2.12,2.91M954.45,247.90l-3.42,-1.11M962.55,247.90l0.00,-3.60M962.55,247.90l3.42,-1.11M962.55,247.90l2.12,2.91M962.55,247.90l-2.12,2.91M962.55,247.90l-3.42,-1.11M970.65,247.90l0.00,-3.60M970.65,247.90l3.42,-1.11M970.65,247.90l2.12,2.91M970.65,247.90l-2.12,2.91M970.65,247.90l-3.42,-1.11" stroke="#000" stroke-width="2.0" stroke-linecap="butt" fill="none"/>
<rect x="718.85" y="298.45" width="86.30" height="23.80" fill="#f9b0b3" stroke="#be8c00" stroke-width="5.7"/>
<rect x="718.85" y="271.85" width="86.30" height="20.90" fill="#f78c8f" stroke="#000" stroke-width="5.7"/>
<path d="M753.90,282.53l0.00,-3.60M753.90,282.53l3.42,-1.11M753.90,282.53l2.12,2.91M753.90,282.53l-2.12,2.91M753.90,282.53l-3.42,-1.11M762.00,282.53l0.00,-3.60M762.00,282.53l3.42,-1.11M762.00,282.53l2.12,2.91M762.00,282.53l-2.12,2.91M762.00,282.53l-3.42,-1.11M770.10,282.53l0.00,-3.60M770.10,282.53l3.42,-1.11M770.10,282.53l2.12,2.91M770.10,282.53l-2.12,2.91M770.10,282.53l-3.42,-1.11" stroke="#000" stroke-width="2.0" stroke-linecap="butt" fill="none"/>
<path d="M757.95,310.15l0.00,-3.60M757.95,310.15l3.42,-1.11M757.95,310.15l2.12,2.91M757.95,310.15l-2.12,2.91M757.95,310.15l-3.42,-1.11M766.05,310.15l0.00,-3.60M766.05,310.15l3.42,-1.11M766.05,310.15l2.12,2.91M766.05,310.15l-2.12,2.91M766.05,310.15l-3.42,-1.11" stroke="#000" stroke-width="2.0" stroke-linecap="butt" fill="none"/>
<rect x="817.10" y="298.45" width="86.30" height="23.80" fill="#f7686e" stroke="#be8c00" stroke-width="5.7"/>
<rect x="817.10" y="271.85" width="86.30" height="20.90" fill="#f7686e" stroke="#000" stroke-width="5.7"/>
<path d="M848.10,282.53l0.00,-3.60M848.10,282.53l3.42,-1.11M848.10,282.53l2.12,2.91M848.10,282.53l-2.12,2.91M848.10,282.53l-3.42,-1.11M856.20,282.53l0.00,-3.60M856.20,282.53l3.42,-1.11M856.20,282.53l2.12,2.91M856.20,282.53l-2.12,2.91M856.20,282.53l-3.42,-1.11M864.30,282.53l0.00,-3.60M864.30,282.53l3.42,-1.11M864.30,282.53l2.12,2.91M864.30,282.53l-2.12,2.91M864.30,282.53l-3.42,-1.11M872.40,282.53l0.00,-3.60M872.40,282.53l3.42,-1.11M872.40,282.53l2.12,2.91M872.40,282.53l-2.12,2.91M872.40,282.53l-3.42,-1.11" stroke="#000" stroke-width="2.0" stroke-linecap="butt" fill="none"/>
<path d="M848.10,310.15l0.00,-3.60M848.10,310.15l3.42,-1.11M848.10,310.15l2.12,2.91M848.10,310.15l-2.12,2.91M848.10,310.15l-3.42,-1.11M856.20,310.15l0.00,-3.60M856.20,310.15l3.42,-1.11M856.20,310.15l2.12,2.91M856.20,310.15l-2.12,2.91M856.20,310.15l-3.42,-1.11M864.30,310.15l0.00,-3.60M864.30,310.15l3.42,-1.11M864.30,310.15l2.12,2.91M864.30,310.15l-2.12,2.91M864.30,310.15l-3.42,-1.11M872.40,310.15l0.00,-3.60M872.40,310.15l3.42,-1.11M872.40,310.15l2.12,2.91M872.40,310.15l-2.12,2.91M872.40,310.15l-3.42,-1.11" stroke="#000" stroke-width="2.0" stroke-linecap="butt" fill="none"/>
<rect x="915.35" y="298.45" width="86.30" height="23.80" fill="#f8f9fd" stroke="#be8c00" stroke-width="5.7"/>
<rect x="915.35" y="271.85" width="86.30" height="20.90" fill="#f8f9fd" stroke="#000" stroke-width="5.7"/>
<rect x="1012.85" y="298.45" width="86.30" height="23.80" fill="#f7686e" stroke="#be8c00" stroke-width="5.7"/>
<rect x="1012.85" y="271.85" width="86.30" height="20.90" fill="#f78c8f" stroke="#000" stroke-width="5.7"/>
<path d="M1047.90,282.53l0.00,-3.60M1047.90,282.53l3.42,-1.11M1047.90,282.53l2.12,2.91M1047.90,282.53l-2.12,2.91M1047.90,282.53l-3.42,-1.11M1056.00,282.53l0.00,-3.60M1056.00,282.53l3.42,-1.11M1056.00,282.53l2.12,2.91M1056.00,282.53l-2.12,2.91M1056.00,282.53l-3.42,-1.11M1064.10,282.53l0.00,-3.60M1064.10,282.53l3.42,-1.11M1064.10,282.53l2.12,2.91M1064.10,282.53l-2.12,2.91M1064.10,282.53l-3.42,-1.11" stroke="#000" stroke-width="2.0" stroke-linecap="butt" fill="none"/>
<path d="M1043.85,310.15l0.00,-3.60M1043.85,310.15l3.42,-1.11M1043.85,310.15l2.12,2.91M1043.85,310.15l-2.12,2.91M1043.85,310.15l-3.42,-1.11M1051.95,310.15l0.00,-3.60M1051.95,310.15l3.42,-1.11M1051.95,310.15l2.12,2.91M1051.95,310.15l-2.12,2.91M1051.95,310.15l-3.42,-1.11M1060.05,310.15l0.00,-3.60M1060.05,310.15l3.42,-1.11M1060.05,310.15l2.12,2.91M1060.05,310.15l-2.12,2.91M1060.05,310.15l-3.42,-1.11M1068.15,310.15l0.00,-3.60M1068.15,310.15l3.42,-1.11M1068.15,310.15l2.12,2.91M1068.15,310.15l-2.12,2.91M1068.15,310.15l-3.42,-1.11" stroke="#000" stroke-width="2.0" stroke-linecap="butt" fill="none"/>
<rect x="718.85" y="362.85" width="86.30" height="23.30" fill="#f7686e" stroke="#be8c00" stroke-width="5.7"/>
<rect x="718.85" y="334.85" width="86.30" height="22.30" fill="#f7686e" stroke="#000" stroke-width="5.7"/>
<path d="M749.85,346.23l0.00,-3.60M749.85,346.23l3.42,-1.11M749.85,346.23l2.12,2.91M749.85,346.23l-2.12,2.91M749.85,346.23l-3.42,-1.11M757.95,346.23l0.00,-3.60M757.95,346.23l3.42,-1.11M757.95,346.23l2.12,2.91M757.95,346.23l-2.12,2.91M757.95,346.23l-3.42,-1.11M766.05,346.23l0.00,-3.60M766.05,346.23l3.42,-1.11M766.05,346.23l2.12,2.91M766.05,346.23l-2.12,2.91M766.05,346.23l-3.42,-1.11M774.15,346.23l0.00,-3.60M774.15,346.23l3.42,-1.11M774.15,346.23l2.12,2.91M774.15,346.23l-2.12,2.91M774.15,346.23l-3.42,-1.11" stroke="#000" stroke-width="2.0" stroke-linecap="butt" fill="none"/>
<path d="M749.85,374.30l0.00,-3.60M749.85,374.30l3.42,-1.11M749.85,374.30l2.12,2.91M749.85,374.30l-2.12,2.91M749.85,374.30l-3.42,-1.11M757.95,374.30l0.00,-3.60M757.95,374.30l3.42,-1.11M757.95,374.30l2.12,2.91M757.95,374.30l-2.12,2.91M757.95,374.30l-3.42,-1.11M766.05,374.30l0.00,-3.60M766.05,374.30l3.42,-1.11M766.05,374.30l2.12,2.91M766.05,374.30l-2.12,2.91M766.05,374.30l-3.42,-1.11M774.15,374.30l0.00,-3.60M774.15,374.30l3.42,-1.11M774.15,374.30l2.12,2.91M774.15,374.30l-2.12,2.91M774.15,374.30l-3.42,-1.11" stroke="#000" stroke-width="2.0" stroke-linecap="butt" fill="none"/>
<rect x="817.10" y="362.85" width="86.30" height="23.30" fill="#f7686e" stroke="#be8c00" stroke-width="5.7"/>
<rect x="817.10" y="334.85" width="86.30" height="22.30" fill="#f8f9fd" stroke="#000" stroke-width="5.7"/>
<path d="M848.10,374.30l0.00,-3.60M848.10,374.30l3.42,-1.11M848.10,374.30l2.12,2.91M848.10,374.30l-2.12,2.91M848.10,374.30l-3.42,-1.11M856.20,374.30l0.00,-3.60M856.20,374.30l3.42,-1.11M856.20,374.30l2.12,2.91M856.20,374.30l-2.12,2.91M856.20,374.30l-3.42,-1.11M864.30,374.30l0.00,-3.60M864.30,374.30l3.42,-1.11M864.30,374.30l2.12,2.91M864.30,374.30l-2.12,2.91M864.30,374.30l-3.42,-1.11M872.40,374.30l0.00,-3.60M872.40,374.30l3.42,-1.11M872.40,374.30l2.12,2.91M872.40,374.30l-2.12,2.91M872.40,374.30l-3.42,-1.11" stroke="#000" stroke-width="2.0" stroke-linecap="butt" fill="none"/>
<rect x="915.35" y="362.85" width="86.30" height="23.30" fill="#f7686e" stroke="#be8c00" stroke-width="5.7"/>
<rect x="915.35" y="334.85" width="86.30" height="22.30" fill="#fbd8dc" stroke="#000" stroke-width="5.7"/>
<path d="M958.50,346.23l0.00,-3.60M958.50,346.23l3.42,-1.11M958.50,346.23l2.12,2.91M958.50,346.23l-2.12,2.91M958.50,346.23l-3.42,-1.11" stroke="#000" stroke-width="2.0" stroke-linecap="butt" fill="none"/>
<path d="M946.35,374.30l0.00,-3.60M946.35,374.30l3.42,-1.11M946.35,374.30l2.12,2.91M946.35,374.30l-2.12,2.91M946.35,374.30l-3.42,-1.11M954.45,374.30l0.00,-3.60M954.45,374.30l3.42,-1.11M954.45,374.30l2.12,2.91M954.45,374.30l-2.12,2.91M954.45,374.30l-3.42,-1.11M962.55,374.30l0.00,-3.60M962.55,374.30l3.42,-1.11M962.55,374.30l2.12,2.91M962.55,374.30l-2.12,2.91M962.55,374.30l-3.42,-1.11M970.65,374.30l0.00,-3.60M970.65,374.30l3.42,-1.11M970.65,374.30l2.12,2.91M970.65,374.30l-2.12,2.91M970.65,374.30l-3.42,-1.11" stroke="#000" stroke-width="2.0" stroke-linecap="butt" fill="none"/>
<rect x="1012.85" y="362.85" width="86.30" height="23.30" fill="#f8f9fd" stroke="#be8c00" stroke-width="5.7"/>
<rect x="1012.85" y="334.85" width="86.30" height="22.30" fill="#f8f9fd" stroke="#000" stroke-width="5.7"/>
<rect x="1110.35" y="362.85" width="87.30" height="23.30" fill="#f7686e" stroke="#be8c00" stroke-width="5.7"/>
<rect x="1110.35" y="334.85" width="87.30" height="22.30" fill="#f9b0b3" stroke="#000" stroke-width="5.7"/>
<path d="M1149.95,346.23l0.00,-3.60M1149.95,346.23l3.42,-1.11M1149.95,346.23l2.12,2.91M1149.95,346.23l-2.12,2.91M1149.95,346.23l-3.42,-1.11M1158.05,346.23l0.00,-3.60M1158.05,346.23l3.42,-1.11M1158.05,346.23l2.12,2.91M1158.05,346.23l-2.12,2.91M1158.05,346.23l-3.42,-1.11" stroke="#000" stroke-width="2.0" stroke-linecap="butt" fill="none"/>
<path d="M1141.85,374.30l0.00,-3.60M1141.85,374.30l3.42,-1.11M1141.85,374.30l2.12,2.91M1141.85,374.30l-2.12,2.91M1141.85,374.30l-3.42,-1.11M1149.95,374.30l0.00,-3.60M1149.95,374.30l3.42,-1.11M1149.95,374.30l2.12,2.91M1149.95,374.30l-2.12,2.91M1149.95,374.30l-3.42,-1.11M1158.05,374.30l0.00,-3.60M1158.05,374.30l3.42,-1.11M1158.05,374.30l2.12,2.91M1158.05,374.30l-2.12,2.91M1158.05,374.30l-3.42,-1.11M1166.15,374.30l0.00,-3.60M1166.15,374.30l3.42,-1.11M1166.15,374.30l2.12,2.91M1166.15,374.30l-2.12,2.91M1166.15,374.30l-3.42,-1.11" stroke="#000" stroke-width="2.0" stroke-linecap="butt" fill="none"/>
<line x1="92.40" y1="519.50" x2="92.40" y2="849.00" stroke="#000" stroke-width="3" stroke-linecap="butt"/>
<line x1="78.40" y1="521.00" x2="92.40" y2="521.00" stroke="#000" stroke-width="3" stroke-linecap="butt"/>
<line x1="78.40" y1="630.00" x2="92.40" y2="630.00" stroke="#000" stroke-width="3" stroke-linecap="butt"/>
<line x1="78.40" y1="738.60" x2="92.40" y2="738.60" stroke="#000" stroke-width="3" stroke-linecap="butt"/>
<line x1="78.40" y1="847.00" x2="92.40" y2="847.00" stroke="#000" stroke-width="3" stroke-linecap="butt"/>
<line x1="78.40" y1="847.50" x2="583.50" y2="847.50" stroke="#000" stroke-width="3.5" stroke-linecap="butt"/>
<line x1="134.70" y1="777.40" x2="134.70" y2="787.60" stroke="#000" stroke-width="2.5" stroke-linecap="butt"/>
<line x1="124.40" y1="778.65" x2="145.00" y2="778.65" stroke="#000" stroke-width="2.6" stroke-linecap="butt"/>
<rect x="115.80" y="789.00" width="37.20" height="58.50" fill="#dd89f7" stroke="#000" stroke-width="2.8"/>
<line x1="198.50" y1="823.60" x2="198.50" y2="826.60" stroke="#000" stroke-width="2.5" stroke-linecap="butt"/>
<line x1="188.00" y1="824.85" x2="209.00" y2="824.85" stroke="#000" stroke-width="2.6" stroke-linecap="butt"/>
<rect x="179.40" y="828.00" width="37.60" height="19.50" fill="#ffa040" stroke="#000" stroke-width="2.8"/>
<line x1="304.50" y1="628.00" x2="304.50" y2="659.50" stroke="#000" stroke-width="2.5" stroke-linecap="butt"/>
<line x1="294.00" y1="629.25" x2="315.00" y2="629.25" stroke="#000" stroke-width="2.6" stroke-linecap="butt"/>
<rect x="285.80" y="660.90" width="37.40" height="186.60" fill="#dd89f7" stroke="#000" stroke-width="2.8"/>
<line x1="368.50" y1="810.40" x2="368.50" y2="820.60" stroke="#000" stroke-width="2.5" stroke-linecap="butt"/>
<line x1="358.00" y1="811.65" x2="379.00" y2="811.65" stroke="#000" stroke-width="2.6" stroke-linecap="butt"/>
<rect x="350.00" y="822.00" width="37.10" height="25.50" fill="#ffa040" stroke="#000" stroke-width="2.8"/>
<line x1="474.25" y1="828.40" x2="474.25" y2="832.60" stroke="#000" stroke-width="2.5" stroke-linecap="butt"/>
<line x1="464.00" y1="829.65" x2="484.50" y2="829.65" stroke="#000" stroke-width="2.6" stroke-linecap="butt"/>
<rect x="455.90" y="834.00" width="37.70" height="13.50" fill="#dd89f7" stroke="#000" stroke-width="2.8"/>
<line x1="537.90" y1="823.60" x2="537.90" y2="826.60" stroke="#000" stroke-width="2.5" stroke-linecap="butt"/>
<line x1="527.40" y1="824.85" x2="548.40" y2="824.85" stroke="#000" stroke-width="2.6" stroke-linecap="butt"/>
<rect x="518.90" y="828.00" width="38.30" height="19.50" fill="#ffa040" stroke="#000" stroke-width="2.8"/>
<line x1="134.00" y1="766.60" x2="198.40" y2="766.60" stroke="#000" stroke-width="4.5" stroke-linecap="butt"/>
<line x1="304.50" y1="618.40" x2="365.40" y2="618.40" stroke="#000" stroke-width="4.5" stroke-linecap="butt"/>
<line x1="473.40" y1="804.40" x2="537.00" y2="804.40" stroke="#000" stroke-width="4.5" stroke-linecap="butt"/>
<line x1="165.60" y1="847.50" x2="165.60" y2="861.00" stroke="#000" stroke-width="3" stroke-linecap="butt"/>
<line x1="335.40" y1="847.50" x2="335.40" y2="861.00" stroke="#000" stroke-width="3" stroke-linecap="butt"/>
<line x1="505.50" y1="847.50" x2="505.50" y2="861.00" stroke="#000" stroke-width="3" stroke-linecap="butt"/>
<path d="M160.25,755.10l0.00,-5.10M160.25,755.10l4.85,-1.58M160.25,755.10l3.00,4.13M160.25,755.10l-3.00,4.13M160.25,755.10l-4.85,-1.58M171.75,755.10l0.00,-5.10M171.75,755.10l4.85,-1.58M171.75,755.10l3.00,4.13M171.75,755.10l-3.00,4.13M171.75,755.10l-4.85,-1.58" stroke="#000" stroke-width="2.6" stroke-linecap="butt" fill="none"/>
<path d="M317.05,608.40l0.00,-5.20M317.05,608.40l4.95,-1.61M317.05,608.40l3.06,4.21M317.05,608.40l-3.06,4.21M317.05,608.40l-4.95,-1.61M329.08,608.40l0.00,-5.20M329.08,608.40l4.95,-1.61M329.08,608.40l3.06,4.21M329.08,608.40l-3.06,4.21M329.08,608.40l-4.95,-1.61M341.12,608.40l0.00,-5.20M341.12,608.40l4.95,-1.61M341.12,608.40l3.06,4.21M341.12,608.40l-3.06,4.21M341.12,608.40l-4.95,-1.61M353.15,608.40l0.00,-5.20M353.15,608.40l4.95,-1.61M353.15,608.40l3.06,4.21M353.15,608.40l-3.06,4.21M353.15,608.40l-4.95,-1.61" stroke="#000" stroke-width="2.6" stroke-linecap="butt" fill="none"/>
<path d="M502.00,792.00l0.00,-5.00M502.00,792.00l4.76,-1.55M502.00,792.00l2.94,4.05M502.00,792.00l-2.94,4.05M502.00,792.00l-4.76,-1.55" stroke="#000" stroke-width="2.6" stroke-linecap="butt" fill="none"/>
<line x1="656.50" y1="532.75" x2="656.50" y2="849.50" stroke="#000" stroke-width="3" stroke-linecap="butt"/>
<line x1="642.50" y1="534.25" x2="656.50" y2="534.25" stroke="#000" stroke-width="3" stroke-linecap="butt"/>
<line x1="642.50" y1="638.75" x2="656.50" y2="638.75" stroke="#000" stroke-width="3" stroke-linecap="butt"/>
<line x1="642.50" y1="743.75" x2="656.50" y2="743.75" stroke="#000" stroke-width="3" stroke-linecap="butt"/>
<line x1="642.50" y1="848.00" x2="656.50" y2="848.00" stroke="#000" stroke-width="3" stroke-linecap="butt"/>
<line x1="642.50" y1="848.00" x2="1127.30" y2="848.00" stroke="#000" stroke-width="3.5" stroke-linecap="butt"/>
<line x1="696.48" y1="837.60" x2="696.48" y2="839.20" stroke="#000" stroke-width="2.5" stroke-linecap="butt"/>
<line x1="686.25" y1="838.85" x2="706.70" y2="838.85" stroke="#000" stroke-width="2.6" stroke-linecap="butt"/>
<rect x="677.15" y="840.60" width="38.65" height="7.40" fill="#dd89f7" stroke="#000" stroke-width="2.8"/>
<line x1="758.20" y1="841.10" x2="758.20" y2="843.40" stroke="#000" stroke-width="2.5" stroke-linecap="butt"/>
<line x1="748.40" y1="842.35" x2="768.00" y2="842.35" stroke="#000" stroke-width="2.6" stroke-linecap="butt"/>
<rect x="738.20" y="843.40" width="39.90" height="4.60" fill="#000" stroke="none" stroke-width="0"/>
<line x1="859.75" y1="574.25" x2="859.75" y2="628.00" stroke="#000" stroke-width="2.5" stroke-linecap="butt"/>
<line x1="850.00" y1="575.50" x2="869.50" y2="575.50" stroke="#000" stroke-width="2.6" stroke-linecap="butt"/>
<rect x="842.65" y="629.40" width="35.25" height="218.60" fill="#dd89f7" stroke="#000" stroke-width="2.8"/>
<line x1="921.30" y1="839.00" x2="921.30" y2="842.20" stroke="#000" stroke-width="2.5" stroke-linecap="butt"/>
<line x1="911.30" y1="840.25" x2="931.30" y2="840.25" stroke="#000" stroke-width="2.6" stroke-linecap="butt"/>
<rect x="901.00" y="842.20" width="40.00" height="5.80" fill="#000" stroke="none" stroke-width="0"/>
<rect x="1013.00" y="845.00" width="20.50" height="3.00" fill="#000" stroke="none" stroke-width="0"/>
<line x1="1084.00" y1="840.50" x2="1084.00" y2="842.20" stroke="#000" stroke-width="2.5" stroke-linecap="butt"/>
<line x1="1074.00" y1="841.75" x2="1094.00" y2="841.75" stroke="#000" stroke-width="2.6" stroke-linecap="butt"/>
<rect x="1064.00" y="842.20" width="40.00" height="5.80" fill="#000" stroke="none" stroke-width="0"/>
<line x1="696.75" y1="820.75" x2="759.25" y2="820.75" stroke="#000" stroke-width="4.5" stroke-linecap="butt"/>
<line x1="859.40" y1="556.00" x2="924.30" y2="556.00" stroke="#000" stroke-width="4.5" stroke-linecap="butt"/>
<line x1="1023.00" y1="820.60" x2="1084.40" y2="820.60" stroke="#000" stroke-width="4.5" stroke-linecap="butt"/>
<line x1="728.00" y1="848.00" x2="728.00" y2="861.25" stroke="#000" stroke-width="3" stroke-linecap="butt"/>
<line x1="890.20" y1="848.00" x2="890.20" y2="861.25" stroke="#000" stroke-width="3" stroke-linecap="butt"/>
<line x1="1052.60" y1="848.00" x2="1052.60" y2="861.25" stroke="#000" stroke-width="3" stroke-linecap="butt"/>
<path d="M716.80,811.15l0.00,-4.90M716.80,811.15l4.66,-1.51M716.80,811.15l2.88,3.96M716.80,811.15l-2.88,3.96M716.80,811.15l-4.66,-1.51M728.70,811.15l0.00,-4.90M728.70,811.15l4.66,-1.51M728.70,811.15l2.88,3.96M728.70,811.15l-2.88,3.96M728.70,811.15l-4.66,-1.51" stroke="#000" stroke-width="2.5" stroke-linecap="butt" fill="none"/>
<path d="M875.65,542.50l0.00,-5.50M875.65,542.50l5.23,-1.70M875.65,542.50l3.23,4.45M875.65,542.50l-3.23,4.45M875.65,542.50l-5.23,-1.70M886.80,542.50l0.00,-5.50M886.80,542.50l5.23,-1.70M886.80,542.50l3.23,4.45M886.80,542.50l-3.23,4.45M886.80,542.50l-5.23,-1.70M897.95,542.50l0.00,-5.50M897.95,542.50l5.23,-1.70M897.95,542.50l3.23,4.45M897.95,542.50l-3.23,4.45M897.95,542.50l-5.23,-1.70" stroke="#000" stroke-width="2.7" stroke-linecap="butt" fill="none"/>
<path d="M1036.54,807.10l0.00,-5.60M1036.54,807.10l5.33,-1.73M1036.54,807.10l3.29,4.53M1036.54,807.10l-3.29,4.53M1036.54,807.10l-5.33,-1.73M1048.40,807.10l0.00,-5.60M1048.40,807.10l5.33,-1.73M1048.40,807.10l3.29,4.53M1048.40,807.10l-3.29,4.53M1048.40,807.10l-5.33,-1.73M1060.26,807.10l0.00,-5.60M1060.26,807.10l5.33,-1.73M1060.26,807.10l3.29,4.53M1060.26,807.10l-3.29,4.53M1060.26,807.10l-5.33,-1.73" stroke="#000" stroke-width="2.7" stroke-linecap="butt" fill="none"/>
<rect x="1038.40" y="509.00" width="29.50" height="12.00" fill="#dd89f7" stroke="#000" stroke-width="3"/>
<rect x="1038.40" y="551.20" width="29.50" height="13.30" fill="#ffa040" stroke="#000" stroke-width="3"/>
<line x1="143.75" y1="996.25" x2="143.75" y2="1288.75" stroke="#000" stroke-width="2.5" stroke-linecap="butt"/>
<line x1="132.00" y1="997.50" x2="143.75" y2="997.50" stroke="#000" stroke-width="2.5" stroke-linecap="butt"/>
<line x1="132.00" y1="1055.75" x2="143.75" y2="1055.75" stroke="#000" stroke-width="2.5" stroke-linecap="butt"/>
<line x1="132.00" y1="1114.00" x2="143.75" y2="1114.00" stroke="#000" stroke-width="2.5" stroke-linecap="butt"/>
<line x1="132.00" y1="1172.25" x2="143.75" y2="1172.25" stroke="#000" stroke-width="2.5" stroke-linecap="butt"/>
<line x1="132.00" y1="1230.50" x2="143.75" y2="1230.50" stroke="#000" stroke-width="2.5" stroke-linecap="butt"/>
<line x1="132.00" y1="1288.75" x2="143.75" y2="1288.75" stroke="#000" stroke-width="2.5" stroke-linecap="butt"/>
<line x1="132.00" y1="1288.50" x2="584.00" y2="1288.50" stroke="#000" stroke-width="3" stroke-linecap="butt"/>
<line x1="269.30" y1="1288.50" x2="269.30" y2="1301.25" stroke="#000" stroke-width="3" stroke-linecap="butt"/>
<line x1="457.10" y1="1288.50" x2="457.10" y2="1301.25" stroke="#000" stroke-width="3" stroke-linecap="butt"/>
<line x1="269.60" y1="1022.60" x2="458.60" y2="1022.60" stroke="#000" stroke-width="4" stroke-linecap="butt"/>
<path d="M351.96,1009.30l0.00,-6.60M351.96,1009.30l6.28,-2.04M351.96,1009.30l3.88,5.34M351.96,1009.30l-3.88,5.34M351.96,1009.30l-6.28,-2.04M367.24,1009.30l0.00,-6.60M367.24,1009.30l6.28,-2.04M367.24,1009.30l3.88,5.34M367.24,1009.30l-3.88,5.34M367.24,1009.30l-6.28,-2.04" stroke="#000" stroke-width="3.1" stroke-linecap="butt" fill="none"/>
<line x1="206.90" y1="1183.00" x2="331.90" y2="1183.00" stroke="#111" stroke-width="3" stroke-linecap="butt"/>
<line x1="394.70" y1="1144.30" x2="520.00" y2="1144.30" stroke="#111" stroke-width="3" stroke-linecap="butt"/>
<path d="M264.4,1192.3a5.2,5.2 0 1,0 10.4,0a5.2,5.2 0 1,0 -10.4,0M264.4,1197.9a5.2,5.2 0 1,0 10.4,0a5.2,5.2 0 1,0 -10.4,0M264.4,1162.4a5.2,5.2 0 1,0 10.4,0a5.2,5.2 0 1,0 -10.4,0M259.7,1190.1a5.2,5.2 0 1,0 10.4,0a5.2,5.2 0 1,0 -10.4,0M267.9,1188.5a5.2,5.2 0 1,0 10.4,0a5.2,5.2 0 1,0 -10.4,0M264.4,1184.3a5.2,5.2 0 1,0 10.4,0a5.2,5.2 0 1,0 -10.4,0M264.4,1212.6a5.2,5.2 0 1,0 10.4,0a5.2,5.2 0 1,0 -10.4,0M261.5,1180.0a5.2,5.2 0 1,0 10.4,0a5.2,5.2 0 1,0 -10.4,0M272.3,1191.2a5.2,5.2 0 1,0 10.4,0a5.2,5.2 0 1,0 -10.4,0M264.4,1156.0a5.2,5.2 0 1,0 10.4,0a5.2,5.2 0 1,0 -10.4,0M265.3,1176.3a5.2,5.2 0 1,0 10.4,0a5.2,5.2 0 1,0 -10.4,0M259.3,1213.5a5.2,5.2 0 1,0 10.4,0a5.2,5.2 0 1,0 -10.4,0M256.6,1194.2a5.2,5.2 0 1,0 10.4,0a5.2,5.2 0 1,0 -10.4,0M259.3,1198.9a5.2,5.2 0 1,0 10.4,0a5.2,5.2 0 1,0 -10.4,0M264.4,1205.5a5.2,5.2 0 1,0 10.4,0a5.2,5.2 0 1,0 -10.4,0M268.8,1181.6a5.2,5.2 0 1,0 10.4,0a5.2,5.2 0 1,0 -10.4,0M252.5,1191.0a5.2,5.2 0 1,0 10.4,0a5.2,5.2 0 1,0 -10.4,0M256.6,1178.4a5.2,5.2 0 1,0 10.4,0a5.2,5.2 0 1,0 -10.4,0M268.5,1201.2a5.2,5.2 0 1,0 10.4,0a5.2,5.2 0 1,0 -10.4,0M259.5,1207.2a5.2,5.2 0 1,0 10.4,0a5.2,5.2 0 1,0 -10.4,0M273.2,1199.1a5.2,5.2 0 1,0 10.4,0a5.2,5.2 0 1,0 -10.4,0M269.1,1207.8a5.2,5.2 0 1,0 10.4,0a5.2,5.2 0 1,0 -10.4,0M274.1,1206.3a5.2,5.2 0 1,0 10.4,0a5.2,5.2 0 1,0 -10.4,0M260.9,1173.5a5.2,5.2 0 1,0 10.4,0a5.2,5.2 0 1,0 -10.4,0M251.8,1196.2a5.2,5.2 0 1,0 10.4,0a5.2,5.2 0 1,0 -10.4,0M255.4,1202.3a5.2,5.2 0 1,0 10.4,0a5.2,5.2 0 1,0 -10.4,0M278.3,1200.2a5.2,5.2 0 1,0 10.4,0a5.2,5.2 0 1,0 -10.4,0M250.2,1201.7a5.2,5.2 0 1,0 10.4,0a5.2,5.2 0 1,0 -10.4,0M281.6,1204.2a5.2,5.2 0 1,0 10.4,0a5.2,5.2 0 1,0 -10.4,0M277.5,1191.7a5.2,5.2 0 1,0 10.4,0a5.2,5.2 0 1,0 -10.4,0M247.6,1189.5a5.2,5.2 0 1,0 10.4,0a5.2,5.2 0 1,0 -10.4,0M269.6,1213.1a5.2,5.2 0 1,0 10.4,0a5.2,5.2 0 1,0 -10.4,0M245.3,1203.5a5.2,5.2 0 1,0 10.4,0a5.2,5.2 0 1,0 -10.4,0M265.2,1170.6a5.2,5.2 0 1,0 10.4,0a5.2,5.2 0 1,0 -10.4,0M274.0,1181.1a5.2,5.2 0 1,0 10.4,0a5.2,5.2 0 1,0 -10.4,0M254.4,1211.6a5.2,5.2 0 1,0 10.4,0a5.2,5.2 0 1,0 -10.4,0M253.2,1182.3a5.2,5.2 0 1,0 10.4,0a5.2,5.2 0 1,0 -10.4,0M282.0,1196.6a5.2,5.2 0 1,0 10.4,0a5.2,5.2 0 1,0 -10.4,0M264.4,1231.2a5.2,5.2 0 1,0 10.4,0a5.2,5.2 0 1,0 -10.4,0M274.0,1215.9a5.2,5.2 0 1,0 10.4,0a5.2,5.2 0 1,0 -10.4,0M285.6,1201.0a5.2,5.2 0 1,0 10.4,0a5.2,5.2 0 1,0 -10.4,0M251.4,1207.4a5.2,5.2 0 1,0 10.4,0a5.2,5.2 0 1,0 -10.4,0M250.0,1214.3a5.2,5.2 0 1,0 10.4,0a5.2,5.2 0 1,0 -10.4,0M246.7,1197.4a5.2,5.2 0 1,0 10.4,0a5.2,5.2 0 1,0 -10.4,0M277.7,1212.3a5.2,5.2 0 1,0 10.4,0a5.2,5.2 0 1,0 -10.4,0M246.4,1210.6a5.2,5.2 0 1,0 10.4,0a5.2,5.2 0 1,0 -10.4,0M262.4,1151.1a5.2,5.2 0 1,0 10.4,0a5.2,5.2 0 1,0 -10.4,0M241.6,1198.4a5.2,5.2 0 1,0 10.4,0a5.2,5.2 0 1,0 -10.4,0M261.0,1166.3a5.2,5.2 0 1,0 10.4,0a5.2,5.2 0 1,0 -10.4,0M282.4,1189.9a5.2,5.2 0 1,0 10.4,0a5.2,5.2 0 1,0 -10.4,0M269.6,1167.8a5.2,5.2 0 1,0 10.4,0a5.2,5.2 0 1,0 -10.4,0M279.0,1182.4a5.2,5.2 0 1,0 10.4,0a5.2,5.2 0 1,0 -10.4,0M282.4,1210.0a5.2,5.2 0 1,0 10.4,0a5.2,5.2 0 1,0 -10.4,0M264.4,1223.8a5.2,5.2 0 1,0 10.4,0a5.2,5.2 0 1,0 -10.4,0M290.6,1199.5a5.2,5.2 0 1,0 10.4,0a5.2,5.2 0 1,0 -10.4,0M286.2,1193.5a5.2,5.2 0 1,0 10.4,0a5.2,5.2 0 1,0 -10.4,0M287.2,1205.9a5.2,5.2 0 1,0 10.4,0a5.2,5.2 0 1,0 -10.4,0M255.4,1216.9a5.2,5.2 0 1,0 10.4,0a5.2,5.2 0 1,0 -10.4,0M239.7,1203.2a5.2,5.2 0 1,0 10.4,0a5.2,5.2 0 1,0 -10.4,0M292.3,1206.6a5.2,5.2 0 1,0 10.4,0a5.2,5.2 0 1,0 -10.4,0M259.9,1221.2a5.2,5.2 0 1,0 10.4,0a5.2,5.2 0 1,0 -10.4,0M259.2,1184.8a5.2,5.2 0 1,0 10.4,0a5.2,5.2 0 1,0 -10.4,0M275.1,1186.8a5.2,5.2 0 1,0 10.4,0a5.2,5.2 0 1,0 -10.4,0M236.2,1207.0a5.2,5.2 0 1,0 10.4,0a5.2,5.2 0 1,0 -10.4,0M236.6,1197.2a5.2,5.2 0 1,0 10.4,0a5.2,5.2 0 1,0 -10.4,0M268.8,1195.2a5.2,5.2 0 1,0 10.4,0a5.2,5.2 0 1,0 -10.4,0M260.3,1227.0a5.2,5.2 0 1,0 10.4,0a5.2,5.2 0 1,0 -10.4,0M242.4,1190.3a5.2,5.2 0 1,0 10.4,0a5.2,5.2 0 1,0 -10.4,0M233.3,1202.7a5.2,5.2 0 1,0 10.4,0a5.2,5.2 0 1,0 -10.4,0M287.5,1211.1a5.2,5.2 0 1,0 10.4,0a5.2,5.2 0 1,0 -10.4,0M297.5,1206.7a5.2,5.2 0 1,0 10.4,0a5.2,5.2 0 1,0 -10.4,0M228.1,1202.9a5.2,5.2 0 1,0 10.4,0a5.2,5.2 0 1,0 -10.4,0M269.4,1222.3a5.2,5.2 0 1,0 10.4,0a5.2,5.2 0 1,0 -10.4,0M291.4,1194.0a5.2,5.2 0 1,0 10.4,0a5.2,5.2 0 1,0 -10.4,0M241.6,1208.5a5.2,5.2 0 1,0 10.4,0a5.2,5.2 0 1,0 -10.4,0M295.4,1197.6a5.2,5.2 0 1,0 10.4,0a5.2,5.2 0 1,0 -10.4,0M256.4,1168.8a5.2,5.2 0 1,0 10.4,0a5.2,5.2 0 1,0 -10.4,0M248.1,1183.4a5.2,5.2 0 1,0 10.4,0a5.2,5.2 0 1,0 -10.4,0M285.6,1185.8a5.2,5.2 0 1,0 10.4,0a5.2,5.2 0 1,0 -10.4,0M231.2,1208.7a5.2,5.2 0 1,0 10.4,0a5.2,5.2 0 1,0 -10.4,0M302.2,1204.5a5.2,5.2 0 1,0 10.4,0a5.2,5.2 0 1,0 -10.4,0M290.4,1187.6a5.2,5.2 0 1,0 10.4,0a5.2,5.2 0 1,0 -10.4,0M231.4,1196.8a5.2,5.2 0 1,0 10.4,0a5.2,5.2 0 1,0 -10.4,0M226.1,1208.2a5.2,5.2 0 1,0 10.4,0a5.2,5.2 0 1,0 -10.4,0M270.4,1175.6a5.2,5.2 0 1,0 10.4,0a5.2,5.2 0 1,0 -10.4,0M237.4,1189.0a5.2,5.2 0 1,0 10.4,0a5.2,5.2 0 1,0 -10.4,0M276.9,1176.8a5.2,5.2 0 1,0 10.4,0a5.2,5.2 0 1,0 -10.4,0M300.2,1195.5a5.2,5.2 0 1,0 10.4,0a5.2,5.2 0 1,0 -10.4,0M304.9,1208.9a5.2,5.2 0 1,0 10.4,0a5.2,5.2 0 1,0 -10.4,0M265.0,1218.7a5.2,5.2 0 1,0 10.4,0a5.2,5.2 0 1,0 -10.4,0M269.4,1154.6a5.2,5.2 0 1,0 10.4,0a5.2,5.2 0 1,0 -10.4,0M252.9,1172.6a5.2,5.2 0 1,0 10.4,0a5.2,5.2 0 1,0 -10.4,0M295.6,1187.8a5.2,5.2 0 1,0 10.4,0a5.2,5.2 0 1,0 -10.4,0M259.4,1161.0a5.2,5.2 0 1,0 10.4,0a5.2,5.2 0 1,0 -10.4,0M221.1,1209.7a5.2,5.2 0 1,0 10.4,0a5.2,5.2 0 1,0 -10.4,0M242.9,1183.2a5.2,5.2 0 1,0 10.4,0a5.2,5.2 0 1,0 -10.4,0M271.8,1159.2a5.2,5.2 0 1,0 10.4,0a5.2,5.2 0 1,0 -10.4,0M308.0,1204.7a5.2,5.2 0 1,0 10.4,0a5.2,5.2 0 1,0 -10.4,0M217.6,1205.8a5.2,5.2 0 1,0 10.4,0a5.2,5.2 0 1,0 -10.4,0M265.6,1147.0a5.2,5.2 0 1,0 10.4,0a5.2,5.2 0 1,0 -10.4,0M226.7,1194.5a5.2,5.2 0 1,0 10.4,0a5.2,5.2 0 1,0 -10.4,0M278.0,1219.2a5.2,5.2 0 1,0 10.4,0a5.2,5.2 0 1,0 -10.4,0M269.5,1230.0a5.2,5.2 0 1,0 10.4,0a5.2,5.2 0 1,0 -10.4,0M242.3,1213.8a5.2,5.2 0 1,0 10.4,0a5.2,5.2 0 1,0 -10.4,0M223.6,1200.4a5.2,5.2 0 1,0 10.4,0a5.2,5.2 0 1,0 -10.4,0M283.7,1180.2a5.2,5.2 0 1,0 10.4,0a5.2,5.2 0 1,0 -10.4,0M235.6,1184.1a5.2,5.2 0 1,0 10.4,0a5.2,5.2 0 1,0 -10.4,0M246.2,1217.9a5.2,5.2 0 1,0 10.4,0a5.2,5.2 0 1,0 -10.4,0M305.4,1196.0a5.2,5.2 0 1,0 10.4,0a5.2,5.2 0 1,0 -10.4,0M251.6,1220.5a5.2,5.2 0 1,0 10.4,0a5.2,5.2 0 1,0 -10.4,0M221.8,1192.7a5.2,5.2 0 1,0 10.4,0a5.2,5.2 0 1,0 -10.4,0M231.3,1187.2a5.2,5.2 0 1,0 10.4,0a5.2,5.2 0 1,0 -10.4,0M281.9,1215.4a5.2,5.2 0 1,0 10.4,0a5.2,5.2 0 1,0 -10.4,0M255.1,1158.1a5.2,5.2 0 1,0 10.4,0a5.2,5.2 0 1,0 -10.4,0M312.5,1202.1a5.2,5.2 0 1,0 10.4,0a5.2,5.2 0 1,0 -10.4,0M300.5,1186.0a5.2,5.2 0 1,0 10.4,0a5.2,5.2 0 1,0 -10.4,0M218.7,1198.5a5.2,5.2 0 1,0 10.4,0a5.2,5.2 0 1,0 -10.4,0M310.8,1209.1a5.2,5.2 0 1,0 10.4,0a5.2,5.2 0 1,0 -10.4,0M212.9,1203.7a5.2,5.2 0 1,0 10.4,0a5.2,5.2 0 1,0 -10.4,0M288.8,1179.3a5.2,5.2 0 1,0 10.4,0a5.2,5.2 0 1,0 -10.4,0M273.5,1171.3a5.2,5.2 0 1,0 10.4,0a5.2,5.2 0 1,0 -10.4,0M262.2,1143.0a5.2,5.2 0 1,0 10.4,0a5.2,5.2 0 1,0 -10.4,0M248.1,1174.7a5.2,5.2 0 1,0 10.4,0a5.2,5.2 0 1,0 -10.4,0M316.6,1205.3a5.2,5.2 0 1,0 10.4,0a5.2,5.2 0 1,0 -10.4,0M310.6,1195.6a5.2,5.2 0 1,0 10.4,0a5.2,5.2 0 1,0 -10.4,0M226.2,1186.3a5.2,5.2 0 1,0 10.4,0a5.2,5.2 0 1,0 -10.4,0M207.7,1204.0a5.2,5.2 0 1,0 10.4,0a5.2,5.2 0 1,0 -10.4,0M273.9,1164.9a5.2,5.2 0 1,0 10.4,0a5.2,5.2 0 1,0 -10.4,0M273.2,1226.4a5.2,5.2 0 1,0 10.4,0a5.2,5.2 0 1,0 -10.4,0M320.4,1201.8a5.2,5.2 0 1,0 10.4,0a5.2,5.2 0 1,0 -10.4,0M305.2,1188.1a5.2,5.2 0 1,0 10.4,0a5.2,5.2 0 1,0 -10.4,0M291.3,1214.6a5.2,5.2 0 1,0 10.4,0a5.2,5.2 0 1,0 -10.4,0M310.3,1189.2a5.2,5.2 0 1,0 10.4,0a5.2,5.2 0 1,0 -10.4,0M324.5,1205.1a5.2,5.2 0 1,0 10.4,0a5.2,5.2 0 1,0 -10.4,0M216.5,1193.8a5.2,5.2 0 1,0 10.4,0a5.2,5.2 0 1,0 -10.4,0M243.7,1177.6a5.2,5.2 0 1,0 10.4,0a5.2,5.2 0 1,0 -10.4,0M237.7,1216.3a5.2,5.2 0 1,0 10.4,0a5.2,5.2 0 1,0 -10.4,0M204.4,1200.0a5.2,5.2 0 1,0 10.4,0a5.2,5.2 0 1,0 -10.4,0M315.7,1194.9a5.2,5.2 0 1,0 10.4,0a5.2,5.2 0 1,0 -10.4,0M211.4,1193.2a5.2,5.2 0 1,0 10.4,0a5.2,5.2 0 1,0 -10.4,0M318.7,1190.7a5.2,5.2 0 1,0 10.4,0a5.2,5.2 0 1,0 -10.4,0M206.5,1191.5a5.2,5.2 0 1,0 10.4,0a5.2,5.2 0 1,0 -10.4,0M204.5,1208.1a5.2,5.2 0 1,0 10.4,0a5.2,5.2 0 1,0 -10.4,0M323.7,1192.0a5.2,5.2 0 1,0 10.4,0a5.2,5.2 0 1,0 -10.4,0M299.7,1211.5a5.2,5.2 0 1,0 10.4,0a5.2,5.2 0 1,0 -10.4,0M213.9,1209.5a5.2,5.2 0 1,0 10.4,0a5.2,5.2 0 1,0 -10.4,0M201.4,1192.9a5.2,5.2 0 1,0 10.4,0a5.2,5.2 0 1,0 -10.4,0M255.6,1225.0a5.2,5.2 0 1,0 10.4,0a5.2,5.2 0 1,0 -10.4,0M317.8,1210.4a5.2,5.2 0 1,0 10.4,0a5.2,5.2 0 1,0 -10.4,0M327.6,1200.9a5.2,5.2 0 1,0 10.4,0a5.2,5.2 0 1,0 -10.4,0M221.1,1185.4a5.2,5.2 0 1,0 10.4,0a5.2,5.2 0 1,0 -10.4,0M210.2,1199.3a5.2,5.2 0 1,0 10.4,0a5.2,5.2 0 1,0 -10.4,0M264.4,1105.6a5.2,5.2 0 1,0 10.4,0a5.2,5.2 0 1,0 -10.4,0M264.4,1128.0a5.2,5.2 0 1,0 10.4,0a5.2,5.2 0 1,0 -10.4,0M264.4,1248.0a5.2,5.2 0 1,0 10.4,0a5.2,5.2 0 1,0 -10.4,0" fill="#76069a"/>
<path d="M451.8,1192.6a5.2,5.2 0 1,0 10.4,0a5.2,5.2 0 1,0 -10.4,0M451.8,1133.2a5.2,5.2 0 1,0 10.4,0a5.2,5.2 0 1,0 -10.4,0M451.8,1168.0a5.2,5.2 0 1,0 10.4,0a5.2,5.2 0 1,0 -10.4,0M451.8,1241.8a5.2,5.2 0 1,0 10.4,0a5.2,5.2 0 1,0 -10.4,0M447.6,1136.3a5.2,5.2 0 1,0 10.4,0a5.2,5.2 0 1,0 -10.4,0M451.8,1121.5a5.2,5.2 0 1,0 10.4,0a5.2,5.2 0 1,0 -10.4,0M451.8,1210.4a5.2,5.2 0 1,0 10.4,0a5.2,5.2 0 1,0 -10.4,0M451.8,1197.9a5.2,5.2 0 1,0 10.4,0a5.2,5.2 0 1,0 -10.4,0M447.7,1189.5a5.2,5.2 0 1,0 10.4,0a5.2,5.2 0 1,0 -10.4,0M446.9,1119.7a5.2,5.2 0 1,0 10.4,0a5.2,5.2 0 1,0 -10.4,0M451.8,1175.4a5.2,5.2 0 1,0 10.4,0a5.2,5.2 0 1,0 -10.4,0M451.8,1111.0a5.2,5.2 0 1,0 10.4,0a5.2,5.2 0 1,0 -10.4,0M447.6,1201.0a5.2,5.2 0 1,0 10.4,0a5.2,5.2 0 1,0 -10.4,0M446.8,1174.0a5.2,5.2 0 1,0 10.4,0a5.2,5.2 0 1,0 -10.4,0M447.0,1208.4a5.2,5.2 0 1,0 10.4,0a5.2,5.2 0 1,0 -10.4,0M456.0,1171.1a5.2,5.2 0 1,0 10.4,0a5.2,5.2 0 1,0 -10.4,0M451.8,1183.3a5.2,5.2 0 1,0 10.4,0a5.2,5.2 0 1,0 -10.4,0M457.0,1209.7a5.2,5.2 0 1,0 10.4,0a5.2,5.2 0 1,0 -10.4,0M456.8,1191.2a5.2,5.2 0 1,0 10.4,0a5.2,5.2 0 1,0 -10.4,0M451.9,1139.3a5.2,5.2 0 1,0 10.4,0a5.2,5.2 0 1,0 -10.4,0M451.8,1220.2a5.2,5.2 0 1,0 10.4,0a5.2,5.2 0 1,0 -10.4,0M456.9,1176.2a5.2,5.2 0 1,0 10.4,0a5.2,5.2 0 1,0 -10.4,0M451.8,1150.1a5.2,5.2 0 1,0 10.4,0a5.2,5.2 0 1,0 -10.4,0M461.5,1207.1a5.2,5.2 0 1,0 10.4,0a5.2,5.2 0 1,0 -10.4,0M456.9,1140.7a5.2,5.2 0 1,0 10.4,0a5.2,5.2 0 1,0 -10.4,0M457.7,1196.3a5.2,5.2 0 1,0 10.4,0a5.2,5.2 0 1,0 -10.4,0M461.9,1174.7a5.2,5.2 0 1,0 10.4,0a5.2,5.2 0 1,0 -10.4,0M451.8,1127.1a5.2,5.2 0 1,0 10.4,0a5.2,5.2 0 1,0 -10.4,0M461.1,1200.2a5.2,5.2 0 1,0 10.4,0a5.2,5.2 0 1,0 -10.4,0M460.4,1187.4a5.2,5.2 0 1,0 10.4,0a5.2,5.2 0 1,0 -10.4,0M446.8,1181.9a5.2,5.2 0 1,0 10.4,0a5.2,5.2 0 1,0 -10.4,0M441.8,1208.8a5.2,5.2 0 1,0 10.4,0a5.2,5.2 0 1,0 -10.4,0M447.0,1152.1a5.2,5.2 0 1,0 10.4,0a5.2,5.2 0 1,0 -10.4,0M451.8,1156.4a5.2,5.2 0 1,0 10.4,0a5.2,5.2 0 1,0 -10.4,0M456.9,1155.4a5.2,5.2 0 1,0 10.4,0a5.2,5.2 0 1,0 -10.4,0M442.7,1190.8a5.2,5.2 0 1,0 10.4,0a5.2,5.2 0 1,0 -10.4,0M451.8,1091.7a5.2,5.2 0 1,0 10.4,0a5.2,5.2 0 1,0 -10.4,0M462.4,1194.0a5.2,5.2 0 1,0 10.4,0a5.2,5.2 0 1,0 -10.4,0M442.1,1184.1a5.2,5.2 0 1,0 10.4,0a5.2,5.2 0 1,0 -10.4,0M466.6,1207.7a5.2,5.2 0 1,0 10.4,0a5.2,5.2 0 1,0 -10.4,0M460.3,1180.2a5.2,5.2 0 1,0 10.4,0a5.2,5.2 0 1,0 -10.4,0M447.2,1195.4a5.2,5.2 0 1,0 10.4,0a5.2,5.2 0 1,0 -10.4,0M437.4,1211.5a5.2,5.2 0 1,0 10.4,0a5.2,5.2 0 1,0 -10.4,0M455.3,1117.7a5.2,5.2 0 1,0 10.4,0a5.2,5.2 0 1,0 -10.4,0M451.8,1103.8a5.2,5.2 0 1,0 10.4,0a5.2,5.2 0 1,0 -10.4,0M449.2,1096.2a5.2,5.2 0 1,0 10.4,0a5.2,5.2 0 1,0 -10.4,0M453.4,1205.4a5.2,5.2 0 1,0 10.4,0a5.2,5.2 0 1,0 -10.4,0M447.7,1213.6a5.2,5.2 0 1,0 10.4,0a5.2,5.2 0 1,0 -10.4,0M442.6,1202.3a5.2,5.2 0 1,0 10.4,0a5.2,5.2 0 1,0 -10.4,0M437.5,1191.8a5.2,5.2 0 1,0 10.4,0a5.2,5.2 0 1,0 -10.4,0M459.6,1214.1a5.2,5.2 0 1,0 10.4,0a5.2,5.2 0 1,0 -10.4,0M438.8,1198.8a5.2,5.2 0 1,0 10.4,0a5.2,5.2 0 1,0 -10.4,0M456.6,1148.3a5.2,5.2 0 1,0 10.4,0a5.2,5.2 0 1,0 -10.4,0M467.3,1192.4a5.2,5.2 0 1,0 10.4,0a5.2,5.2 0 1,0 -10.4,0M432.5,1193.0a5.2,5.2 0 1,0 10.4,0a5.2,5.2 0 1,0 -10.4,0M466.0,1198.5a5.2,5.2 0 1,0 10.4,0a5.2,5.2 0 1,0 -10.4,0M443.9,1217.1a5.2,5.2 0 1,0 10.4,0a5.2,5.2 0 1,0 -10.4,0M471.0,1196.9a5.2,5.2 0 1,0 10.4,0a5.2,5.2 0 1,0 -10.4,0M456.9,1132.4a5.2,5.2 0 1,0 10.4,0a5.2,5.2 0 1,0 -10.4,0M435.6,1202.9a5.2,5.2 0 1,0 10.4,0a5.2,5.2 0 1,0 -10.4,0M465.4,1186.1a5.2,5.2 0 1,0 10.4,0a5.2,5.2 0 1,0 -10.4,0M463.5,1217.6a5.2,5.2 0 1,0 10.4,0a5.2,5.2 0 1,0 -10.4,0M470.2,1204.0a5.2,5.2 0 1,0 10.4,0a5.2,5.2 0 1,0 -10.4,0M430.5,1203.5a5.2,5.2 0 1,0 10.4,0a5.2,5.2 0 1,0 -10.4,0M443.6,1115.7a5.2,5.2 0 1,0 10.4,0a5.2,5.2 0 1,0 -10.4,0M430.8,1198.0a5.2,5.2 0 1,0 10.4,0a5.2,5.2 0 1,0 -10.4,0M448.2,1143.0a5.2,5.2 0 1,0 10.4,0a5.2,5.2 0 1,0 -10.4,0M470.4,1188.2a5.2,5.2 0 1,0 10.4,0a5.2,5.2 0 1,0 -10.4,0M474.8,1206.4a5.2,5.2 0 1,0 10.4,0a5.2,5.2 0 1,0 -10.4,0M461.5,1152.9a5.2,5.2 0 1,0 10.4,0a5.2,5.2 0 1,0 -10.4,0M442.6,1135.1a5.2,5.2 0 1,0 10.4,0a5.2,5.2 0 1,0 -10.4,0M428.5,1189.8a5.2,5.2 0 1,0 10.4,0a5.2,5.2 0 1,0 -10.4,0M450.2,1161.3a5.2,5.2 0 1,0 10.4,0a5.2,5.2 0 1,0 -10.4,0M447.2,1089.3a5.2,5.2 0 1,0 10.4,0a5.2,5.2 0 1,0 -10.4,0M443.2,1141.5a5.2,5.2 0 1,0 10.4,0a5.2,5.2 0 1,0 -10.4,0M435.8,1186.9a5.2,5.2 0 1,0 10.4,0a5.2,5.2 0 1,0 -10.4,0M451.8,1232.7a5.2,5.2 0 1,0 10.4,0a5.2,5.2 0 1,0 -10.4,0M426.4,1206.8a5.2,5.2 0 1,0 10.4,0a5.2,5.2 0 1,0 -10.4,0M446.8,1166.7a5.2,5.2 0 1,0 10.4,0a5.2,5.2 0 1,0 -10.4,0M461.5,1138.3a5.2,5.2 0 1,0 10.4,0a5.2,5.2 0 1,0 -10.4,0M441.7,1172.8a5.2,5.2 0 1,0 10.4,0a5.2,5.2 0 1,0 -10.4,0M465.2,1170.6a5.2,5.2 0 1,0 10.4,0a5.2,5.2 0 1,0 -10.4,0M459.7,1120.6a5.2,5.2 0 1,0 10.4,0a5.2,5.2 0 1,0 -10.4,0M437.9,1137.4a5.2,5.2 0 1,0 10.4,0a5.2,5.2 0 1,0 -10.4,0M447.7,1223.5a5.2,5.2 0 1,0 10.4,0a5.2,5.2 0 1,0 -10.4,0M465.8,1213.0a5.2,5.2 0 1,0 10.4,0a5.2,5.2 0 1,0 -10.4,0M447.1,1235.1a5.2,5.2 0 1,0 10.4,0a5.2,5.2 0 1,0 -10.4,0M454.0,1098.3a5.2,5.2 0 1,0 10.4,0a5.2,5.2 0 1,0 -10.4,0M475.6,1199.2a5.2,5.2 0 1,0 10.4,0a5.2,5.2 0 1,0 -10.4,0M471.0,1213.5a5.2,5.2 0 1,0 10.4,0a5.2,5.2 0 1,0 -10.4,0M464.9,1134.4a5.2,5.2 0 1,0 10.4,0a5.2,5.2 0 1,0 -10.4,0M446.8,1125.8a5.2,5.2 0 1,0 10.4,0a5.2,5.2 0 1,0 -10.4,0M469.2,1182.6a5.2,5.2 0 1,0 10.4,0a5.2,5.2 0 1,0 -10.4,0M456.9,1219.5a5.2,5.2 0 1,0 10.4,0a5.2,5.2 0 1,0 -10.4,0M475.6,1188.5a5.2,5.2 0 1,0 10.4,0a5.2,5.2 0 1,0 -10.4,0M456.0,1164.9a5.2,5.2 0 1,0 10.4,0a5.2,5.2 0 1,0 -10.4,0M442.1,1153.8a5.2,5.2 0 1,0 10.4,0a5.2,5.2 0 1,0 -10.4,0M461.2,1165.4a5.2,5.2 0 1,0 10.4,0a5.2,5.2 0 1,0 -10.4,0M424.8,1201.9a5.2,5.2 0 1,0 10.4,0a5.2,5.2 0 1,0 -10.4,0M435.1,1216.2a5.2,5.2 0 1,0 10.4,0a5.2,5.2 0 1,0 -10.4,0M429.9,1216.0a5.2,5.2 0 1,0 10.4,0a5.2,5.2 0 1,0 -10.4,0M438.3,1168.9a5.2,5.2 0 1,0 10.4,0a5.2,5.2 0 1,0 -10.4,0M441.9,1123.9a5.2,5.2 0 1,0 10.4,0a5.2,5.2 0 1,0 -10.4,0M423.3,1188.8a5.2,5.2 0 1,0 10.4,0a5.2,5.2 0 1,0 -10.4,0M457.0,1126.8a5.2,5.2 0 1,0 10.4,0a5.2,5.2 0 1,0 -10.4,0M452.7,1225.4a5.2,5.2 0 1,0 10.4,0a5.2,5.2 0 1,0 -10.4,0M464.8,1156.8a5.2,5.2 0 1,0 10.4,0a5.2,5.2 0 1,0 -10.4,0M433.6,1208.0a5.2,5.2 0 1,0 10.4,0a5.2,5.2 0 1,0 -10.4,0M456.9,1231.6a5.2,5.2 0 1,0 10.4,0a5.2,5.2 0 1,0 -10.4,0M439.5,1179.6a5.2,5.2 0 1,0 10.4,0a5.2,5.2 0 1,0 -10.4,0M462.7,1116.3a5.2,5.2 0 1,0 10.4,0a5.2,5.2 0 1,0 -10.4,0M479.8,1204.9a5.2,5.2 0 1,0 10.4,0a5.2,5.2 0 1,0 -10.4,0M434.0,1171.8a5.2,5.2 0 1,0 10.4,0a5.2,5.2 0 1,0 -10.4,0M454.0,1215.1a5.2,5.2 0 1,0 10.4,0a5.2,5.2 0 1,0 -10.4,0M420.0,1203.7a5.2,5.2 0 1,0 10.4,0a5.2,5.2 0 1,0 -10.4,0M437.8,1151.0a5.2,5.2 0 1,0 10.4,0a5.2,5.2 0 1,0 -10.4,0M479.2,1192.2a5.2,5.2 0 1,0 10.4,0a5.2,5.2 0 1,0 -10.4,0M457.3,1094.3a5.2,5.2 0 1,0 10.4,0a5.2,5.2 0 1,0 -10.4,0M434.3,1180.3a5.2,5.2 0 1,0 10.4,0a5.2,5.2 0 1,0 -10.4,0M481.0,1199.9a5.2,5.2 0 1,0 10.4,0a5.2,5.2 0 1,0 -10.4,0M445.5,1228.2a5.2,5.2 0 1,0 10.4,0a5.2,5.2 0 1,0 -10.4,0M484.1,1190.4a5.2,5.2 0 1,0 10.4,0a5.2,5.2 0 1,0 -10.4,0M434.3,1133.6a5.2,5.2 0 1,0 10.4,0a5.2,5.2 0 1,0 -10.4,0M466.0,1177.9a5.2,5.2 0 1,0 10.4,0a5.2,5.2 0 1,0 -10.4,0M460.7,1145.0a5.2,5.2 0 1,0 10.4,0a5.2,5.2 0 1,0 -10.4,0M460.0,1227.5a5.2,5.2 0 1,0 10.4,0a5.2,5.2 0 1,0 -10.4,0M440.5,1226.6a5.2,5.2 0 1,0 10.4,0a5.2,5.2 0 1,0 -10.4,0M426.2,1195.5a5.2,5.2 0 1,0 10.4,0a5.2,5.2 0 1,0 -10.4,0M456.1,1238.9a5.2,5.2 0 1,0 10.4,0a5.2,5.2 0 1,0 -10.4,0M485.4,1202.7a5.2,5.2 0 1,0 10.4,0a5.2,5.2 0 1,0 -10.4,0M469.4,1154.4a5.2,5.2 0 1,0 10.4,0a5.2,5.2 0 1,0 -10.4,0M415.4,1206.2a5.2,5.2 0 1,0 10.4,0a5.2,5.2 0 1,0 -10.4,0M462.2,1222.7a5.2,5.2 0 1,0 10.4,0a5.2,5.2 0 1,0 -10.4,0M418.3,1190.0a5.2,5.2 0 1,0 10.4,0a5.2,5.2 0 1,0 -10.4,0M470.2,1169.5a5.2,5.2 0 1,0 10.4,0a5.2,5.2 0 1,0 -10.4,0M421.2,1194.4a5.2,5.2 0 1,0 10.4,0a5.2,5.2 0 1,0 -10.4,0M447.1,1131.0a5.2,5.2 0 1,0 10.4,0a5.2,5.2 0 1,0 -10.4,0M445.1,1160.2a5.2,5.2 0 1,0 10.4,0a5.2,5.2 0 1,0 -10.4,0M438.6,1114.2a5.2,5.2 0 1,0 10.4,0a5.2,5.2 0 1,0 -10.4,0M464.6,1229.9a5.2,5.2 0 1,0 10.4,0a5.2,5.2 0 1,0 -10.4,0M441.5,1163.9a5.2,5.2 0 1,0 10.4,0a5.2,5.2 0 1,0 -10.4,0M487.5,1207.4a5.2,5.2 0 1,0 10.4,0a5.2,5.2 0 1,0 -10.4,0M461.9,1128.5a5.2,5.2 0 1,0 10.4,0a5.2,5.2 0 1,0 -10.4,0M431.5,1167.3a5.2,5.2 0 1,0 10.4,0a5.2,5.2 0 1,0 -10.4,0M439.4,1158.3a5.2,5.2 0 1,0 10.4,0a5.2,5.2 0 1,0 -10.4,0M465.5,1162.6a5.2,5.2 0 1,0 10.4,0a5.2,5.2 0 1,0 -10.4,0M476.0,1212.2a5.2,5.2 0 1,0 10.4,0a5.2,5.2 0 1,0 -10.4,0M488.7,1187.9a5.2,5.2 0 1,0 10.4,0a5.2,5.2 0 1,0 -10.4,0M485.1,1196.7a5.2,5.2 0 1,0 10.4,0a5.2,5.2 0 1,0 -10.4,0M464.9,1149.0a5.2,5.2 0 1,0 10.4,0a5.2,5.2 0 1,0 -10.4,0M425.9,1212.7a5.2,5.2 0 1,0 10.4,0a5.2,5.2 0 1,0 -10.4,0M464.2,1123.2a5.2,5.2 0 1,0 10.4,0a5.2,5.2 0 1,0 -10.4,0M457.1,1112.8a5.2,5.2 0 1,0 10.4,0a5.2,5.2 0 1,0 -10.4,0M481.2,1209.9a5.2,5.2 0 1,0 10.4,0a5.2,5.2 0 1,0 -10.4,0M480.2,1215.3a5.2,5.2 0 1,0 10.4,0a5.2,5.2 0 1,0 -10.4,0M432.6,1151.4a5.2,5.2 0 1,0 10.4,0a5.2,5.2 0 1,0 -10.4,0M473.7,1173.4a5.2,5.2 0 1,0 10.4,0a5.2,5.2 0 1,0 -10.4,0M415.7,1200.8a5.2,5.2 0 1,0 10.4,0a5.2,5.2 0 1,0 -10.4,0M442.2,1129.4a5.2,5.2 0 1,0 10.4,0a5.2,5.2 0 1,0 -10.4,0M489.9,1198.9a5.2,5.2 0 1,0 10.4,0a5.2,5.2 0 1,0 -10.4,0M411.6,1197.6a5.2,5.2 0 1,0 10.4,0a5.2,5.2 0 1,0 -10.4,0M479.7,1185.3a5.2,5.2 0 1,0 10.4,0a5.2,5.2 0 1,0 -10.4,0M415.2,1185.8a5.2,5.2 0 1,0 10.4,0a5.2,5.2 0 1,0 -10.4,0M437.8,1222.2a5.2,5.2 0 1,0 10.4,0a5.2,5.2 0 1,0 -10.4,0M411.0,1203.1a5.2,5.2 0 1,0 10.4,0a5.2,5.2 0 1,0 -10.4,0M491.8,1204.5a5.2,5.2 0 1,0 10.4,0a5.2,5.2 0 1,0 -10.4,0M434.3,1157.3a5.2,5.2 0 1,0 10.4,0a5.2,5.2 0 1,0 -10.4,0M474.1,1180.8a5.2,5.2 0 1,0 10.4,0a5.2,5.2 0 1,0 -10.4,0M430.6,1176.8a5.2,5.2 0 1,0 10.4,0a5.2,5.2 0 1,0 -10.4,0M445.5,1099.9a5.2,5.2 0 1,0 10.4,0a5.2,5.2 0 1,0 -10.4,0M421.0,1211.2a5.2,5.2 0 1,0 10.4,0a5.2,5.2 0 1,0 -10.4,0M494.9,1200.4a5.2,5.2 0 1,0 10.4,0a5.2,5.2 0 1,0 -10.4,0M405.9,1204.3a5.2,5.2 0 1,0 10.4,0a5.2,5.2 0 1,0 -10.4,0M411.1,1189.0a5.2,5.2 0 1,0 10.4,0a5.2,5.2 0 1,0 -10.4,0M436.3,1163.6a5.2,5.2 0 1,0 10.4,0a5.2,5.2 0 1,0 -10.4,0M489.1,1193.3a5.2,5.2 0 1,0 10.4,0a5.2,5.2 0 1,0 -10.4,0M469.4,1131.7a5.2,5.2 0 1,0 10.4,0a5.2,5.2 0 1,0 -10.4,0M415.8,1211.9a5.2,5.2 0 1,0 10.4,0a5.2,5.2 0 1,0 -10.4,0M428.8,1181.7a5.2,5.2 0 1,0 10.4,0a5.2,5.2 0 1,0 -10.4,0M500.1,1201.2a5.2,5.2 0 1,0 10.4,0a5.2,5.2 0 1,0 -10.4,0M411.2,1209.5a5.2,5.2 0 1,0 10.4,0a5.2,5.2 0 1,0 -10.4,0M494.3,1193.6a5.2,5.2 0 1,0 10.4,0a5.2,5.2 0 1,0 -10.4,0M493.6,1186.3a5.2,5.2 0 1,0 10.4,0a5.2,5.2 0 1,0 -10.4,0M440.3,1145.8a5.2,5.2 0 1,0 10.4,0a5.2,5.2 0 1,0 -10.4,0M469.4,1137.0a5.2,5.2 0 1,0 10.4,0a5.2,5.2 0 1,0 -10.4,0M406.6,1191.5a5.2,5.2 0 1,0 10.4,0a5.2,5.2 0 1,0 -10.4,0M437.2,1121.7a5.2,5.2 0 1,0 10.4,0a5.2,5.2 0 1,0 -10.4,0M423.8,1183.0a5.2,5.2 0 1,0 10.4,0a5.2,5.2 0 1,0 -10.4,0M477.7,1177.1a5.2,5.2 0 1,0 10.4,0a5.2,5.2 0 1,0 -10.4,0M469.0,1125.0a5.2,5.2 0 1,0 10.4,0a5.2,5.2 0 1,0 -10.4,0M433.3,1139.8a5.2,5.2 0 1,0 10.4,0a5.2,5.2 0 1,0 -10.4,0M465.6,1143.4a5.2,5.2 0 1,0 10.4,0a5.2,5.2 0 1,0 -10.4,0M458.0,1101.5a5.2,5.2 0 1,0 10.4,0a5.2,5.2 0 1,0 -10.4,0M470.0,1147.9a5.2,5.2 0 1,0 10.4,0a5.2,5.2 0 1,0 -10.4,0M406.4,1197.1a5.2,5.2 0 1,0 10.4,0a5.2,5.2 0 1,0 -10.4,0M400.8,1205.3a5.2,5.2 0 1,0 10.4,0a5.2,5.2 0 1,0 -10.4,0M416.0,1194.7a5.2,5.2 0 1,0 10.4,0a5.2,5.2 0 1,0 -10.4,0M474.1,1166.1a5.2,5.2 0 1,0 10.4,0a5.2,5.2 0 1,0 -10.4,0M446.8,1105.4a5.2,5.2 0 1,0 10.4,0a5.2,5.2 0 1,0 -10.4,0M465.9,1112.2a5.2,5.2 0 1,0 10.4,0a5.2,5.2 0 1,0 -10.4,0M482.7,1178.7a5.2,5.2 0 1,0 10.4,0a5.2,5.2 0 1,0 -10.4,0M467.2,1221.3a5.2,5.2 0 1,0 10.4,0a5.2,5.2 0 1,0 -10.4,0M471.0,1159.3a5.2,5.2 0 1,0 10.4,0a5.2,5.2 0 1,0 -10.4,0M408.4,1184.5a5.2,5.2 0 1,0 10.4,0a5.2,5.2 0 1,0 -10.4,0M505.2,1202.2a5.2,5.2 0 1,0 10.4,0a5.2,5.2 0 1,0 -10.4,0M499.3,1195.0a5.2,5.2 0 1,0 10.4,0a5.2,5.2 0 1,0 -10.4,0M484.7,1183.8a5.2,5.2 0 1,0 10.4,0a5.2,5.2 0 1,0 -10.4,0M491.5,1210.7a5.2,5.2 0 1,0 10.4,0a5.2,5.2 0 1,0 -10.4,0M443.1,1109.0a5.2,5.2 0 1,0 10.4,0a5.2,5.2 0 1,0 -10.4,0M498.6,1184.7a5.2,5.2 0 1,0 10.4,0a5.2,5.2 0 1,0 -10.4,0M467.6,1118.1a5.2,5.2 0 1,0 10.4,0a5.2,5.2 0 1,0 -10.4,0M435.2,1146.5a5.2,5.2 0 1,0 10.4,0a5.2,5.2 0 1,0 -10.4,0M459.1,1160.1a5.2,5.2 0 1,0 10.4,0a5.2,5.2 0 1,0 -10.4,0M426.9,1169.7a5.2,5.2 0 1,0 10.4,0a5.2,5.2 0 1,0 -10.4,0M431.1,1129.5a5.2,5.2 0 1,0 10.4,0a5.2,5.2 0 1,0 -10.4,0M401.8,1199.5a5.2,5.2 0 1,0 10.4,0a5.2,5.2 0 1,0 -10.4,0M496.3,1208.9a5.2,5.2 0 1,0 10.4,0a5.2,5.2 0 1,0 -10.4,0M471.8,1218.9a5.2,5.2 0 1,0 10.4,0a5.2,5.2 0 1,0 -10.4,0M425.1,1217.9a5.2,5.2 0 1,0 10.4,0a5.2,5.2 0 1,0 -10.4,0M430.5,1162.2a5.2,5.2 0 1,0 10.4,0a5.2,5.2 0 1,0 -10.4,0M395.7,1205.9a5.2,5.2 0 1,0 10.4,0a5.2,5.2 0 1,0 -10.4,0M510.4,1201.6a5.2,5.2 0 1,0 10.4,0a5.2,5.2 0 1,0 -10.4,0M458.5,1107.8a5.2,5.2 0 1,0 10.4,0a5.2,5.2 0 1,0 -10.4,0M403.8,1186.9a5.2,5.2 0 1,0 10.4,0a5.2,5.2 0 1,0 -10.4,0M485.4,1214.7a5.2,5.2 0 1,0 10.4,0a5.2,5.2 0 1,0 -10.4,0M406.2,1211.0a5.2,5.2 0 1,0 10.4,0a5.2,5.2 0 1,0 -10.4,0M463.7,1107.1a5.2,5.2 0 1,0 10.4,0a5.2,5.2 0 1,0 -10.4,0M504.4,1196.1a5.2,5.2 0 1,0 10.4,0a5.2,5.2 0 1,0 -10.4,0M420.9,1178.6a5.2,5.2 0 1,0 10.4,0a5.2,5.2 0 1,0 -10.4,0M433.0,1224.1a5.2,5.2 0 1,0 10.4,0a5.2,5.2 0 1,0 -10.4,0M451.8,1038.4a5.2,5.2 0 1,0 10.4,0a5.2,5.2 0 1,0 -10.4,0M451.8,1046.8a5.2,5.2 0 1,0 10.4,0a5.2,5.2 0 1,0 -10.4,0" fill="#ff6400"/>
<line x1="238.50" y1="1157.25" x2="300.60" y2="1157.25" stroke="#76069a" stroke-width="3" stroke-linecap="butt"/>
<line x1="426.00" y1="1102.60" x2="488.60" y2="1102.60" stroke="#ff6400" stroke-width="3" stroke-linecap="butt"/>
<line x1="734.60" y1="990.15" x2="734.60" y2="1290.60" stroke="#000" stroke-width="3" stroke-linecap="butt"/>
<line x1="721.00" y1="991.40" x2="734.60" y2="991.40" stroke="#000" stroke-width="3" stroke-linecap="butt"/>
<line x1="721.00" y1="1066.20" x2="734.60" y2="1066.20" stroke="#000" stroke-width="3" stroke-linecap="butt"/>
<line x1="721.00" y1="1141.00" x2="734.60" y2="1141.00" stroke="#000" stroke-width="3" stroke-linecap="butt"/>
<line x1="721.00" y1="1215.80" x2="734.60" y2="1215.80" stroke="#000" stroke-width="3" stroke-linecap="butt"/>
<line x1="721.00" y1="1290.60" x2="734.60" y2="1290.60" stroke="#000" stroke-width="3" stroke-linecap="butt"/>
<line x1="721.00" y1="1290.60" x2="1185.00" y2="1290.60" stroke="#000" stroke-width="3" stroke-linecap="butt"/>
<line x1="862.50" y1="1290.60" x2="862.50" y2="1303.00" stroke="#000" stroke-width="3" stroke-linecap="butt"/>
<line x1="1055.40" y1="1290.60" x2="1055.40" y2="1303.00" stroke="#000" stroke-width="3" stroke-linecap="butt"/>
<line x1="861.00" y1="1019.50" x2="1055.40" y2="1019.50" stroke="#000" stroke-width="4" stroke-linecap="butt"/>
<path d="M959.25,1006.80l0.00,-6.80M959.25,1006.80l6.47,-2.10M959.25,1006.80l4.00,5.50M959.25,1006.80l-4.00,5.50M959.25,1006.80l-6.47,-2.10" stroke="#000" stroke-width="3.2" stroke-linecap="butt" fill="none"/>
<line x1="798.80" y1="1130.90" x2="926.80" y2="1130.90" stroke="#111" stroke-width="3" stroke-linecap="butt"/>
<line x1="991.40" y1="1121.10" x2="1119.80" y2="1121.10" stroke="#111" stroke-width="3" stroke-linecap="butt"/>
<path d="M857.8,1142.9a5.0,5.0 0 1,0 10.0,0a5.0,5.0 0 1,0 -10.0,0M852.8,1143.5a5.0,5.0 0 1,0 10.0,0a5.0,5.0 0 1,0 -10.0,0M857.8,1178.4a5.0,5.0 0 1,0 10.0,0a5.0,5.0 0 1,0 -10.0,0M862.5,1144.7a5.0,5.0 0 1,0 10.0,0a5.0,5.0 0 1,0 -10.0,0M848.4,1145.8a5.0,5.0 0 1,0 10.0,0a5.0,5.0 0 1,0 -10.0,0M857.8,1116.7a5.0,5.0 0 1,0 10.0,0a5.0,5.0 0 1,0 -10.0,0M857.8,1124.9a5.0,5.0 0 1,0 10.0,0a5.0,5.0 0 1,0 -10.0,0M857.8,1152.0a5.0,5.0 0 1,0 10.0,0a5.0,5.0 0 1,0 -10.0,0M857.8,1132.4a5.0,5.0 0 1,0 10.0,0a5.0,5.0 0 1,0 -10.0,0M857.8,1168.4a5.0,5.0 0 1,0 10.0,0a5.0,5.0 0 1,0 -10.0,0M854.3,1136.0a5.0,5.0 0 1,0 10.0,0a5.0,5.0 0 1,0 -10.0,0M857.8,1162.4a5.0,5.0 0 1,0 10.0,0a5.0,5.0 0 1,0 -10.0,0M853.1,1123.2a5.0,5.0 0 1,0 10.0,0a5.0,5.0 0 1,0 -10.0,0M857.8,1076.3a5.0,5.0 0 1,0 10.0,0a5.0,5.0 0 1,0 -10.0,0M857.8,1066.3a5.0,5.0 0 1,0 10.0,0a5.0,5.0 0 1,0 -10.0,0M853.0,1161.2a5.0,5.0 0 1,0 10.0,0a5.0,5.0 0 1,0 -10.0,0M853.5,1170.9a5.0,5.0 0 1,0 10.0,0a5.0,5.0 0 1,0 -10.0,0M854.8,1072.3a5.0,5.0 0 1,0 10.0,0a5.0,5.0 0 1,0 -10.0,0M857.8,1109.2a5.0,5.0 0 1,0 10.0,0a5.0,5.0 0 1,0 -10.0,0M854.7,1105.3a5.0,5.0 0 1,0 10.0,0a5.0,5.0 0 1,0 -10.0,0M859.1,1137.5a5.0,5.0 0 1,0 10.0,0a5.0,5.0 0 1,0 -10.0,0M857.8,1086.1a5.0,5.0 0 1,0 10.0,0a5.0,5.0 0 1,0 -10.0,0M853.7,1181.3a5.0,5.0 0 1,0 10.0,0a5.0,5.0 0 1,0 -10.0,0M867.4,1145.5a5.0,5.0 0 1,0 10.0,0a5.0,5.0 0 1,0 -10.0,0M853.6,1154.6a5.0,5.0 0 1,0 10.0,0a5.0,5.0 0 1,0 -10.0,0M852.9,1085.1a5.0,5.0 0 1,0 10.0,0a5.0,5.0 0 1,0 -10.0,0M846.0,1141.4a5.0,5.0 0 1,0 10.0,0a5.0,5.0 0 1,0 -10.0,0M862.3,1149.8a5.0,5.0 0 1,0 10.0,0a5.0,5.0 0 1,0 -10.0,0M861.5,1159.1a5.0,5.0 0 1,0 10.0,0a5.0,5.0 0 1,0 -10.0,0M871.1,1142.1a5.0,5.0 0 1,0 10.0,0a5.0,5.0 0 1,0 -10.0,0M865.1,1162.6a5.0,5.0 0 1,0 10.0,0a5.0,5.0 0 1,0 -10.0,0M864.3,1154.4a5.0,5.0 0 1,0 10.0,0a5.0,5.0 0 1,0 -10.0,0M862.8,1132.7a5.0,5.0 0 1,0 10.0,0a5.0,5.0 0 1,0 -10.0,0M849.0,1158.1a5.0,5.0 0 1,0 10.0,0a5.0,5.0 0 1,0 -10.0,0M843.5,1147.0a5.0,5.0 0 1,0 10.0,0a5.0,5.0 0 1,0 -10.0,0M850.1,1151.0a5.0,5.0 0 1,0 10.0,0a5.0,5.0 0 1,0 -10.0,0M862.6,1087.6a5.0,5.0 0 1,0 10.0,0a5.0,5.0 0 1,0 -10.0,0M857.8,1184.7a5.0,5.0 0 1,0 10.0,0a5.0,5.0 0 1,0 -10.0,0M857.8,1192.1a5.0,5.0 0 1,0 10.0,0a5.0,5.0 0 1,0 -10.0,0M852.9,1117.9a5.0,5.0 0 1,0 10.0,0a5.0,5.0 0 1,0 -10.0,0M852.9,1191.0a5.0,5.0 0 1,0 10.0,0a5.0,5.0 0 1,0 -10.0,0M857.8,1098.1a5.0,5.0 0 1,0 10.0,0a5.0,5.0 0 1,0 -10.0,0M862.8,1124.7a5.0,5.0 0 1,0 10.0,0a5.0,5.0 0 1,0 -10.0,0M860.2,1070.7a5.0,5.0 0 1,0 10.0,0a5.0,5.0 0 1,0 -10.0,0M857.8,1198.5a5.0,5.0 0 1,0 10.0,0a5.0,5.0 0 1,0 -10.0,0M869.3,1160.0a5.0,5.0 0 1,0 10.0,0a5.0,5.0 0 1,0 -10.0,0M866.2,1121.1a5.0,5.0 0 1,0 10.0,0a5.0,5.0 0 1,0 -10.0,0M853.5,1111.8a5.0,5.0 0 1,0 10.0,0a5.0,5.0 0 1,0 -10.0,0M844.7,1155.6a5.0,5.0 0 1,0 10.0,0a5.0,5.0 0 1,0 -10.0,0M869.2,1153.3a5.0,5.0 0 1,0 10.0,0a5.0,5.0 0 1,0 -10.0,0M872.0,1149.2a5.0,5.0 0 1,0 10.0,0a5.0,5.0 0 1,0 -10.0,0M848.2,1119.5a5.0,5.0 0 1,0 10.0,0a5.0,5.0 0 1,0 -10.0,0M871.1,1119.8a5.0,5.0 0 1,0 10.0,0a5.0,5.0 0 1,0 -10.0,0M865.6,1140.8a5.0,5.0 0 1,0 10.0,0a5.0,5.0 0 1,0 -10.0,0M850.4,1127.3a5.0,5.0 0 1,0 10.0,0a5.0,5.0 0 1,0 -10.0,0M853.1,1096.5a5.0,5.0 0 1,0 10.0,0a5.0,5.0 0 1,0 -10.0,0M862.8,1076.7a5.0,5.0 0 1,0 10.0,0a5.0,5.0 0 1,0 -10.0,0M840.4,1150.9a5.0,5.0 0 1,0 10.0,0a5.0,5.0 0 1,0 -10.0,0M876.8,1150.6a5.0,5.0 0 1,0 10.0,0a5.0,5.0 0 1,0 -10.0,0M862.8,1167.7a5.0,5.0 0 1,0 10.0,0a5.0,5.0 0 1,0 -10.0,0M875.4,1144.6a5.0,5.0 0 1,0 10.0,0a5.0,5.0 0 1,0 -10.0,0M866.4,1129.3a5.0,5.0 0 1,0 10.0,0a5.0,5.0 0 1,0 -10.0,0M857.2,1093.2a5.0,5.0 0 1,0 10.0,0a5.0,5.0 0 1,0 -10.0,0M848.5,1170.1a5.0,5.0 0 1,0 10.0,0a5.0,5.0 0 1,0 -10.0,0M874.0,1154.9a5.0,5.0 0 1,0 10.0,0a5.0,5.0 0 1,0 -10.0,0M837.6,1146.8a5.0,5.0 0 1,0 10.0,0a5.0,5.0 0 1,0 -10.0,0M846.1,1129.9a5.0,5.0 0 1,0 10.0,0a5.0,5.0 0 1,0 -10.0,0M862.6,1186.1a5.0,5.0 0 1,0 10.0,0a5.0,5.0 0 1,0 -10.0,0M861.7,1113.6a5.0,5.0 0 1,0 10.0,0a5.0,5.0 0 1,0 -10.0,0M849.8,1187.1a5.0,5.0 0 1,0 10.0,0a5.0,5.0 0 1,0 -10.0,0M866.6,1112.4a5.0,5.0 0 1,0 10.0,0a5.0,5.0 0 1,0 -10.0,0M841.0,1141.6a5.0,5.0 0 1,0 10.0,0a5.0,5.0 0 1,0 -10.0,0M880.5,1147.2a5.0,5.0 0 1,0 10.0,0a5.0,5.0 0 1,0 -10.0,0M862.7,1179.2a5.0,5.0 0 1,0 10.0,0a5.0,5.0 0 1,0 -10.0,0M861.7,1101.3a5.0,5.0 0 1,0 10.0,0a5.0,5.0 0 1,0 -10.0,0M834.2,1150.5a5.0,5.0 0 1,0 10.0,0a5.0,5.0 0 1,0 -10.0,0M853.3,1078.5a5.0,5.0 0 1,0 10.0,0a5.0,5.0 0 1,0 -10.0,0M877.9,1140.3a5.0,5.0 0 1,0 10.0,0a5.0,5.0 0 1,0 -10.0,0M862.8,1108.6a5.0,5.0 0 1,0 10.0,0a5.0,5.0 0 1,0 -10.0,0M836.1,1140.5a5.0,5.0 0 1,0 10.0,0a5.0,5.0 0 1,0 -10.0,0M848.7,1163.8a5.0,5.0 0 1,0 10.0,0a5.0,5.0 0 1,0 -10.0,0M866.1,1099.0a5.0,5.0 0 1,0 10.0,0a5.0,5.0 0 1,0 -10.0,0M884.8,1149.7a5.0,5.0 0 1,0 10.0,0a5.0,5.0 0 1,0 -10.0,0M862.7,1192.8a5.0,5.0 0 1,0 10.0,0a5.0,5.0 0 1,0 -10.0,0M860.0,1172.8a5.0,5.0 0 1,0 10.0,0a5.0,5.0 0 1,0 -10.0,0M831.1,1146.5a5.0,5.0 0 1,0 10.0,0a5.0,5.0 0 1,0 -10.0,0M866.2,1080.3a5.0,5.0 0 1,0 10.0,0a5.0,5.0 0 1,0 -10.0,0M849.4,1136.6a5.0,5.0 0 1,0 10.0,0a5.0,5.0 0 1,0 -10.0,0M871.4,1130.0a5.0,5.0 0 1,0 10.0,0a5.0,5.0 0 1,0 -10.0,0M826.5,1148.5a5.0,5.0 0 1,0 10.0,0a5.0,5.0 0 1,0 -10.0,0M869.4,1165.1a5.0,5.0 0 1,0 10.0,0a5.0,5.0 0 1,0 -10.0,0M840.1,1157.5a5.0,5.0 0 1,0 10.0,0a5.0,5.0 0 1,0 -10.0,0M866.9,1170.4a5.0,5.0 0 1,0 10.0,0a5.0,5.0 0 1,0 -10.0,0M841.7,1127.5a5.0,5.0 0 1,0 10.0,0a5.0,5.0 0 1,0 -10.0,0M846.0,1174.5a5.0,5.0 0 1,0 10.0,0a5.0,5.0 0 1,0 -10.0,0M848.7,1113.0a5.0,5.0 0 1,0 10.0,0a5.0,5.0 0 1,0 -10.0,0M870.6,1173.8a5.0,5.0 0 1,0 10.0,0a5.0,5.0 0 1,0 -10.0,0M844.5,1167.2a5.0,5.0 0 1,0 10.0,0a5.0,5.0 0 1,0 -10.0,0M866.9,1183.5a5.0,5.0 0 1,0 10.0,0a5.0,5.0 0 1,0 -10.0,0M866.5,1189.5a5.0,5.0 0 1,0 10.0,0a5.0,5.0 0 1,0 -10.0,0M874.3,1164.6a5.0,5.0 0 1,0 10.0,0a5.0,5.0 0 1,0 -10.0,0M882.9,1140.0a5.0,5.0 0 1,0 10.0,0a5.0,5.0 0 1,0 -10.0,0M852.9,1090.7a5.0,5.0 0 1,0 10.0,0a5.0,5.0 0 1,0 -10.0,0M869.5,1125.3a5.0,5.0 0 1,0 10.0,0a5.0,5.0 0 1,0 -10.0,0M844.1,1161.8a5.0,5.0 0 1,0 10.0,0a5.0,5.0 0 1,0 -10.0,0M876.0,1128.2a5.0,5.0 0 1,0 10.0,0a5.0,5.0 0 1,0 -10.0,0M886.4,1143.6a5.0,5.0 0 1,0 10.0,0a5.0,5.0 0 1,0 -10.0,0M851.4,1176.8a5.0,5.0 0 1,0 10.0,0a5.0,5.0 0 1,0 -10.0,0M839.6,1164.0a5.0,5.0 0 1,0 10.0,0a5.0,5.0 0 1,0 -10.0,0M841.2,1176.0a5.0,5.0 0 1,0 10.0,0a5.0,5.0 0 1,0 -10.0,0M879.0,1155.3a5.0,5.0 0 1,0 10.0,0a5.0,5.0 0 1,0 -10.0,0M848.1,1182.4a5.0,5.0 0 1,0 10.0,0a5.0,5.0 0 1,0 -10.0,0M835.3,1156.0a5.0,5.0 0 1,0 10.0,0a5.0,5.0 0 1,0 -10.0,0M843.8,1121.9a5.0,5.0 0 1,0 10.0,0a5.0,5.0 0 1,0 -10.0,0M879.3,1164.3a5.0,5.0 0 1,0 10.0,0a5.0,5.0 0 1,0 -10.0,0M889.1,1152.2a5.0,5.0 0 1,0 10.0,0a5.0,5.0 0 1,0 -10.0,0M871.1,1110.3a5.0,5.0 0 1,0 10.0,0a5.0,5.0 0 1,0 -10.0,0M838.5,1123.7a5.0,5.0 0 1,0 10.0,0a5.0,5.0 0 1,0 -10.0,0M843.1,1133.9a5.0,5.0 0 1,0 10.0,0a5.0,5.0 0 1,0 -10.0,0M843.9,1114.5a5.0,5.0 0 1,0 10.0,0a5.0,5.0 0 1,0 -10.0,0M869.2,1137.3a5.0,5.0 0 1,0 10.0,0a5.0,5.0 0 1,0 -10.0,0M823.3,1152.4a5.0,5.0 0 1,0 10.0,0a5.0,5.0 0 1,0 -10.0,0M828.2,1142.5a5.0,5.0 0 1,0 10.0,0a5.0,5.0 0 1,0 -10.0,0M875.5,1122.2a5.0,5.0 0 1,0 10.0,0a5.0,5.0 0 1,0 -10.0,0M868.1,1178.7a5.0,5.0 0 1,0 10.0,0a5.0,5.0 0 1,0 -10.0,0M882.7,1158.5a5.0,5.0 0 1,0 10.0,0a5.0,5.0 0 1,0 -10.0,0M836.7,1168.1a5.0,5.0 0 1,0 10.0,0a5.0,5.0 0 1,0 -10.0,0M837.6,1130.3a5.0,5.0 0 1,0 10.0,0a5.0,5.0 0 1,0 -10.0,0M872.8,1180.4a5.0,5.0 0 1,0 10.0,0a5.0,5.0 0 1,0 -10.0,0M848.9,1194.0a5.0,5.0 0 1,0 10.0,0a5.0,5.0 0 1,0 -10.0,0M875.1,1133.3a5.0,5.0 0 1,0 10.0,0a5.0,5.0 0 1,0 -10.0,0M875.5,1172.6a5.0,5.0 0 1,0 10.0,0a5.0,5.0 0 1,0 -10.0,0M880.7,1169.2a5.0,5.0 0 1,0 10.0,0a5.0,5.0 0 1,0 -10.0,0M875.7,1159.6a5.0,5.0 0 1,0 10.0,0a5.0,5.0 0 1,0 -10.0,0M881.0,1128.8a5.0,5.0 0 1,0 10.0,0a5.0,5.0 0 1,0 -10.0,0M829.9,1153.1a5.0,5.0 0 1,0 10.0,0a5.0,5.0 0 1,0 -10.0,0M854.4,1148.3a5.0,5.0 0 1,0 10.0,0a5.0,5.0 0 1,0 -10.0,0M853.4,1200.9a5.0,5.0 0 1,0 10.0,0a5.0,5.0 0 1,0 -10.0,0M834.5,1163.6a5.0,5.0 0 1,0 10.0,0a5.0,5.0 0 1,0 -10.0,0M894.1,1152.6a5.0,5.0 0 1,0 10.0,0a5.0,5.0 0 1,0 -10.0,0M831.6,1159.3a5.0,5.0 0 1,0 10.0,0a5.0,5.0 0 1,0 -10.0,0M818.6,1153.9a5.0,5.0 0 1,0 10.0,0a5.0,5.0 0 1,0 -10.0,0M885.0,1163.0a5.0,5.0 0 1,0 10.0,0a5.0,5.0 0 1,0 -10.0,0M888.5,1159.4a5.0,5.0 0 1,0 10.0,0a5.0,5.0 0 1,0 -10.0,0M831.8,1168.6a5.0,5.0 0 1,0 10.0,0a5.0,5.0 0 1,0 -10.0,0M850.0,1100.5a5.0,5.0 0 1,0 10.0,0a5.0,5.0 0 1,0 -10.0,0M898.8,1154.1a5.0,5.0 0 1,0 10.0,0a5.0,5.0 0 1,0 -10.0,0M850.1,1074.0a5.0,5.0 0 1,0 10.0,0a5.0,5.0 0 1,0 -10.0,0M826.7,1160.5a5.0,5.0 0 1,0 10.0,0a5.0,5.0 0 1,0 -10.0,0M885.6,1169.9a5.0,5.0 0 1,0 10.0,0a5.0,5.0 0 1,0 -10.0,0M891.8,1148.1a5.0,5.0 0 1,0 10.0,0a5.0,5.0 0 1,0 -10.0,0M839.9,1117.5a5.0,5.0 0 1,0 10.0,0a5.0,5.0 0 1,0 -10.0,0M833.2,1127.9a5.0,5.0 0 1,0 10.0,0a5.0,5.0 0 1,0 -10.0,0M891.3,1143.0a5.0,5.0 0 1,0 10.0,0a5.0,5.0 0 1,0 -10.0,0M843.4,1184.0a5.0,5.0 0 1,0 10.0,0a5.0,5.0 0 1,0 -10.0,0M845.8,1097.7a5.0,5.0 0 1,0 10.0,0a5.0,5.0 0 1,0 -10.0,0M823.5,1144.2a5.0,5.0 0 1,0 10.0,0a5.0,5.0 0 1,0 -10.0,0M827.1,1166.8a5.0,5.0 0 1,0 10.0,0a5.0,5.0 0 1,0 -10.0,0M841.0,1170.8a5.0,5.0 0 1,0 10.0,0a5.0,5.0 0 1,0 -10.0,0M890.6,1169.5a5.0,5.0 0 1,0 10.0,0a5.0,5.0 0 1,0 -10.0,0M822.3,1165.6a5.0,5.0 0 1,0 10.0,0a5.0,5.0 0 1,0 -10.0,0M867.0,1195.4a5.0,5.0 0 1,0 10.0,0a5.0,5.0 0 1,0 -10.0,0M895.9,1145.2a5.0,5.0 0 1,0 10.0,0a5.0,5.0 0 1,0 -10.0,0M877.7,1179.7a5.0,5.0 0 1,0 10.0,0a5.0,5.0 0 1,0 -10.0,0M895.1,1167.4a5.0,5.0 0 1,0 10.0,0a5.0,5.0 0 1,0 -10.0,0M820.1,1147.9a5.0,5.0 0 1,0 10.0,0a5.0,5.0 0 1,0 -10.0,0M861.9,1094.8a5.0,5.0 0 1,0 10.0,0a5.0,5.0 0 1,0 -10.0,0M818.5,1169.0a5.0,5.0 0 1,0 10.0,0a5.0,5.0 0 1,0 -10.0,0M899.9,1166.1a5.0,5.0 0 1,0 10.0,0a5.0,5.0 0 1,0 -10.0,0M833.1,1136.5a5.0,5.0 0 1,0 10.0,0a5.0,5.0 0 1,0 -10.0,0M899.4,1148.8a5.0,5.0 0 1,0 10.0,0a5.0,5.0 0 1,0 -10.0,0M815.3,1149.4a5.0,5.0 0 1,0 10.0,0a5.0,5.0 0 1,0 -10.0,0M844.4,1196.3a5.0,5.0 0 1,0 10.0,0a5.0,5.0 0 1,0 -10.0,0M871.0,1100.1a5.0,5.0 0 1,0 10.0,0a5.0,5.0 0 1,0 -10.0,0M821.2,1139.8a5.0,5.0 0 1,0 10.0,0a5.0,5.0 0 1,0 -10.0,0M867.3,1089.4a5.0,5.0 0 1,0 10.0,0a5.0,5.0 0 1,0 -10.0,0M880.0,1134.5a5.0,5.0 0 1,0 10.0,0a5.0,5.0 0 1,0 -10.0,0M880.5,1122.7a5.0,5.0 0 1,0 10.0,0a5.0,5.0 0 1,0 -10.0,0M814.8,1165.7a5.0,5.0 0 1,0 10.0,0a5.0,5.0 0 1,0 -10.0,0M865.0,1069.4a5.0,5.0 0 1,0 10.0,0a5.0,5.0 0 1,0 -10.0,0M857.8,1208.2a5.0,5.0 0 1,0 10.0,0a5.0,5.0 0 1,0 -10.0,0M852.9,1209.0a5.0,5.0 0 1,0 10.0,0a5.0,5.0 0 1,0 -10.0,0M903.7,1152.9a5.0,5.0 0 1,0 10.0,0a5.0,5.0 0 1,0 -10.0,0M871.4,1188.6a5.0,5.0 0 1,0 10.0,0a5.0,5.0 0 1,0 -10.0,0M828.3,1172.2a5.0,5.0 0 1,0 10.0,0a5.0,5.0 0 1,0 -10.0,0M814.1,1156.2a5.0,5.0 0 1,0 10.0,0a5.0,5.0 0 1,0 -10.0,0M869.1,1094.0a5.0,5.0 0 1,0 10.0,0a5.0,5.0 0 1,0 -10.0,0M816.9,1144.0a5.0,5.0 0 1,0 10.0,0a5.0,5.0 0 1,0 -10.0,0M885.4,1131.2a5.0,5.0 0 1,0 10.0,0a5.0,5.0 0 1,0 -10.0,0M836.5,1177.6a5.0,5.0 0 1,0 10.0,0a5.0,5.0 0 1,0 -10.0,0M849.8,1106.3a5.0,5.0 0 1,0 10.0,0a5.0,5.0 0 1,0 -10.0,0M833.8,1181.8a5.0,5.0 0 1,0 10.0,0a5.0,5.0 0 1,0 -10.0,0M893.5,1158.6a5.0,5.0 0 1,0 10.0,0a5.0,5.0 0 1,0 -10.0,0M887.7,1138.5a5.0,5.0 0 1,0 10.0,0a5.0,5.0 0 1,0 -10.0,0M810.3,1150.1a5.0,5.0 0 1,0 10.0,0a5.0,5.0 0 1,0 -10.0,0M823.3,1172.0a5.0,5.0 0 1,0 10.0,0a5.0,5.0 0 1,0 -10.0,0M822.3,1158.3a5.0,5.0 0 1,0 10.0,0a5.0,5.0 0 1,0 -10.0,0M843.4,1102.1a5.0,5.0 0 1,0 10.0,0a5.0,5.0 0 1,0 -10.0,0M898.7,1141.0a5.0,5.0 0 1,0 10.0,0a5.0,5.0 0 1,0 -10.0,0M867.5,1106.9a5.0,5.0 0 1,0 10.0,0a5.0,5.0 0 1,0 -10.0,0M859.9,1081.6a5.0,5.0 0 1,0 10.0,0a5.0,5.0 0 1,0 -10.0,0M818.8,1162.1a5.0,5.0 0 1,0 10.0,0a5.0,5.0 0 1,0 -10.0,0M904.9,1165.2a5.0,5.0 0 1,0 10.0,0a5.0,5.0 0 1,0 -10.0,0M829.2,1130.8a5.0,5.0 0 1,0 10.0,0a5.0,5.0 0 1,0 -10.0,0M890.4,1131.6a5.0,5.0 0 1,0 10.0,0a5.0,5.0 0 1,0 -10.0,0M897.5,1161.6a5.0,5.0 0 1,0 10.0,0a5.0,5.0 0 1,0 -10.0,0M834.7,1120.4a5.0,5.0 0 1,0 10.0,0a5.0,5.0 0 1,0 -10.0,0M883.8,1119.0a5.0,5.0 0 1,0 10.0,0a5.0,5.0 0 1,0 -10.0,0M881.6,1176.5a5.0,5.0 0 1,0 10.0,0a5.0,5.0 0 1,0 -10.0,0M824.3,1132.0a5.0,5.0 0 1,0 10.0,0a5.0,5.0 0 1,0 -10.0,0M902.2,1160.1a5.0,5.0 0 1,0 10.0,0a5.0,5.0 0 1,0 -10.0,0M908.5,1151.7a5.0,5.0 0 1,0 10.0,0a5.0,5.0 0 1,0 -10.0,0M812.1,1161.4a5.0,5.0 0 1,0 10.0,0a5.0,5.0 0 1,0 -10.0,0M874.7,1116.4a5.0,5.0 0 1,0 10.0,0a5.0,5.0 0 1,0 -10.0,0M894.9,1133.7a5.0,5.0 0 1,0 10.0,0a5.0,5.0 0 1,0 -10.0,0M831.6,1177.0a5.0,5.0 0 1,0 10.0,0a5.0,5.0 0 1,0 -10.0,0M907.4,1160.9a5.0,5.0 0 1,0 10.0,0a5.0,5.0 0 1,0 -10.0,0M807.3,1162.9a5.0,5.0 0 1,0 10.0,0a5.0,5.0 0 1,0 -10.0,0M819.4,1131.7a5.0,5.0 0 1,0 10.0,0a5.0,5.0 0 1,0 -10.0,0M893.9,1173.2a5.0,5.0 0 1,0 10.0,0a5.0,5.0 0 1,0 -10.0,0M886.5,1175.5a5.0,5.0 0 1,0 10.0,0a5.0,5.0 0 1,0 -10.0,0M809.1,1156.9a5.0,5.0 0 1,0 10.0,0a5.0,5.0 0 1,0 -10.0,0M884.9,1125.6a5.0,5.0 0 1,0 10.0,0a5.0,5.0 0 1,0 -10.0,0M883.9,1181.0a5.0,5.0 0 1,0 10.0,0a5.0,5.0 0 1,0 -10.0,0M894.0,1138.8a5.0,5.0 0 1,0 10.0,0a5.0,5.0 0 1,0 -10.0,0M912.4,1160.7a5.0,5.0 0 1,0 10.0,0a5.0,5.0 0 1,0 -10.0,0M802.7,1164.8a5.0,5.0 0 1,0 10.0,0a5.0,5.0 0 1,0 -10.0,0M819.3,1175.0a5.0,5.0 0 1,0 10.0,0a5.0,5.0 0 1,0 -10.0,0M826.7,1126.4a5.0,5.0 0 1,0 10.0,0a5.0,5.0 0 1,0 -10.0,0M898.9,1173.4a5.0,5.0 0 1,0 10.0,0a5.0,5.0 0 1,0 -10.0,0M909.7,1166.5a5.0,5.0 0 1,0 10.0,0a5.0,5.0 0 1,0 -10.0,0M889.7,1124.2a5.0,5.0 0 1,0 10.0,0a5.0,5.0 0 1,0 -10.0,0M826.7,1178.0a5.0,5.0 0 1,0 10.0,0a5.0,5.0 0 1,0 -10.0,0M845.1,1107.9a5.0,5.0 0 1,0 10.0,0a5.0,5.0 0 1,0 -10.0,0M903.7,1146.2a5.0,5.0 0 1,0 10.0,0a5.0,5.0 0 1,0 -10.0,0M873.9,1104.2a5.0,5.0 0 1,0 10.0,0a5.0,5.0 0 1,0 -10.0,0M804.2,1156.4a5.0,5.0 0 1,0 10.0,0a5.0,5.0 0 1,0 -10.0,0M891.6,1163.4a5.0,5.0 0 1,0 10.0,0a5.0,5.0 0 1,0 -10.0,0M815.0,1139.4a5.0,5.0 0 1,0 10.0,0a5.0,5.0 0 1,0 -10.0,0M888.8,1180.1a5.0,5.0 0 1,0 10.0,0a5.0,5.0 0 1,0 -10.0,0M821.7,1126.8a5.0,5.0 0 1,0 10.0,0a5.0,5.0 0 1,0 -10.0,0M896.5,1129.0a5.0,5.0 0 1,0 10.0,0a5.0,5.0 0 1,0 -10.0,0M840.0,1187.7a5.0,5.0 0 1,0 10.0,0a5.0,5.0 0 1,0 -10.0,0M840.4,1110.9a5.0,5.0 0 1,0 10.0,0a5.0,5.0 0 1,0 -10.0,0M876.0,1186.7a5.0,5.0 0 1,0 10.0,0a5.0,5.0 0 1,0 -10.0,0M853.0,1067.6a5.0,5.0 0 1,0 10.0,0a5.0,5.0 0 1,0 -10.0,0M826.3,1137.8a5.0,5.0 0 1,0 10.0,0a5.0,5.0 0 1,0 -10.0,0M805.5,1151.5a5.0,5.0 0 1,0 10.0,0a5.0,5.0 0 1,0 -10.0,0M911.4,1147.6a5.0,5.0 0 1,0 10.0,0a5.0,5.0 0 1,0 -10.0,0M814.1,1171.2a5.0,5.0 0 1,0 10.0,0a5.0,5.0 0 1,0 -10.0,0M899.9,1133.2a5.0,5.0 0 1,0 10.0,0a5.0,5.0 0 1,0 -10.0,0M903.5,1171.5a5.0,5.0 0 1,0 10.0,0a5.0,5.0 0 1,0 -10.0,0M838.3,1135.4a5.0,5.0 0 1,0 10.0,0a5.0,5.0 0 1,0 -10.0,0M810.2,1167.8a5.0,5.0 0 1,0 10.0,0a5.0,5.0 0 1,0 -10.0,0M848.4,1083.0a5.0,5.0 0 1,0 10.0,0a5.0,5.0 0 1,0 -10.0,0M861.1,1204.5a5.0,5.0 0 1,0 10.0,0a5.0,5.0 0 1,0 -10.0,0M848.0,1091.9a5.0,5.0 0 1,0 10.0,0a5.0,5.0 0 1,0 -10.0,0M829.8,1121.2a5.0,5.0 0 1,0 10.0,0a5.0,5.0 0 1,0 -10.0,0M810.0,1174.1a5.0,5.0 0 1,0 10.0,0a5.0,5.0 0 1,0 -10.0,0M915.4,1156.6a5.0,5.0 0 1,0 10.0,0a5.0,5.0 0 1,0 -10.0,0M799.3,1157.3a5.0,5.0 0 1,0 10.0,0a5.0,5.0 0 1,0 -10.0,0M814.5,1134.4a5.0,5.0 0 1,0 10.0,0a5.0,5.0 0 1,0 -10.0,0M812.1,1145.3a5.0,5.0 0 1,0 10.0,0a5.0,5.0 0 1,0 -10.0,0M879.4,1114.7a5.0,5.0 0 1,0 10.0,0a5.0,5.0 0 1,0 -10.0,0M914.7,1166.4a5.0,5.0 0 1,0 10.0,0a5.0,5.0 0 1,0 -10.0,0M876.1,1109.9a5.0,5.0 0 1,0 10.0,0a5.0,5.0 0 1,0 -10.0,0M904.0,1135.9a5.0,5.0 0 1,0 10.0,0a5.0,5.0 0 1,0 -10.0,0M809.6,1135.3a5.0,5.0 0 1,0 10.0,0a5.0,5.0 0 1,0 -10.0,0M873.7,1095.8a5.0,5.0 0 1,0 10.0,0a5.0,5.0 0 1,0 -10.0,0M816.8,1126.2a5.0,5.0 0 1,0 10.0,0a5.0,5.0 0 1,0 -10.0,0M839.9,1106.0a5.0,5.0 0 1,0 10.0,0a5.0,5.0 0 1,0 -10.0,0M828.9,1183.1a5.0,5.0 0 1,0 10.0,0a5.0,5.0 0 1,0 -10.0,0M908.9,1136.9a5.0,5.0 0 1,0 10.0,0a5.0,5.0 0 1,0 -10.0,0M919.4,1153.7a5.0,5.0 0 1,0 10.0,0a5.0,5.0 0 1,0 -10.0,0M880.7,1185.1a5.0,5.0 0 1,0 10.0,0a5.0,5.0 0 1,0 -10.0,0M804.6,1135.0a5.0,5.0 0 1,0 10.0,0a5.0,5.0 0 1,0 -10.0,0M833.2,1115.6a5.0,5.0 0 1,0 10.0,0a5.0,5.0 0 1,0 -10.0,0M906.6,1142.1a5.0,5.0 0 1,0 10.0,0a5.0,5.0 0 1,0 -10.0,0M907.0,1175.1a5.0,5.0 0 1,0 10.0,0a5.0,5.0 0 1,0 -10.0,0M913.4,1139.1a5.0,5.0 0 1,0 10.0,0a5.0,5.0 0 1,0 -10.0,0M888.8,1118.5a5.0,5.0 0 1,0 10.0,0a5.0,5.0 0 1,0 -10.0,0M800.7,1138.3a5.0,5.0 0 1,0 10.0,0a5.0,5.0 0 1,0 -10.0,0M794.6,1155.4a5.0,5.0 0 1,0 10.0,0a5.0,5.0 0 1,0 -10.0,0M922.4,1157.7a5.0,5.0 0 1,0 10.0,0a5.0,5.0 0 1,0 -10.0,0M878.7,1102.9a5.0,5.0 0 1,0 10.0,0a5.0,5.0 0 1,0 -10.0,0M845.0,1190.7a5.0,5.0 0 1,0 10.0,0a5.0,5.0 0 1,0 -10.0,0M835.3,1103.8a5.0,5.0 0 1,0 10.0,0a5.0,5.0 0 1,0 -10.0,0M857.3,1203.5a5.0,5.0 0 1,0 10.0,0a5.0,5.0 0 1,0 -10.0,0M857.3,1210.0a5.0,5.0 0 1,0 10.0,0a5.0,5.0 0 1,0 -10.0,0M857.8,1216.7a5.0,5.0 0 1,0 10.0,0a5.0,5.0 0 1,0 -10.0,0M857.8,1232.9a5.0,5.0 0 1,0 10.0,0a5.0,5.0 0 1,0 -10.0,0" fill="#76069a"/>
<path d="M1050.8,1133.9a5.0,5.0 0 1,0 10.0,0a5.0,5.0 0 1,0 -10.0,0M1050.8,1161.8a5.0,5.0 0 1,0 10.0,0a5.0,5.0 0 1,0 -10.0,0M1050.8,1177.3a5.0,5.0 0 1,0 10.0,0a5.0,5.0 0 1,0 -10.0,0M1050.8,1145.0a5.0,5.0 0 1,0 10.0,0a5.0,5.0 0 1,0 -10.0,0M1047.9,1138.0a5.0,5.0 0 1,0 10.0,0a5.0,5.0 0 1,0 -10.0,0M1055.4,1135.6a5.0,5.0 0 1,0 10.0,0a5.0,5.0 0 1,0 -10.0,0M1050.8,1106.1a5.0,5.0 0 1,0 10.0,0a5.0,5.0 0 1,0 -10.0,0M1043.1,1139.4a5.0,5.0 0 1,0 10.0,0a5.0,5.0 0 1,0 -10.0,0M1050.8,1128.5a5.0,5.0 0 1,0 10.0,0a5.0,5.0 0 1,0 -10.0,0M1050.8,1196.2a5.0,5.0 0 1,0 10.0,0a5.0,5.0 0 1,0 -10.0,0M1050.8,1067.2a5.0,5.0 0 1,0 10.0,0a5.0,5.0 0 1,0 -10.0,0M1046.6,1174.5a5.0,5.0 0 1,0 10.0,0a5.0,5.0 0 1,0 -10.0,0M1060.2,1137.3a5.0,5.0 0 1,0 10.0,0a5.0,5.0 0 1,0 -10.0,0M1046.2,1131.9a5.0,5.0 0 1,0 10.0,0a5.0,5.0 0 1,0 -10.0,0M1050.8,1082.3a5.0,5.0 0 1,0 10.0,0a5.0,5.0 0 1,0 -10.0,0M1048.2,1086.6a5.0,5.0 0 1,0 10.0,0a5.0,5.0 0 1,0 -10.0,0M1046.6,1147.7a5.0,5.0 0 1,0 10.0,0a5.0,5.0 0 1,0 -10.0,0M1047.4,1192.4a5.0,5.0 0 1,0 10.0,0a5.0,5.0 0 1,0 -10.0,0M1050.8,1153.4a5.0,5.0 0 1,0 10.0,0a5.0,5.0 0 1,0 -10.0,0M1047.2,1158.2a5.0,5.0 0 1,0 10.0,0a5.0,5.0 0 1,0 -10.0,0M1054.8,1142.1a5.0,5.0 0 1,0 10.0,0a5.0,5.0 0 1,0 -10.0,0M1050.8,1122.5a5.0,5.0 0 1,0 10.0,0a5.0,5.0 0 1,0 -10.0,0M1046.7,1164.6a5.0,5.0 0 1,0 10.0,0a5.0,5.0 0 1,0 -10.0,0M1038.2,1140.1a5.0,5.0 0 1,0 10.0,0a5.0,5.0 0 1,0 -10.0,0M1050.8,1113.3a5.0,5.0 0 1,0 10.0,0a5.0,5.0 0 1,0 -10.0,0M1046.2,1120.4a5.0,5.0 0 1,0 10.0,0a5.0,5.0 0 1,0 -10.0,0M1055.5,1124.1a5.0,5.0 0 1,0 10.0,0a5.0,5.0 0 1,0 -10.0,0M1046.5,1110.7a5.0,5.0 0 1,0 10.0,0a5.0,5.0 0 1,0 -10.0,0M1050.8,1096.5a5.0,5.0 0 1,0 10.0,0a5.0,5.0 0 1,0 -10.0,0M1050.8,1170.8a5.0,5.0 0 1,0 10.0,0a5.0,5.0 0 1,0 -10.0,0M1054.8,1173.8a5.0,5.0 0 1,0 10.0,0a5.0,5.0 0 1,0 -10.0,0M1053.9,1117.3a5.0,5.0 0 1,0 10.0,0a5.0,5.0 0 1,0 -10.0,0M1053.0,1166.3a5.0,5.0 0 1,0 10.0,0a5.0,5.0 0 1,0 -10.0,0M1059.6,1143.7a5.0,5.0 0 1,0 10.0,0a5.0,5.0 0 1,0 -10.0,0M1064.6,1143.3a5.0,5.0 0 1,0 10.0,0a5.0,5.0 0 1,0 -10.0,0M1058.6,1131.7a5.0,5.0 0 1,0 10.0,0a5.0,5.0 0 1,0 -10.0,0M1054.4,1148.4a5.0,5.0 0 1,0 10.0,0a5.0,5.0 0 1,0 -10.0,0M1059.4,1175.6a5.0,5.0 0 1,0 10.0,0a5.0,5.0 0 1,0 -10.0,0M1033.4,1141.6a5.0,5.0 0 1,0 10.0,0a5.0,5.0 0 1,0 -10.0,0M1042.1,1172.5a5.0,5.0 0 1,0 10.0,0a5.0,5.0 0 1,0 -10.0,0M1069.5,1142.3a5.0,5.0 0 1,0 10.0,0a5.0,5.0 0 1,0 -10.0,0M1062.1,1171.4a5.0,5.0 0 1,0 10.0,0a5.0,5.0 0 1,0 -10.0,0M1059.1,1150.2a5.0,5.0 0 1,0 10.0,0a5.0,5.0 0 1,0 -10.0,0M1047.4,1100.3a5.0,5.0 0 1,0 10.0,0a5.0,5.0 0 1,0 -10.0,0M1041.5,1133.6a5.0,5.0 0 1,0 10.0,0a5.0,5.0 0 1,0 -10.0,0M1043.3,1124.5a5.0,5.0 0 1,0 10.0,0a5.0,5.0 0 1,0 -10.0,0M1046.0,1094.9a5.0,5.0 0 1,0 10.0,0a5.0,5.0 0 1,0 -10.0,0M1041.7,1146.6a5.0,5.0 0 1,0 10.0,0a5.0,5.0 0 1,0 -10.0,0M1055.2,1103.8a5.0,5.0 0 1,0 10.0,0a5.0,5.0 0 1,0 -10.0,0M1050.8,1187.0a5.0,5.0 0 1,0 10.0,0a5.0,5.0 0 1,0 -10.0,0M1058.0,1114.5a5.0,5.0 0 1,0 10.0,0a5.0,5.0 0 1,0 -10.0,0M1055.5,1160.4a5.0,5.0 0 1,0 10.0,0a5.0,5.0 0 1,0 -10.0,0M1059.5,1121.3a5.0,5.0 0 1,0 10.0,0a5.0,5.0 0 1,0 -10.0,0M1057.8,1167.6a5.0,5.0 0 1,0 10.0,0a5.0,5.0 0 1,0 -10.0,0M1042.5,1117.0a5.0,5.0 0 1,0 10.0,0a5.0,5.0 0 1,0 -10.0,0M1037.1,1171.9a5.0,5.0 0 1,0 10.0,0a5.0,5.0 0 1,0 -10.0,0M1053.2,1086.8a5.0,5.0 0 1,0 10.0,0a5.0,5.0 0 1,0 -10.0,0M1043.1,1161.1a5.0,5.0 0 1,0 10.0,0a5.0,5.0 0 1,0 -10.0,0M1043.2,1103.0a5.0,5.0 0 1,0 10.0,0a5.0,5.0 0 1,0 -10.0,0M1039.2,1151.0a5.0,5.0 0 1,0 10.0,0a5.0,5.0 0 1,0 -10.0,0M1059.9,1162.9a5.0,5.0 0 1,0 10.0,0a5.0,5.0 0 1,0 -10.0,0M1039.4,1121.0a5.0,5.0 0 1,0 10.0,0a5.0,5.0 0 1,0 -10.0,0M1029.2,1138.9a5.0,5.0 0 1,0 10.0,0a5.0,5.0 0 1,0 -10.0,0M1038.3,1162.4a5.0,5.0 0 1,0 10.0,0a5.0,5.0 0 1,0 -10.0,0M1065.0,1135.9a5.0,5.0 0 1,0 10.0,0a5.0,5.0 0 1,0 -10.0,0M1036.5,1133.6a5.0,5.0 0 1,0 10.0,0a5.0,5.0 0 1,0 -10.0,0M1063.9,1165.8a5.0,5.0 0 1,0 10.0,0a5.0,5.0 0 1,0 -10.0,0M1063.7,1152.0a5.0,5.0 0 1,0 10.0,0a5.0,5.0 0 1,0 -10.0,0M1070.0,1136.4a5.0,5.0 0 1,0 10.0,0a5.0,5.0 0 1,0 -10.0,0M1074.6,1138.3a5.0,5.0 0 1,0 10.0,0a5.0,5.0 0 1,0 -10.0,0M1031.7,1132.3a5.0,5.0 0 1,0 10.0,0a5.0,5.0 0 1,0 -10.0,0M1027.0,1134.2a5.0,5.0 0 1,0 10.0,0a5.0,5.0 0 1,0 -10.0,0M1055.4,1155.1a5.0,5.0 0 1,0 10.0,0a5.0,5.0 0 1,0 -10.0,0M1060.1,1156.9a5.0,5.0 0 1,0 10.0,0a5.0,5.0 0 1,0 -10.0,0M1064.4,1176.0a5.0,5.0 0 1,0 10.0,0a5.0,5.0 0 1,0 -10.0,0M1033.4,1168.5a5.0,5.0 0 1,0 10.0,0a5.0,5.0 0 1,0 -10.0,0M1026.1,1142.9a5.0,5.0 0 1,0 10.0,0a5.0,5.0 0 1,0 -10.0,0M1064.0,1123.5a5.0,5.0 0 1,0 10.0,0a5.0,5.0 0 1,0 -10.0,0M1074.3,1143.5a5.0,5.0 0 1,0 10.0,0a5.0,5.0 0 1,0 -10.0,0M1059.5,1101.3a5.0,5.0 0 1,0 10.0,0a5.0,5.0 0 1,0 -10.0,0M1059.8,1126.7a5.0,5.0 0 1,0 10.0,0a5.0,5.0 0 1,0 -10.0,0M1068.6,1164.1a5.0,5.0 0 1,0 10.0,0a5.0,5.0 0 1,0 -10.0,0M1039.7,1127.9a5.0,5.0 0 1,0 10.0,0a5.0,5.0 0 1,0 -10.0,0M1047.9,1078.2a5.0,5.0 0 1,0 10.0,0a5.0,5.0 0 1,0 -10.0,0M1042.3,1167.1a5.0,5.0 0 1,0 10.0,0a5.0,5.0 0 1,0 -10.0,0M1033.3,1161.7a5.0,5.0 0 1,0 10.0,0a5.0,5.0 0 1,0 -10.0,0M1063.6,1118.3a5.0,5.0 0 1,0 10.0,0a5.0,5.0 0 1,0 -10.0,0M1036.2,1147.0a5.0,5.0 0 1,0 10.0,0a5.0,5.0 0 1,0 -10.0,0M1063.4,1130.4a5.0,5.0 0 1,0 10.0,0a5.0,5.0 0 1,0 -10.0,0M1079.0,1145.3a5.0,5.0 0 1,0 10.0,0a5.0,5.0 0 1,0 -10.0,0M1031.2,1146.2a5.0,5.0 0 1,0 10.0,0a5.0,5.0 0 1,0 -10.0,0M1042.9,1155.8a5.0,5.0 0 1,0 10.0,0a5.0,5.0 0 1,0 -10.0,0M1034.5,1121.9a5.0,5.0 0 1,0 10.0,0a5.0,5.0 0 1,0 -10.0,0M1078.4,1135.0a5.0,5.0 0 1,0 10.0,0a5.0,5.0 0 1,0 -10.0,0M1022.0,1134.5a5.0,5.0 0 1,0 10.0,0a5.0,5.0 0 1,0 -10.0,0M1082.8,1137.4a5.0,5.0 0 1,0 10.0,0a5.0,5.0 0 1,0 -10.0,0M1068.1,1128.8a5.0,5.0 0 1,0 10.0,0a5.0,5.0 0 1,0 -10.0,0M1052.4,1076.0a5.0,5.0 0 1,0 10.0,0a5.0,5.0 0 1,0 -10.0,0M1038.6,1104.8a5.0,5.0 0 1,0 10.0,0a5.0,5.0 0 1,0 -10.0,0M1072.8,1166.9a5.0,5.0 0 1,0 10.0,0a5.0,5.0 0 1,0 -10.0,0M1048.1,1182.8a5.0,5.0 0 1,0 10.0,0a5.0,5.0 0 1,0 -10.0,0M1035.2,1154.0a5.0,5.0 0 1,0 10.0,0a5.0,5.0 0 1,0 -10.0,0M1021.2,1144.0a5.0,5.0 0 1,0 10.0,0a5.0,5.0 0 1,0 -10.0,0M1052.9,1092.0a5.0,5.0 0 1,0 10.0,0a5.0,5.0 0 1,0 -10.0,0M1068.6,1153.0a5.0,5.0 0 1,0 10.0,0a5.0,5.0 0 1,0 -10.0,0M1031.2,1125.6a5.0,5.0 0 1,0 10.0,0a5.0,5.0 0 1,0 -10.0,0M1072.2,1149.6a5.0,5.0 0 1,0 10.0,0a5.0,5.0 0 1,0 -10.0,0M1055.7,1196.9a5.0,5.0 0 1,0 10.0,0a5.0,5.0 0 1,0 -10.0,0M1057.1,1108.4a5.0,5.0 0 1,0 10.0,0a5.0,5.0 0 1,0 -10.0,0M1068.7,1121.7a5.0,5.0 0 1,0 10.0,0a5.0,5.0 0 1,0 -10.0,0M1064.5,1159.2a5.0,5.0 0 1,0 10.0,0a5.0,5.0 0 1,0 -10.0,0M1030.7,1118.6a5.0,5.0 0 1,0 10.0,0a5.0,5.0 0 1,0 -10.0,0M1072.9,1130.2a5.0,5.0 0 1,0 10.0,0a5.0,5.0 0 1,0 -10.0,0M1080.7,1130.6a5.0,5.0 0 1,0 10.0,0a5.0,5.0 0 1,0 -10.0,0M1030.8,1151.6a5.0,5.0 0 1,0 10.0,0a5.0,5.0 0 1,0 -10.0,0M1025.6,1129.4a5.0,5.0 0 1,0 10.0,0a5.0,5.0 0 1,0 -10.0,0M1055.7,1097.4a5.0,5.0 0 1,0 10.0,0a5.0,5.0 0 1,0 -10.0,0M1067.0,1170.4a5.0,5.0 0 1,0 10.0,0a5.0,5.0 0 1,0 -10.0,0M1073.7,1122.4a5.0,5.0 0 1,0 10.0,0a5.0,5.0 0 1,0 -10.0,0M1053.0,1182.2a5.0,5.0 0 1,0 10.0,0a5.0,5.0 0 1,0 -10.0,0M1071.8,1160.2a5.0,5.0 0 1,0 10.0,0a5.0,5.0 0 1,0 -10.0,0M1021.1,1127.3a5.0,5.0 0 1,0 10.0,0a5.0,5.0 0 1,0 -10.0,0M1029.1,1165.9a5.0,5.0 0 1,0 10.0,0a5.0,5.0 0 1,0 -10.0,0M1055.2,1189.4a5.0,5.0 0 1,0 10.0,0a5.0,5.0 0 1,0 -10.0,0M1062.1,1107.9a5.0,5.0 0 1,0 10.0,0a5.0,5.0 0 1,0 -10.0,0M1016.4,1129.1a5.0,5.0 0 1,0 10.0,0a5.0,5.0 0 1,0 -10.0,0M1045.0,1188.1a5.0,5.0 0 1,0 10.0,0a5.0,5.0 0 1,0 -10.0,0M1018.3,1137.8a5.0,5.0 0 1,0 10.0,0a5.0,5.0 0 1,0 -10.0,0M1087.8,1137.1a5.0,5.0 0 1,0 10.0,0a5.0,5.0 0 1,0 -10.0,0M1025.8,1117.8a5.0,5.0 0 1,0 10.0,0a5.0,5.0 0 1,0 -10.0,0M1025.8,1151.2a5.0,5.0 0 1,0 10.0,0a5.0,5.0 0 1,0 -10.0,0M1085.2,1141.8a5.0,5.0 0 1,0 10.0,0a5.0,5.0 0 1,0 -10.0,0M1013.1,1132.9a5.0,5.0 0 1,0 10.0,0a5.0,5.0 0 1,0 -10.0,0M1066.3,1105.1a5.0,5.0 0 1,0 10.0,0a5.0,5.0 0 1,0 -10.0,0M1073.3,1154.9a5.0,5.0 0 1,0 10.0,0a5.0,5.0 0 1,0 -10.0,0M1077.6,1152.4a5.0,5.0 0 1,0 10.0,0a5.0,5.0 0 1,0 -10.0,0M1085.3,1132.6a5.0,5.0 0 1,0 10.0,0a5.0,5.0 0 1,0 -10.0,0M1041.7,1112.1a5.0,5.0 0 1,0 10.0,0a5.0,5.0 0 1,0 -10.0,0M1030.2,1157.8a5.0,5.0 0 1,0 10.0,0a5.0,5.0 0 1,0 -10.0,0M1037.6,1116.2a5.0,5.0 0 1,0 10.0,0a5.0,5.0 0 1,0 -10.0,0M1014.7,1141.3a5.0,5.0 0 1,0 10.0,0a5.0,5.0 0 1,0 -10.0,0M1089.5,1130.0a5.0,5.0 0 1,0 10.0,0a5.0,5.0 0 1,0 -10.0,0M1039.1,1176.5a5.0,5.0 0 1,0 10.0,0a5.0,5.0 0 1,0 -10.0,0M1067.6,1147.3a5.0,5.0 0 1,0 10.0,0a5.0,5.0 0 1,0 -10.0,0M1065.4,1111.6a5.0,5.0 0 1,0 10.0,0a5.0,5.0 0 1,0 -10.0,0M1025.2,1157.6a5.0,5.0 0 1,0 10.0,0a5.0,5.0 0 1,0 -10.0,0M1009.9,1139.8a5.0,5.0 0 1,0 10.0,0a5.0,5.0 0 1,0 -10.0,0M1019.4,1148.6a5.0,5.0 0 1,0 10.0,0a5.0,5.0 0 1,0 -10.0,0M1083.5,1147.5a5.0,5.0 0 1,0 10.0,0a5.0,5.0 0 1,0 -10.0,0M1090.2,1142.5a5.0,5.0 0 1,0 10.0,0a5.0,5.0 0 1,0 -10.0,0M1095.1,1143.0a5.0,5.0 0 1,0 10.0,0a5.0,5.0 0 1,0 -10.0,0M1034.3,1112.5a5.0,5.0 0 1,0 10.0,0a5.0,5.0 0 1,0 -10.0,0M1070.0,1109.8a5.0,5.0 0 1,0 10.0,0a5.0,5.0 0 1,0 -10.0,0M1043.4,1088.0a5.0,5.0 0 1,0 10.0,0a5.0,5.0 0 1,0 -10.0,0M1012.9,1145.9a5.0,5.0 0 1,0 10.0,0a5.0,5.0 0 1,0 -10.0,0M1005.0,1139.1a5.0,5.0 0 1,0 10.0,0a5.0,5.0 0 1,0 -10.0,0M1057.4,1084.1a5.0,5.0 0 1,0 10.0,0a5.0,5.0 0 1,0 -10.0,0M1097.6,1138.7a5.0,5.0 0 1,0 10.0,0a5.0,5.0 0 1,0 -10.0,0M1088.3,1148.9a5.0,5.0 0 1,0 10.0,0a5.0,5.0 0 1,0 -10.0,0M1057.9,1092.7a5.0,5.0 0 1,0 10.0,0a5.0,5.0 0 1,0 -10.0,0M1034.1,1107.0a5.0,5.0 0 1,0 10.0,0a5.0,5.0 0 1,0 -10.0,0M1069.2,1114.9a5.0,5.0 0 1,0 10.0,0a5.0,5.0 0 1,0 -10.0,0M1042.5,1193.4a5.0,5.0 0 1,0 10.0,0a5.0,5.0 0 1,0 -10.0,0M1008.1,1133.1a5.0,5.0 0 1,0 10.0,0a5.0,5.0 0 1,0 -10.0,0M1021.1,1154.7a5.0,5.0 0 1,0 10.0,0a5.0,5.0 0 1,0 -10.0,0M1008.0,1144.7a5.0,5.0 0 1,0 10.0,0a5.0,5.0 0 1,0 -10.0,0M1076.6,1163.6a5.0,5.0 0 1,0 10.0,0a5.0,5.0 0 1,0 -10.0,0M1014.9,1150.7a5.0,5.0 0 1,0 10.0,0a5.0,5.0 0 1,0 -10.0,0M1046.3,1069.4a5.0,5.0 0 1,0 10.0,0a5.0,5.0 0 1,0 -10.0,0M1040.6,1098.7a5.0,5.0 0 1,0 10.0,0a5.0,5.0 0 1,0 -10.0,0M1027.0,1122.9a5.0,5.0 0 1,0 10.0,0a5.0,5.0 0 1,0 -10.0,0M1003.0,1144.4a5.0,5.0 0 1,0 10.0,0a5.0,5.0 0 1,0 -10.0,0M1078.4,1124.0a5.0,5.0 0 1,0 10.0,0a5.0,5.0 0 1,0 -10.0,0M1025.4,1169.3a5.0,5.0 0 1,0 10.0,0a5.0,5.0 0 1,0 -10.0,0M1084.2,1127.0a5.0,5.0 0 1,0 10.0,0a5.0,5.0 0 1,0 -10.0,0M1064.3,1099.8a5.0,5.0 0 1,0 10.0,0a5.0,5.0 0 1,0 -10.0,0M1023.1,1164.9a5.0,5.0 0 1,0 10.0,0a5.0,5.0 0 1,0 -10.0,0M1079.3,1159.4a5.0,5.0 0 1,0 10.0,0a5.0,5.0 0 1,0 -10.0,0M1021.1,1119.5a5.0,5.0 0 1,0 10.0,0a5.0,5.0 0 1,0 -10.0,0M1018.4,1159.0a5.0,5.0 0 1,0 10.0,0a5.0,5.0 0 1,0 -10.0,0M1062.2,1090.3a5.0,5.0 0 1,0 10.0,0a5.0,5.0 0 1,0 -10.0,0M1043.8,1180.1a5.0,5.0 0 1,0 10.0,0a5.0,5.0 0 1,0 -10.0,0M1034.4,1178.1a5.0,5.0 0 1,0 10.0,0a5.0,5.0 0 1,0 -10.0,0M1076.9,1169.7a5.0,5.0 0 1,0 10.0,0a5.0,5.0 0 1,0 -10.0,0M1068.5,1178.9a5.0,5.0 0 1,0 10.0,0a5.0,5.0 0 1,0 -10.0,0M1083.5,1156.8a5.0,5.0 0 1,0 10.0,0a5.0,5.0 0 1,0 -10.0,0M1043.0,1079.3a5.0,5.0 0 1,0 10.0,0a5.0,5.0 0 1,0 -10.0,0M1029.6,1109.2a5.0,5.0 0 1,0 10.0,0a5.0,5.0 0 1,0 -10.0,0M1092.8,1136.7a5.0,5.0 0 1,0 10.0,0a5.0,5.0 0 1,0 -10.0,0M1093.2,1148.1a5.0,5.0 0 1,0 10.0,0a5.0,5.0 0 1,0 -10.0,0M1013.5,1158.5a5.0,5.0 0 1,0 10.0,0a5.0,5.0 0 1,0 -10.0,0M1000.0,1139.6a5.0,5.0 0 1,0 10.0,0a5.0,5.0 0 1,0 -10.0,0M1073.8,1116.6a5.0,5.0 0 1,0 10.0,0a5.0,5.0 0 1,0 -10.0,0M1060.0,1190.7a5.0,5.0 0 1,0 10.0,0a5.0,5.0 0 1,0 -10.0,0M1081.7,1168.1a5.0,5.0 0 1,0 10.0,0a5.0,5.0 0 1,0 -10.0,0M1006.4,1149.4a5.0,5.0 0 1,0 10.0,0a5.0,5.0 0 1,0 -10.0,0M1019.9,1168.8a5.0,5.0 0 1,0 10.0,0a5.0,5.0 0 1,0 -10.0,0M1088.5,1157.4a5.0,5.0 0 1,0 10.0,0a5.0,5.0 0 1,0 -10.0,0M1056.9,1073.7a5.0,5.0 0 1,0 10.0,0a5.0,5.0 0 1,0 -10.0,0M1092.8,1159.9a5.0,5.0 0 1,0 10.0,0a5.0,5.0 0 1,0 -10.0,0M1029.5,1179.3a5.0,5.0 0 1,0 10.0,0a5.0,5.0 0 1,0 -10.0,0M1060.8,1076.8a5.0,5.0 0 1,0 10.0,0a5.0,5.0 0 1,0 -10.0,0M1097.6,1150.5a5.0,5.0 0 1,0 10.0,0a5.0,5.0 0 1,0 -10.0,0M1010.5,1153.2a5.0,5.0 0 1,0 10.0,0a5.0,5.0 0 1,0 -10.0,0M1038.2,1080.6a5.0,5.0 0 1,0 10.0,0a5.0,5.0 0 1,0 -10.0,0M1038.7,1094.1a5.0,5.0 0 1,0 10.0,0a5.0,5.0 0 1,0 -10.0,0M1017.9,1123.4a5.0,5.0 0 1,0 10.0,0a5.0,5.0 0 1,0 -10.0,0M1099.5,1145.8a5.0,5.0 0 1,0 10.0,0a5.0,5.0 0 1,0 -10.0,0M1061.9,1081.7a5.0,5.0 0 1,0 10.0,0a5.0,5.0 0 1,0 -10.0,0M1013.3,1125.2a5.0,5.0 0 1,0 10.0,0a5.0,5.0 0 1,0 -10.0,0M1078.0,1113.9a5.0,5.0 0 1,0 10.0,0a5.0,5.0 0 1,0 -10.0,0M1040.2,1075.2a5.0,5.0 0 1,0 10.0,0a5.0,5.0 0 1,0 -10.0,0M1009.1,1160.9a5.0,5.0 0 1,0 10.0,0a5.0,5.0 0 1,0 -10.0,0M1034.5,1101.9a5.0,5.0 0 1,0 10.0,0a5.0,5.0 0 1,0 -10.0,0M1031.9,1173.2a5.0,5.0 0 1,0 10.0,0a5.0,5.0 0 1,0 -10.0,0M1015.0,1167.7a5.0,5.0 0 1,0 10.0,0a5.0,5.0 0 1,0 -10.0,0M1036.5,1085.4a5.0,5.0 0 1,0 10.0,0a5.0,5.0 0 1,0 -10.0,0M1092.0,1153.9a5.0,5.0 0 1,0 10.0,0a5.0,5.0 0 1,0 -10.0,0M1094.3,1131.5a5.0,5.0 0 1,0 10.0,0a5.0,5.0 0 1,0 -10.0,0M1101.9,1136.2a5.0,5.0 0 1,0 10.0,0a5.0,5.0 0 1,0 -10.0,0M1057.4,1184.9a5.0,5.0 0 1,0 10.0,0a5.0,5.0 0 1,0 -10.0,0M1078.9,1119.0a5.0,5.0 0 1,0 10.0,0a5.0,5.0 0 1,0 -10.0,0M1060.8,1070.6a5.0,5.0 0 1,0 10.0,0a5.0,5.0 0 1,0 -10.0,0M1004.7,1129.5a5.0,5.0 0 1,0 10.0,0a5.0,5.0 0 1,0 -10.0,0M1006.0,1155.4a5.0,5.0 0 1,0 10.0,0a5.0,5.0 0 1,0 -10.0,0M1001.2,1154.3a5.0,5.0 0 1,0 10.0,0a5.0,5.0 0 1,0 -10.0,0M1070.5,1174.0a5.0,5.0 0 1,0 10.0,0a5.0,5.0 0 1,0 -10.0,0M1082.8,1115.4a5.0,5.0 0 1,0 10.0,0a5.0,5.0 0 1,0 -10.0,0M1102.5,1151.7a5.0,5.0 0 1,0 10.0,0a5.0,5.0 0 1,0 -10.0,0M1092.6,1126.0a5.0,5.0 0 1,0 10.0,0a5.0,5.0 0 1,0 -10.0,0M1102.7,1141.1a5.0,5.0 0 1,0 10.0,0a5.0,5.0 0 1,0 -10.0,0M1041.2,1184.4a5.0,5.0 0 1,0 10.0,0a5.0,5.0 0 1,0 -10.0,0M1001.3,1149.1a5.0,5.0 0 1,0 10.0,0a5.0,5.0 0 1,0 -10.0,0M1097.6,1126.5a5.0,5.0 0 1,0 10.0,0a5.0,5.0 0 1,0 -10.0,0M996.7,1135.8a5.0,5.0 0 1,0 10.0,0a5.0,5.0 0 1,0 -10.0,0M997.7,1145.6a5.0,5.0 0 1,0 10.0,0a5.0,5.0 0 1,0 -10.0,0M1086.2,1170.2a5.0,5.0 0 1,0 10.0,0a5.0,5.0 0 1,0 -10.0,0M1096.4,1156.4a5.0,5.0 0 1,0 10.0,0a5.0,5.0 0 1,0 -10.0,0M1106.9,1138.4a5.0,5.0 0 1,0 10.0,0a5.0,5.0 0 1,0 -10.0,0M1099.3,1131.3a5.0,5.0 0 1,0 10.0,0a5.0,5.0 0 1,0 -10.0,0M1000.6,1132.4a5.0,5.0 0 1,0 10.0,0a5.0,5.0 0 1,0 -10.0,0M1061.1,1181.6a5.0,5.0 0 1,0 10.0,0a5.0,5.0 0 1,0 -10.0,0M1106.6,1144.2a5.0,5.0 0 1,0 10.0,0a5.0,5.0 0 1,0 -10.0,0M995.2,1150.0a5.0,5.0 0 1,0 10.0,0a5.0,5.0 0 1,0 -10.0,0M999.1,1127.6a5.0,5.0 0 1,0 10.0,0a5.0,5.0 0 1,0 -10.0,0M994.5,1140.3a5.0,5.0 0 1,0 10.0,0a5.0,5.0 0 1,0 -10.0,0M991.3,1146.8a5.0,5.0 0 1,0 10.0,0a5.0,5.0 0 1,0 -10.0,0M1084.3,1120.1a5.0,5.0 0 1,0 10.0,0a5.0,5.0 0 1,0 -10.0,0M1008.3,1125.9a5.0,5.0 0 1,0 10.0,0a5.0,5.0 0 1,0 -10.0,0M1105.1,1156.0a5.0,5.0 0 1,0 10.0,0a5.0,5.0 0 1,0 -10.0,0M991.8,1134.7a5.0,5.0 0 1,0 10.0,0a5.0,5.0 0 1,0 -10.0,0M1014.4,1119.8a5.0,5.0 0 1,0 10.0,0a5.0,5.0 0 1,0 -10.0,0M1067.2,1089.7a5.0,5.0 0 1,0 10.0,0a5.0,5.0 0 1,0 -10.0,0M1104.3,1130.9a5.0,5.0 0 1,0 10.0,0a5.0,5.0 0 1,0 -10.0,0M1066.7,1083.0a5.0,5.0 0 1,0 10.0,0a5.0,5.0 0 1,0 -10.0,0M994.1,1128.3a5.0,5.0 0 1,0 10.0,0a5.0,5.0 0 1,0 -10.0,0M1102.3,1124.8a5.0,5.0 0 1,0 10.0,0a5.0,5.0 0 1,0 -10.0,0M1087.0,1165.3a5.0,5.0 0 1,0 10.0,0a5.0,5.0 0 1,0 -10.0,0M1036.5,1071.8a5.0,5.0 0 1,0 10.0,0a5.0,5.0 0 1,0 -10.0,0M1096.9,1162.7a5.0,5.0 0 1,0 10.0,0a5.0,5.0 0 1,0 -10.0,0M1004.7,1163.4a5.0,5.0 0 1,0 10.0,0a5.0,5.0 0 1,0 -10.0,0M1110.8,1135.3a5.0,5.0 0 1,0 10.0,0a5.0,5.0 0 1,0 -10.0,0M1111.3,1140.7a5.0,5.0 0 1,0 10.0,0a5.0,5.0 0 1,0 -10.0,0M1108.7,1152.6a5.0,5.0 0 1,0 10.0,0a5.0,5.0 0 1,0 -10.0,0M989.5,1140.9a5.0,5.0 0 1,0 10.0,0a5.0,5.0 0 1,0 -10.0,0M1050.8,993.6a5.0,5.0 0 1,0 10.0,0a5.0,5.0 0 1,0 -10.0,0M1050.8,1030.2a5.0,5.0 0 1,0 10.0,0a5.0,5.0 0 1,0 -10.0,0M1050.0,1048.0a5.0,5.0 0 1,0 10.0,0a5.0,5.0 0 1,0 -10.0,0M1051.0,1051.6a5.0,5.0 0 1,0 10.0,0a5.0,5.0 0 1,0 -10.0,0M1050.8,1226.2a5.0,5.0 0 1,0 10.0,0a5.0,5.0 0 1,0 -10.0,0" fill="#ff6400"/>
<line x1="831.00" y1="1104.60" x2="894.40" y2="1104.60" stroke="#76069a" stroke-width="3" stroke-linecap="butt"/>
<line x1="1023.60" y1="1081.90" x2="1088.00" y2="1081.90" stroke="#ff6400" stroke-width="3" stroke-linecap="butt"/>
<text x="0.12" y="29.75" textLength="17.69" lengthAdjust="spacingAndGlyphs" font-family="Liberation Sans" font-weight="bold" font-style="normal" font-size="36" fill="#000" stroke="#000" stroke-width="0.6">a</text>
<text x="35.05" y="46.20" font-family="Liberation Sans" font-weight="bold" font-style="normal" font-size="20" fill="#000" >10000</text>
<text x="46.05" y="121.80" font-family="Liberation Sans" font-weight="bold" font-style="normal" font-size="20" fill="#000" >1000</text>
<text x="57.30" y="197.40" font-family="Liberation Sans" font-weight="bold" font-style="normal" font-size="20" fill="#000" >100</text>
<text x="68.30" y="273.10" font-family="Liberation Sans" font-weight="bold" font-style="normal" font-size="20" fill="#000" >10</text>
<text x="79.30" y="348.70" font-family="Liberation Sans" font-weight="bold" font-style="normal" font-size="20" fill="#000" >1</text>
<text x="0" y="0" textLength="82.46" lengthAdjust="spacingAndGlyphs" transform="translate(18.80,237.83) rotate(-90)" font-family="Liberation Sans" font-weight="bold" font-style="normal" font-size="19.5" fill="#000" ><tspan font-style="italic">c1</tspan> index</text>
<text x="0" y="0" text-anchor="end" transform="translate(172.00,373.50) rotate(-45)" font-family="Liberation Sans" font-weight="bold" font-style="normal" font-size="20.5" fill="#000" >MCF7</text>
<text x="0" y="0" text-anchor="end" transform="translate(243.00,373.50) rotate(-45)" font-family="Liberation Sans" font-weight="bold" font-style="normal" font-size="20.5" fill="#000" >MDA-MB-231</text>
<text x="0" y="0" text-anchor="end" transform="translate(315.00,373.50) rotate(-45)" font-family="Liberation Sans" font-weight="bold" font-style="normal" font-size="20.5" fill="#000" >Group A</text>
<text x="0" y="0" text-anchor="end" transform="translate(387.00,373.50) rotate(-45)" font-family="Liberation Sans" font-weight="bold" font-style="normal" font-size="20.5" fill="#000" >Group B</text>
<text x="0" y="0" text-anchor="end" transform="translate(459.00,373.50) rotate(-45)" font-family="Liberation Sans" font-weight="bold" font-style="normal" font-size="20.5" fill="#000" >Group C</text>
<text x="0" y="0" text-anchor="end" transform="translate(530.00,373.50) rotate(-45)" font-family="Liberation Sans" font-weight="bold" font-style="normal" font-size="20.5" fill="#000" >Group D</text>
<text x="620.87" y="30.50" textLength="22.60" lengthAdjust="spacingAndGlyphs" font-family="Liberation Sans" font-weight="bold" font-style="normal" font-size="35" fill="#000" >b</text>
<text x="928.73" y="55.30" textLength="154.06" lengthAdjust="spacingAndGlyphs" font-family="Liberation Sans" font-weight="bold" font-style="normal" font-size="20" fill="#1773c0" >Student’s <tspan font-style="italic">T</tspan> test</text>
<text x="928.20" y="96.20" textLength="209.86" lengthAdjust="spacingAndGlyphs" font-family="Liberation Sans" font-weight="bold" font-style="normal" font-size="20" fill="#1773c0" >Mann–Whitney <tspan font-style="italic">U</tspan> test</text>
<text x="849.96" y="228.39" textLength="24.17" lengthAdjust="spacingAndGlyphs" transform="translate(0,228.39) scale(1,1.155) translate(0,-228.39)" font-family="Liberation Sans" font-weight="bold" font-style="normal" font-size="20" fill="#000" stroke="#000" stroke-width="0.6">ns</text>
<text x="948.21" y="289.59" textLength="24.17" lengthAdjust="spacingAndGlyphs" transform="translate(0,289.59) scale(1,1.155) translate(0,-289.59)" font-family="Liberation Sans" font-weight="bold" font-style="normal" font-size="20" fill="#000" stroke="#000" stroke-width="0.6">ns</text>
<text x="948.21" y="317.21" textLength="24.17" lengthAdjust="spacingAndGlyphs" transform="translate(0,317.21) scale(1,1.155) translate(0,-317.21)" font-family="Liberation Sans" font-weight="bold" font-style="normal" font-size="20" fill="#000" stroke="#000" stroke-width="0.6">ns</text>
<text x="849.96" y="353.29" textLength="24.17" lengthAdjust="spacingAndGlyphs" transform="translate(0,353.29) scale(1,1.155) translate(0,-353.29)" font-family="Liberation Sans" font-weight="bold" font-style="normal" font-size="20" fill="#000" stroke="#000" stroke-width="0.6">ns</text>
<text x="1045.71" y="353.29" textLength="24.17" lengthAdjust="spacingAndGlyphs" transform="translate(0,353.29) scale(1,1.155) translate(0,-353.29)" font-family="Liberation Sans" font-weight="bold" font-style="normal" font-size="20" fill="#000" stroke="#000" stroke-width="0.6">ns</text>
<text x="1045.71" y="381.36" textLength="24.17" lengthAdjust="spacingAndGlyphs" transform="translate(0,381.36) scale(1,1.155) translate(0,-381.36)" font-family="Liberation Sans" font-weight="bold" font-style="normal" font-size="20" fill="#000" stroke="#000" stroke-width="0.6">ns</text>
<text x="699.46" y="75.75" textLength="126.90" lengthAdjust="spacingAndGlyphs" font-family="Liberation Sans" font-weight="bold" font-style="normal" font-size="20" fill="#000" >MDA-MB-231</text>
<text x="826.18" y="140.75" textLength="57.32" lengthAdjust="spacingAndGlyphs" font-family="Liberation Sans" font-weight="bold" font-style="normal" font-size="20" fill="#000" >MCF7</text>
<text x="911.73" y="199.50" textLength="81.79" lengthAdjust="spacingAndGlyphs" font-family="Liberation Sans" font-weight="bold" font-style="normal" font-size="20" fill="#000" >Group A</text>
<text x="1007.97" y="261.00" textLength="83.07" lengthAdjust="spacingAndGlyphs" font-family="Liberation Sans" font-weight="bold" font-style="normal" font-size="20" fill="#000" >Group B</text>
<text x="1106.72" y="322.00" textLength="82.79" lengthAdjust="spacingAndGlyphs" font-family="Liberation Sans" font-weight="bold" font-style="normal" font-size="20" fill="#000" >Group C</text>
<text x="648.09" y="122.80" textLength="56.90" lengthAdjust="spacingAndGlyphs" font-family="Liberation Sans" font-weight="bold" font-style="normal" font-size="20" fill="#000" >MCF7</text>
<text x="622.32" y="184.00" textLength="82.20" lengthAdjust="spacingAndGlyphs" font-family="Liberation Sans" font-weight="bold" font-style="normal" font-size="20" fill="#000" >Group A</text>
<text x="622.32" y="244.80" textLength="82.71" lengthAdjust="spacingAndGlyphs" font-family="Liberation Sans" font-weight="bold" font-style="normal" font-size="20" fill="#000" >Group B</text>
<text x="622.33" y="307.10" textLength="82.18" lengthAdjust="spacingAndGlyphs" font-family="Liberation Sans" font-weight="bold" font-style="normal" font-size="20" fill="#000" >Group C</text>
<text x="622.33" y="368.80" textLength="82.45" lengthAdjust="spacingAndGlyphs" font-family="Liberation Sans" font-weight="bold" font-style="normal" font-size="20" fill="#000" >Group D</text>
<text x="-0.27" y="518.60" textLength="19.20" lengthAdjust="spacingAndGlyphs" font-family="Liberation Sans" font-weight="bold" font-style="normal" font-size="34" fill="#000" >c</text>
<text x="46.35" y="528.20" font-family="Liberation Sans" font-weight="bold" font-style="normal" font-size="19.5" fill="#000" >15</text>
<text x="46.60" y="637.20" font-family="Liberation Sans" font-weight="bold" font-style="normal" font-size="19.5" fill="#000" >10</text>
<text x="57.35" y="745.80" font-family="Liberation Sans" font-weight="bold" font-style="normal" font-size="19.5" fill="#000" >5</text>
<text x="57.60" y="854.20" font-family="Liberation Sans" font-weight="bold" font-style="normal" font-size="19.5" fill="#000" >0</text>
<text x="123.74" y="886.00" textLength="86.64" lengthAdjust="spacingAndGlyphs" font-family="Liberation Sans" font-weight="bold" font-style="normal" font-size="20" fill="#000" >Vimentin</text>
<text x="306.20" y="886.00" textLength="65.83" lengthAdjust="spacingAndGlyphs" font-family="Liberation Sans" font-weight="bold" font-style="normal" font-size="20" fill="#000" >KRT16</text>
<text x="474.21" y="886.00" textLength="65.42" lengthAdjust="spacingAndGlyphs" font-family="Liberation Sans" font-weight="bold" font-style="normal" font-size="20" fill="#000" >KRT18</text>
<text x="204.74" y="919.00" textLength="253.71" lengthAdjust="spacingAndGlyphs" font-family="Liberation Sans" font-weight="bold" font-style="normal" font-size="20" fill="#000" >T24 cells (bladder cancer)</text>
<text x="0" y="0" textLength="280.28" lengthAdjust="spacingAndGlyphs" transform="translate(29.90,831.27) rotate(-90)" font-family="Liberation Sans" font-weight="bold" font-style="normal" font-size="20.5" fill="#000" >Normalized expression level</text>
<text x="611.00" y="541.45" font-family="Liberation Sans" font-weight="bold" font-style="normal" font-size="19.5" fill="#000" >60</text>
<text x="611.00" y="645.95" font-family="Liberation Sans" font-weight="bold" font-style="normal" font-size="19.5" fill="#000" >40</text>
<text x="611.00" y="750.95" font-family="Liberation Sans" font-weight="bold" font-style="normal" font-size="19.5" fill="#000" >20</text>
<text x="622.00" y="855.20" font-family="Liberation Sans" font-weight="bold" font-style="normal" font-size="19.5" fill="#000" >0</text>
<text x="689.24" y="886.25" textLength="86.64" lengthAdjust="spacingAndGlyphs" font-family="Liberation Sans" font-weight="bold" font-style="normal" font-size="20" fill="#000" >Vimentin</text>
<text x="860.41" y="886.25" textLength="65.63" lengthAdjust="spacingAndGlyphs" font-family="Liberation Sans" font-weight="bold" font-style="normal" font-size="20" fill="#000" >KRT16</text>
<text x="1021.21" y="886.25" textLength="65.52" lengthAdjust="spacingAndGlyphs" font-family="Liberation Sans" font-weight="bold" font-style="normal" font-size="20" fill="#000" >KRT18</text>
<text x="766.48" y="918.75" textLength="236.94" lengthAdjust="spacingAndGlyphs" font-family="Liberation Sans" font-weight="bold" font-style="normal" font-size="20" fill="#000" >A549 cells (lung cancer)</text>
<text x="1077.41" y="523.50" textLength="80.40" lengthAdjust="spacingAndGlyphs" font-family="Liberation Sans" font-weight="bold" font-style="normal" font-size="20" fill="#000" >Hypoxia</text>
<text x="1077.40" y="566.40" textLength="95.80" lengthAdjust="spacingAndGlyphs" font-family="Liberation Sans" font-weight="bold" font-style="normal" font-size="20" fill="#000" >Normoxia</text>
<text x="-1.46" y="983.75" textLength="23.48" lengthAdjust="spacingAndGlyphs" font-family="Liberation Sans" font-weight="bold" font-style="normal" font-size="33" fill="#000" >d</text>
<text x="55.50" y="1004.70" font-family="Liberation Sans" font-weight="bold" font-style="normal" font-size="20.5" fill="#000" >100000</text>
<text x="66.75" y="1062.95" font-family="Liberation Sans" font-weight="bold" font-style="normal" font-size="20.5" fill="#000" >10000</text>
<text x="78.25" y="1121.20" font-family="Liberation Sans" font-weight="bold" font-style="normal" font-size="20.5" fill="#000" >1000</text>
<text x="89.75" y="1179.45" font-family="Liberation Sans" font-weight="bold" font-style="normal" font-size="20.5" fill="#000" >100</text>
<text x="101.00" y="1237.70" font-family="Liberation Sans" font-weight="bold" font-style="normal" font-size="20.5" fill="#000" >10</text>
<text x="112.25" y="1295.95" font-family="Liberation Sans" font-weight="bold" font-style="normal" font-size="20.5" fill="#000" >1</text>
<text x="0" y="0" textLength="82.46" lengthAdjust="spacingAndGlyphs" transform="translate(38.80,1187.13) rotate(-90)" font-family="Liberation Sans" font-weight="bold" font-style="normal" font-size="19.5" fill="#000" ><tspan font-style="italic">c1</tspan> index</text>
<text x="227.72" y="1327.00" textLength="79.59" lengthAdjust="spacingAndGlyphs" font-family="Liberation Sans" font-weight="bold" font-style="normal" font-size="20" fill="#000" >Hypoxia</text>
<text x="407.73" y="1327.00" textLength="93.77" lengthAdjust="spacingAndGlyphs" font-family="Liberation Sans" font-weight="bold" font-style="normal" font-size="20" fill="#000" >Normoxia</text>
<text x="231.24" y="1360.00" textLength="247.34" lengthAdjust="spacingAndGlyphs" font-family="Liberation Sans" font-weight="bold" font-style="normal" font-size="20" fill="#000" >T24 cell (Bladder cancer)</text>
<text x="624.56" y="983.40" textLength="21.79" lengthAdjust="spacingAndGlyphs" font-family="Liberation Sans" font-weight="bold" font-style="normal" font-size="34" fill="#000" >e</text>
<text x="655.75" y="998.80" font-family="Liberation Sans" font-weight="bold" font-style="normal" font-size="20.5" fill="#000" >10000</text>
<text x="667.25" y="1073.60" font-family="Liberation Sans" font-weight="bold" font-style="normal" font-size="20.5" fill="#000" >1000</text>
<text x="678.75" y="1148.40" font-family="Liberation Sans" font-weight="bold" font-style="normal" font-size="20.5" fill="#000" >100</text>
<text x="690.00" y="1223.20" font-family="Liberation Sans" font-weight="bold" font-style="normal" font-size="20.5" fill="#000" >10</text>
<text x="701.25" y="1298.00" font-family="Liberation Sans" font-weight="bold" font-style="normal" font-size="20.5" fill="#000" >1</text>
<text x="0" y="0" textLength="82.46" lengthAdjust="spacingAndGlyphs" transform="translate(639.30,1187.13) rotate(-90)" font-family="Liberation Sans" font-weight="bold" font-style="normal" font-size="19.5" fill="#000" ><tspan font-style="italic">c1</tspan> index</text>
<text x="827.72" y="1327.50" textLength="79.59" lengthAdjust="spacingAndGlyphs" font-family="Liberation Sans" font-weight="bold" font-style="normal" font-size="20" fill="#000" >Hypoxia</text>
<text x="1007.73" y="1327.50" textLength="93.77" lengthAdjust="spacingAndGlyphs" font-family="Liberation Sans" font-weight="bold" font-style="normal" font-size="20" fill="#000" >Normoxia</text>
<text x="830.98" y="1362.50" textLength="243.96" lengthAdjust="spacingAndGlyphs" font-family="Liberation Sans" font-weight="bold" font-style="normal" font-size="20" fill="#000" >A549 cells (Lung cancer)</text>
</svg></body></html>
